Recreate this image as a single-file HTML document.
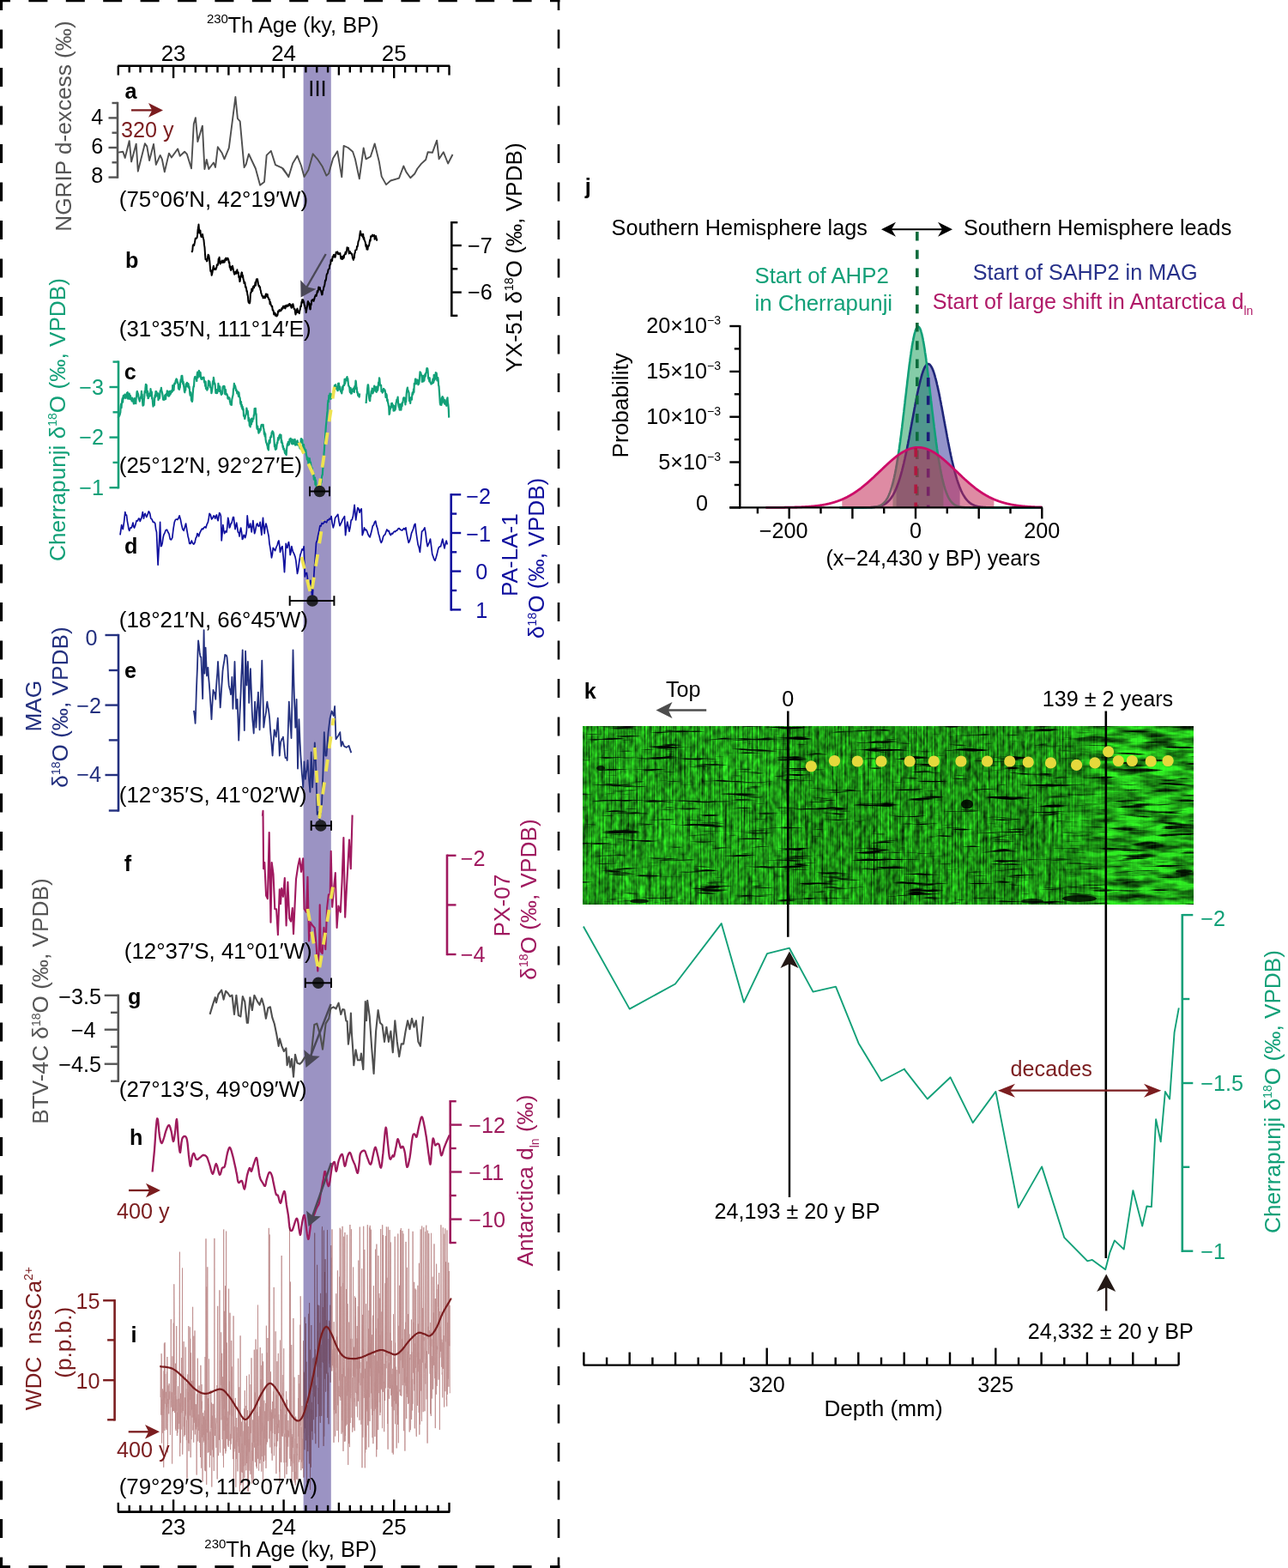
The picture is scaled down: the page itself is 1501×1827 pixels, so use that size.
<!DOCTYPE html><html><head><meta charset="utf-8"><style>html,body{margin:0;padding:0;background:#fff;overflow:hidden;width:1501px;height:1827px;}svg{display:block}</style></head><body><svg width="1501" height="1827" viewBox="0 0 1501 1827" font-family='"Liberation Sans", Arial, sans-serif'>
<rect width="1501" height="1827" fill="#fff"/>
<g stroke="#000" fill="none">
<line x1="1.5" y1="-10" x2="1.5" y2="1830" stroke-width="3.2" stroke-dasharray="22 22.5" stroke-dashoffset="0"/>
<line x1="651" y1="-10" x2="651" y2="1830" stroke-width="2.6" stroke-dasharray="22 22.5" stroke-dashoffset="0"/>
<line x1="-10" y1="1" x2="652.4" y2="1" stroke-width="2.6" stroke-dasharray="22 21.4" stroke-dashoffset="0"/>
<line x1="-10" y1="1825.5" x2="652.4" y2="1825.5" stroke-width="3.2" stroke-dasharray="22 21.4" stroke-dashoffset="0"/>
</g>
<rect x="353.6" y="77" width="32.2" height="1684" fill="#9b93c3"/>
<line x1="137.3" y1="76.8" x2="524.3" y2="76.8" stroke="#000" stroke-width="2.6" />
<line x1="137.8" y1="76.8" x2="137.8" y2="87.6" stroke="#000" stroke-width="2.4" />
<line x1="150.7" y1="76.8" x2="150.7" y2="84.5" stroke="#000" stroke-width="2.4" />
<line x1="163.5" y1="76.8" x2="163.5" y2="84.5" stroke="#000" stroke-width="2.4" />
<line x1="176.4" y1="76.8" x2="176.4" y2="84.5" stroke="#000" stroke-width="2.4" />
<line x1="189.2" y1="76.8" x2="189.2" y2="84.5" stroke="#000" stroke-width="2.4" />
<line x1="202.1" y1="76.8" x2="202.1" y2="91.1" stroke="#000" stroke-width="2.4" />
<line x1="215.0" y1="76.8" x2="215.0" y2="84.5" stroke="#000" stroke-width="2.4" />
<line x1="227.8" y1="76.8" x2="227.8" y2="84.5" stroke="#000" stroke-width="2.4" />
<line x1="240.7" y1="76.8" x2="240.7" y2="84.5" stroke="#000" stroke-width="2.4" />
<line x1="253.5" y1="76.8" x2="253.5" y2="84.5" stroke="#000" stroke-width="2.4" />
<line x1="266.4" y1="76.8" x2="266.4" y2="87.6" stroke="#000" stroke-width="2.4" />
<line x1="279.2" y1="76.8" x2="279.2" y2="84.5" stroke="#000" stroke-width="2.4" />
<line x1="292.1" y1="76.8" x2="292.1" y2="84.5" stroke="#000" stroke-width="2.4" />
<line x1="304.9" y1="76.8" x2="304.9" y2="84.5" stroke="#000" stroke-width="2.4" />
<line x1="317.8" y1="76.8" x2="317.8" y2="84.5" stroke="#000" stroke-width="2.4" />
<line x1="330.6" y1="76.8" x2="330.6" y2="91.1" stroke="#000" stroke-width="2.4" />
<line x1="343.5" y1="76.8" x2="343.5" y2="84.5" stroke="#000" stroke-width="2.4" />
<line x1="356.4" y1="76.8" x2="356.4" y2="84.5" stroke="#000" stroke-width="2.4" />
<line x1="369.2" y1="76.8" x2="369.2" y2="84.5" stroke="#000" stroke-width="2.4" />
<line x1="382.1" y1="76.8" x2="382.1" y2="84.5" stroke="#000" stroke-width="2.4" />
<line x1="394.9" y1="76.8" x2="394.9" y2="87.6" stroke="#000" stroke-width="2.4" />
<line x1="407.8" y1="76.8" x2="407.8" y2="84.5" stroke="#000" stroke-width="2.4" />
<line x1="420.6" y1="76.8" x2="420.6" y2="84.5" stroke="#000" stroke-width="2.4" />
<line x1="433.5" y1="76.8" x2="433.5" y2="84.5" stroke="#000" stroke-width="2.4" />
<line x1="446.3" y1="76.8" x2="446.3" y2="84.5" stroke="#000" stroke-width="2.4" />
<line x1="459.2" y1="76.8" x2="459.2" y2="91.1" stroke="#000" stroke-width="2.4" />
<line x1="472.1" y1="76.8" x2="472.1" y2="84.5" stroke="#000" stroke-width="2.4" />
<line x1="484.9" y1="76.8" x2="484.9" y2="84.5" stroke="#000" stroke-width="2.4" />
<line x1="497.8" y1="76.8" x2="497.8" y2="84.5" stroke="#000" stroke-width="2.4" />
<line x1="510.6" y1="76.8" x2="510.6" y2="84.5" stroke="#000" stroke-width="2.4" />
<line x1="523.5" y1="76.8" x2="523.5" y2="87.6" stroke="#000" stroke-width="2.4" />
<line x1="137.3" y1="1761.6" x2="524.3" y2="1761.6" stroke="#000" stroke-width="2.6" />
<line x1="137.8" y1="1761.6" x2="137.8" y2="1750.8" stroke="#000" stroke-width="2.4" />
<line x1="150.7" y1="1761.6" x2="150.7" y2="1753.9" stroke="#000" stroke-width="2.4" />
<line x1="163.5" y1="1761.6" x2="163.5" y2="1753.9" stroke="#000" stroke-width="2.4" />
<line x1="176.4" y1="1761.6" x2="176.4" y2="1753.9" stroke="#000" stroke-width="2.4" />
<line x1="189.2" y1="1761.6" x2="189.2" y2="1753.9" stroke="#000" stroke-width="2.4" />
<line x1="202.1" y1="1761.6" x2="202.1" y2="1747.3" stroke="#000" stroke-width="2.4" />
<line x1="215.0" y1="1761.6" x2="215.0" y2="1753.9" stroke="#000" stroke-width="2.4" />
<line x1="227.8" y1="1761.6" x2="227.8" y2="1753.9" stroke="#000" stroke-width="2.4" />
<line x1="240.7" y1="1761.6" x2="240.7" y2="1753.9" stroke="#000" stroke-width="2.4" />
<line x1="253.5" y1="1761.6" x2="253.5" y2="1753.9" stroke="#000" stroke-width="2.4" />
<line x1="266.4" y1="1761.6" x2="266.4" y2="1750.8" stroke="#000" stroke-width="2.4" />
<line x1="279.2" y1="1761.6" x2="279.2" y2="1753.9" stroke="#000" stroke-width="2.4" />
<line x1="292.1" y1="1761.6" x2="292.1" y2="1753.9" stroke="#000" stroke-width="2.4" />
<line x1="304.9" y1="1761.6" x2="304.9" y2="1753.9" stroke="#000" stroke-width="2.4" />
<line x1="317.8" y1="1761.6" x2="317.8" y2="1753.9" stroke="#000" stroke-width="2.4" />
<line x1="330.6" y1="1761.6" x2="330.6" y2="1747.3" stroke="#000" stroke-width="2.4" />
<line x1="343.5" y1="1761.6" x2="343.5" y2="1753.9" stroke="#000" stroke-width="2.4" />
<line x1="356.4" y1="1761.6" x2="356.4" y2="1753.9" stroke="#000" stroke-width="2.4" />
<line x1="369.2" y1="1761.6" x2="369.2" y2="1753.9" stroke="#000" stroke-width="2.4" />
<line x1="382.1" y1="1761.6" x2="382.1" y2="1753.9" stroke="#000" stroke-width="2.4" />
<line x1="394.9" y1="1761.6" x2="394.9" y2="1750.8" stroke="#000" stroke-width="2.4" />
<line x1="407.8" y1="1761.6" x2="407.8" y2="1753.9" stroke="#000" stroke-width="2.4" />
<line x1="420.6" y1="1761.6" x2="420.6" y2="1753.9" stroke="#000" stroke-width="2.4" />
<line x1="433.5" y1="1761.6" x2="433.5" y2="1753.9" stroke="#000" stroke-width="2.4" />
<line x1="446.3" y1="1761.6" x2="446.3" y2="1753.9" stroke="#000" stroke-width="2.4" />
<line x1="459.2" y1="1761.6" x2="459.2" y2="1747.3" stroke="#000" stroke-width="2.4" />
<line x1="472.1" y1="1761.6" x2="472.1" y2="1753.9" stroke="#000" stroke-width="2.4" />
<line x1="484.9" y1="1761.6" x2="484.9" y2="1753.9" stroke="#000" stroke-width="2.4" />
<line x1="497.8" y1="1761.6" x2="497.8" y2="1753.9" stroke="#000" stroke-width="2.4" />
<line x1="510.6" y1="1761.6" x2="510.6" y2="1753.9" stroke="#000" stroke-width="2.4" />
<line x1="523.5" y1="1761.6" x2="523.5" y2="1750.8" stroke="#000" stroke-width="2.4" />
<text x="202.1" y="71.2" font-size="25.9" fill="#000" text-anchor="middle" font-weight="normal" >23</text>
<text x="202.1" y="1787.6" font-size="25.9" fill="#000" text-anchor="middle" font-weight="normal" >23</text>
<text x="330.6" y="71.2" font-size="25.9" fill="#000" text-anchor="middle" font-weight="normal" >24</text>
<text x="330.6" y="1787.6" font-size="25.9" fill="#000" text-anchor="middle" font-weight="normal" >24</text>
<text x="459.2" y="71.2" font-size="25.9" fill="#000" text-anchor="middle" font-weight="normal" >25</text>
<text x="459.2" y="1787.6" font-size="25.9" fill="#000" text-anchor="middle" font-weight="normal" >25</text>
<text x="240.9" y="26.7" font-size="15">230</text>
<text x="265.6" y="37.8" font-size="25.4" fill="#000" text-anchor="start" font-weight="normal" >Th Age (ky, BP)</text>
<text x="238.3" y="1804" font-size="15">230</text>
<text x="263.3" y="1814.0" font-size="25.4" fill="#000" text-anchor="start" font-weight="normal" >Th Age (ky, BP)</text>
<text x="370.0" y="111.8" font-size="25.6" fill="#000" text-anchor="middle" font-weight="normal" >III</text>
<line x1="137.0" y1="118.8" x2="137.0" y2="207.8" stroke="#555555" stroke-width="2.6" />
<line x1="130.5" y1="120.0" x2="137.0" y2="120.0" stroke="#555555" stroke-width="2.4" />
<line x1="126.5" y1="137.4" x2="137.0" y2="137.4" stroke="#555555" stroke-width="2.4" />
<line x1="130.5" y1="154.7" x2="137.0" y2="154.7" stroke="#555555" stroke-width="2.4" />
<line x1="126.5" y1="172.0" x2="137.0" y2="172.0" stroke="#555555" stroke-width="2.4" />
<line x1="130.5" y1="189.3" x2="137.0" y2="189.3" stroke="#555555" stroke-width="2.4" />
<line x1="126.5" y1="206.6" x2="137.0" y2="206.6" stroke="#555555" stroke-width="2.4" />
<text x="120.2" y="144.8" font-size="25.2" fill="#000" text-anchor="end" font-weight="normal" >4</text>
<text x="120.2" y="178.7" font-size="25.2" fill="#000" text-anchor="end" font-weight="normal" >6</text>
<text x="120.2" y="212.9" font-size="25.2" fill="#000" text-anchor="end" font-weight="normal" >8</text>
<text x="83.0" y="147.0" font-size="26.2" fill="#555555" text-anchor="middle" transform="rotate(-90 83.0 147.0)">NGRIP d-excess (‰)</text>
<text x="145.4" y="114.8" font-size="25.2" fill="#000" text-anchor="start" font-weight="bold" >a</text>
<line x1="153.0" y1="128.4" x2="178.1" y2="128.4" stroke="#7b1d1f" stroke-width="2.3" />
<path d="M190.0,128.4 L173.0,136.7 L177.2,128.4 L173.0,120.1 Z" fill="#7b1d1f"/>
<text x="141.0" y="160.0" font-size="25.2" fill="#7b1d1f" text-anchor="start" font-weight="normal" >320 y</text>
<text x="138.8" y="240.8" font-size="25.9" fill="#000" text-anchor="start" font-weight="normal" >(75°06′N, 42°19′W)</text>
<path d="M137.7,177.6 143.3,176.7 145.7,183.9 150.7,164.1 153.1,188.4 158.7,167.6 160.8,199.6 168.9,167.2 171.3,170.6 174.1,187.0 179.0,167.9 181.8,191.9 186.7,180.9 188.8,185.3 191.8,200.4 196.9,178.6 199.9,183.5 207.2,173.4 209.7,181.8 215.1,176.7 217.9,179.7 223.0,196.3 225.8,144.5 227.9,137.1 230.4,165.1 235.9,146.6 238.4,197.0 240.8,186.0 243.3,197.0 248.9,189.5 251.0,194.9 253.8,171.3 258.7,178.3 261.5,185.3 266.8,172.3 274.4,112.9 276.9,138.1 279.7,141.3 284.6,195.1 286.7,191.6 289.9,179.5 297.9,196.5 303.1,215.8 308.0,211.9 310.7,180.9 315.8,175.8 321.0,192.1 328.7,195.6 336.4,205.9 330.0,196.5 336.3,206.3 341.2,190.2 346.5,181.6 351.0,193.0 354.5,206.0 359.4,197.9 364.7,179.3 369.9,185.3 375.5,193.7 380.4,204.6 383.2,202.1 388.1,184.6 393.2,176.2 398.3,206.3 400.6,169.9 405.5,172.0 411.1,176.7 413.9,185.3 418.8,208.4 423.7,172.5 426.5,185.3 431.8,182.5 436.7,167.4 441.9,188.8 444.7,205.6 450.0,215.1 455.2,210.5 465.0,207.7 470.3,193.5 473.4,200.4 478.3,207.3 483.2,202.5 486.4,196.5 490.9,190.9 496.2,186.0 498.6,177.2 503.9,177.8 509.1,163.7 511.6,185.3 516.8,177.2 522.1,190.5 527.5,180.0" fill="none" stroke="#4f4f4f" stroke-width="1.9" stroke-linejoin="round" />
<line x1="526.3" y1="258.0" x2="526.3" y2="369.0" stroke="#000" stroke-width="2.6" />
<line x1="526.3" y1="259.2" x2="533.3" y2="259.2" stroke="#000" stroke-width="2.4" />
<line x1="526.3" y1="286.0" x2="537.8" y2="286.0" stroke="#000" stroke-width="2.4" />
<line x1="526.3" y1="313.3" x2="533.3" y2="313.3" stroke="#000" stroke-width="2.4" />
<line x1="526.3" y1="340.6" x2="537.8" y2="340.6" stroke="#000" stroke-width="2.4" />
<line x1="526.3" y1="367.8" x2="533.3" y2="367.8" stroke="#000" stroke-width="2.4" />
<text x="545.0" y="294.5" font-size="25.2" fill="#000" text-anchor="start" font-weight="normal" >−7</text>
<text x="545.0" y="349.0" font-size="25.2" fill="#000" text-anchor="start" font-weight="normal" >−6</text>
<text x="607.6" y="300.0" font-size="26.2" fill="#000" text-anchor="middle" transform="rotate(-90 607.6 300.0)">YX-51 δ<tspan font-size="14" dy="-9.5">18</tspan><tspan dy="9.5">O</tspan> (‰, VPDB)</text>
<text x="146.0" y="311.6" font-size="25.2" fill="#000" text-anchor="start" font-weight="bold" >b</text>
<text x="138.8" y="391.8" font-size="25.9" fill="#000" text-anchor="start" font-weight="normal" >(31°35′N, 111°14′E)</text>
<path d="M223.4,292.1 223.9,293.3 224.3,292.0 224.8,286.2 225.3,285.1 225.7,286.0 226.2,286.1 226.6,283.9 227.1,281.8 227.6,278.3 228.0,277.6 228.5,277.9 229.0,277.6 229.6,276.8 230.1,273.4 230.6,267.4 231.1,265.0 231.5,261.5 231.9,265.9 232.3,271.5 232.9,271.1 233.4,268.4 233.9,273.5 234.4,275.8 234.9,276.0 235.5,274.7 236.0,273.0 236.5,275.8 237.0,277.9 237.5,279.8 238.0,285.2 238.5,288.4 239.0,296.3 239.5,302.1 240.0,301.9 240.5,303.0 241.0,304.4 241.6,303.9 242.1,299.4 242.6,296.7 243.0,297.4 243.3,297.5 243.8,300.7 244.3,304.2 244.8,310.4 245.3,315.9 245.8,314.8 246.3,317.5 246.7,320.8 247.2,319.0 247.8,316.0 248.4,311.3 248.9,309.9 249.4,314.0 250.0,313.8 250.5,313.7 251.0,312.8 251.5,314.0 251.9,312.4 252.4,311.6 252.8,308.4 253.3,308.2 253.8,309.0 254.2,307.3 254.7,301.4 255.1,302.8 255.6,299.8 256.1,304.8 256.7,307.5 257.2,306.3 257.7,305.7 258.2,304.5 258.7,303.6 259.1,306.0 259.6,303.9 260.1,305.8 260.5,303.5 261.0,304.4 261.4,305.6 261.9,304.9 262.3,301.9 262.8,301.7 263.3,300.6 263.8,303.1 264.3,302.5 264.8,301.6 265.3,300.7 265.8,301.6 266.3,302.9 266.8,306.0 267.3,305.4 267.7,311.4 268.2,310.2 268.6,313.6 269.1,315.0 269.6,311.1 270.0,313.7 270.5,311.6 270.9,309.8 271.4,311.8 271.8,313.8 272.3,316.5 272.8,318.2 273.2,319.7 273.7,318.0 274.1,316.7 274.6,317.5 275.1,318.9 275.5,315.9 276.0,316.8 276.4,314.3 276.9,318.5 277.4,318.3 277.8,317.4 278.3,323.1 278.8,323.0 279.4,328.1 279.8,327.3 280.3,321.6 280.7,322.5 281.2,318.4 281.7,317.4 282.1,317.8 282.6,323.1 283.0,320.9 283.5,324.9 284.0,326.6 284.5,330.0 285.0,328.4 285.5,329.7 286.0,334.7 286.5,333.9 287.0,335.8 287.5,339.7 287.9,339.0 288.4,343.5 288.9,345.3 289.3,350.8 289.8,352.7 290.3,350.9 290.9,353.4 291.4,351.5 291.9,342.3 292.4,340.4 292.8,340.8 293.3,336.4 293.8,336.8 294.2,339.0 294.7,336.6 295.1,334.0 295.6,333.4 296.1,335.3 296.5,332.9 297.0,332.7 297.5,329.1 298.0,332.7 298.5,327.1 299.0,325.2 299.5,325.6 300.0,325.1 300.6,328.5 301.1,332.0 301.6,333.5 302.0,332.6 302.5,334.8 303.0,334.3 303.4,337.5 303.9,338.9 304.3,341.5 304.8,342.6 305.3,344.6 305.7,345.1 306.2,345.0 306.6,347.3 307.1,347.0 307.6,346.2 308.0,345.4 308.5,347.3 308.9,347.2 309.4,344.5 309.9,342.5 310.3,343.4 310.8,342.7 311.2,345.7 311.7,342.9 312.1,346.4 312.6,346.4 313.1,348.1 313.6,349.4 314.1,348.8 314.6,354.3 315.1,351.9 315.6,355.0 316.1,355.7 316.6,357.1 317.2,356.8 317.7,361.4 318.2,361.0 318.7,362.4 319.2,366.5 319.7,364.2 320.1,365.0 320.6,364.8 321.0,367.8 321.5,367.2 322.0,366.6 322.5,368.5 323.0,367.6 323.5,367.2 324.1,362.6 324.6,363.4 325.1,362.6 325.6,361.1 326.1,362.3 326.6,362.0 327.1,362.4 327.6,360.3 328.1,361.2 328.6,358.7 329.1,359.4 329.5,359.7 330.0,356.8 330.5,356.8 331.0,358.5 331.5,358.8 332.0,356.5 332.5,359.4 333.0,356.7 333.5,355.7 334.0,355.9 334.5,357.3 335.0,355.6 335.4,355.2 335.9,356.5 336.4,355.9 336.8,355.7 337.2,354.0 337.6,354.2 338.1,356.0 338.6,354.7 339.1,357.3 339.6,358.8 340.0,358.4 340.5,356.6 341.0,354.5 341.4,354.2 341.9,356.3 342.4,358.7 342.9,360.3 343.5,360.0 344.0,364.0 344.5,366.5 345.0,364.8 345.5,361.2 346.0,361.1 346.5,359.6 346.9,363.9 347.4,362.2 347.9,363.6 348.3,364.2 348.8,365.1 349.3,362.2 349.8,360.3 350.4,356.4 350.9,357.2 351.4,351.9 351.8,351.1 352.3,349.1 352.8,352.4 353.2,349.2 353.7,351.1 354.2,351.7 354.7,356.0 355.2,355.7 355.7,359.4 356.2,358.8 356.7,364.2 357.2,361.3 357.7,358.5 358.1,356.3 358.6,352.2 359.0,351.1 359.5,353.4 360.0,352.6 360.4,355.5 360.9,357.8 361.3,360.3 361.8,360.4 362.3,353.8 362.7,355.2 363.2,350.1 363.6,349.6 364.1,350.0 364.6,349.0 365.0,349.4 365.5,350.9 365.9,349.6 366.4,348.1 366.9,345.8 367.3,344.9 367.8,343.7 368.2,345.0 368.7,344.8 369.3,341.7 369.8,338.9 370.3,340.6 370.8,338.6 371.3,334.5 371.8,337.1 372.3,337.1 372.8,335.0 373.3,337.9 373.7,338.4 374.2,339.4 374.7,341.6 375.1,343.5 375.6,343.2 376.2,338.7 376.7,338.1 377.1,335.9 377.6,333.4 378.0,333.6 378.5,330.5 379.0,326.6 379.5,327.3 380.0,325.3 380.5,321.0 381.0,319.1 381.5,318.9 382.0,317.4 382.5,314.5 382.9,313.7 383.4,313.3 383.9,312.9 384.3,309.0 384.8,308.1 385.2,307.9 385.7,302.8 386.2,302.7 386.6,302.1 387.1,304.0 387.6,299.0 388.2,299.8 388.7,297.3 389.2,296.8 389.7,298.3 390.2,299.7 390.7,299.5 391.2,297.1 391.7,293.8 392.2,294.0 392.8,294.4 393.3,293.3 393.8,295.8 394.3,296.1 394.8,295.1 395.3,295.8 395.8,296.0 396.3,295.0 396.8,298.2 397.3,301.4 397.9,301.4 398.4,299.0 398.9,302.1 399.3,301.3 399.8,301.4 400.3,298.1 400.7,300.5 401.2,297.5 401.7,296.2 402.1,296.5 402.6,293.8 403.1,295.9 403.6,293.7 404.1,291.6 404.5,288.3 405.0,289.1 405.5,289.8 405.9,288.8 406.4,292.8 406.8,295.4 407.3,294.4 407.8,293.0 408.3,295.0 408.8,295.1 409.4,295.0 409.9,296.8 410.4,296.0 410.9,300.5 411.4,301.6 411.9,302.9 412.4,300.4 412.8,300.7 413.3,295.1 413.7,294.9 414.2,291.4 414.7,291.4 415.1,291.2 415.6,290.9 416.0,286.9 416.5,287.5 417.0,285.5 417.5,281.7 418.0,280.4 418.5,279.3 419.1,274.8 419.6,271.5 420.0,269.2 420.5,271.9 420.9,273.5 421.4,274.7 421.9,273.0 422.3,274.5 422.8,276.2 423.2,272.8 423.7,278.4 424.2,276.8 424.7,279.8 425.2,280.9 425.7,282.2 426.2,286.0 426.6,287.6 427.1,285.2 427.5,290.6 428.0,290.6 428.5,290.7 429.0,286.5 429.5,286.8 430.0,286.1 430.5,283.4 431.1,279.4 431.6,280.7 432.1,275.3 432.6,275.3 433.1,275.7 433.6,274.7 434.1,273.6 434.6,275.1 435.1,274.5 435.7,274.5 436.2,273.9 436.7,278.8 437.2,277.3 437.6,275.3 438.1,275.1 438.6,277.8 439.0,279.9 439.5,278.3" fill="none" stroke="#000" stroke-width="2.0" stroke-linejoin="round" />
<line x1="138.0" y1="420.4" x2="138.0" y2="569.4" stroke="#12a078" stroke-width="2.6" />
<line x1="131.5" y1="421.6" x2="138.0" y2="421.6" stroke="#12a078" stroke-width="2.4" />
<line x1="127.5" y1="451.0" x2="138.0" y2="451.0" stroke="#12a078" stroke-width="2.4" />
<line x1="131.5" y1="480.3" x2="138.0" y2="480.3" stroke="#12a078" stroke-width="2.4" />
<line x1="127.5" y1="509.6" x2="138.0" y2="509.6" stroke="#12a078" stroke-width="2.4" />
<line x1="131.5" y1="538.9" x2="138.0" y2="538.9" stroke="#12a078" stroke-width="2.4" />
<line x1="127.5" y1="568.2" x2="138.0" y2="568.2" stroke="#12a078" stroke-width="2.4" />
<text x="121.0" y="459.5" font-size="25.2" fill="#12a078" text-anchor="end" font-weight="normal" >−3</text>
<text x="121.0" y="518.1" font-size="25.2" fill="#12a078" text-anchor="end" font-weight="normal" >−2</text>
<text x="121.0" y="576.7" font-size="25.2" fill="#12a078" text-anchor="end" font-weight="normal" >−1</text>
<text x="75.5" y="489.0" font-size="26.2" fill="#12a078" text-anchor="middle" transform="rotate(-90 75.5 489.0)">Cherrapunji δ<tspan font-size="14" dy="-9.5">18</tspan><tspan dy="9.5">O</tspan> (‰, VPDB)</text>
<text x="144.8" y="442.2" font-size="25.2" fill="#000" text-anchor="start" font-weight="bold" >c</text>
<text x="138.8" y="551.2" font-size="25.9" fill="#000" text-anchor="start" font-weight="normal" >(25°12′N, 92°27′E)</text>
<path d="M137.9,486.9 138.3,483.7 138.7,485.2 139.1,482.8 139.5,483.8 139.9,481.9 140.3,480.5 140.7,473.4 141.1,470.6 141.5,475.1 141.9,469.9 142.3,466.1 142.7,464.1 143.1,468.7 143.5,462.4 143.9,460.9 144.3,464.1 144.7,461.5 145.1,463.3 145.5,459.6 145.9,462.9 146.3,463.0 146.7,464.0 147.1,460.1 147.5,460.9 147.9,457.9 148.3,460.8 148.7,457.2 149.1,464.6 149.5,463.9 149.9,464.2 150.3,461.2 150.7,458.5 151.1,465.0 151.5,461.2 151.9,460.9 152.4,463.4 152.8,465.5 153.2,464.8 153.6,467.3 154.1,463.6 154.5,467.7 154.9,465.9 155.4,465.9 155.8,470.4 156.2,470.4 156.6,464.2 157.1,465.0 157.5,466.1 157.9,468.9 158.3,470.2 158.7,463.2 159.1,462.2 159.5,456.8 159.9,455.9 160.3,457.6 160.7,458.3 161.1,459.6 161.5,463.3 161.9,464.9 162.3,465.9 162.8,467.6 163.2,464.1 163.6,464.5 164.1,462.2 164.5,461.7 164.9,455.9 165.3,460.5 165.7,459.5 166.1,468.5 166.5,472.6 166.9,471.9 167.4,471.9 167.8,465.6 168.2,463.4 168.6,455.8 169.1,457.5 169.5,451.9 169.9,447.9 170.4,448.4 170.8,448.8 171.2,457.7 171.6,461.2 172.1,455.9 172.5,464.1 172.9,463.9 173.3,462.0 173.8,458.7 174.2,458.7 174.6,461.6 175.1,461.3 175.5,453.2 175.9,455.9 176.3,459.1 176.8,456.6 177.2,464.6 177.6,463.6 178.1,470.5 178.5,473.6 178.9,471.9 179.3,469.9 179.8,472.1 180.2,464.3 180.6,460.3 181.1,462.7 181.5,456.0 181.9,457.9 182.3,456.2 182.8,458.8 183.2,461.4 183.6,458.4 184.1,458.3 184.5,466.1 184.9,463.9 185.3,460.6 185.8,464.3 186.2,462.1 186.6,456.0 187.1,455.0 187.5,453.8 187.9,451.9 188.3,455.1 188.8,456.7 189.2,458.4 189.6,460.9 190.1,465.6 190.5,463.9 190.9,465.9 191.3,464.3 191.8,465.7 192.2,460.7 192.6,460.2 193.1,464.9 193.5,460.1 193.9,458.9 194.3,459.6 194.8,455.4 195.2,459.0 195.6,460.7 196.0,456.3 196.5,461.6 196.9,460.9 197.3,461.3 197.8,455.8 198.2,459.8 198.6,457.8 199.0,458.8 199.5,455.4 199.9,455.9 200.3,456.8 200.8,456.2 201.2,449.3 201.6,448.8 202.0,453.1 202.5,454.6 202.9,449.9 203.3,446.7 203.8,447.2 204.2,447.2 204.6,443.8 205.0,443.0 205.5,441.5 205.9,441.9 206.3,442.5 206.8,446.1 207.2,445.4 207.6,447.7 208.0,452.8 208.5,448.2 208.9,453.9 209.3,452.2 209.8,451.3 210.2,445.4 210.6,442.4 211.0,445.0 211.5,438.0 211.9,437.9 212.3,437.8 212.8,442.5 213.2,447.3 213.6,444.8 214.0,449.3 214.5,451.9 214.9,455.9 215.3,457.3 215.8,452.5 216.2,454.6 216.6,447.4 217.0,447.4 217.5,448.6 217.9,445.9 218.3,450.3 218.7,447.8 219.2,447.0 219.6,447.3 220.0,451.9 220.5,450.2 220.9,453.9 221.3,458.5 221.7,460.7 222.2,457.2 222.6,460.0 223.0,466.5 223.5,467.1 223.9,467.9 224.3,466.5 224.7,458.6 225.2,452.8 225.6,450.1 226.0,450.4 226.5,442.0 226.9,439.9 227.3,439.0 227.7,440.0 228.1,440.4 228.5,440.7 228.9,441.9 229.3,444.0 229.7,436.2 230.2,433.5 230.6,439.9 231.0,438.0 231.5,437.4 231.9,431.9 232.3,432.5 232.7,438.0 233.2,438.9 233.6,434.1 234.0,439.7 234.5,441.6 234.9,439.9 235.3,441.8 235.7,441.2 236.2,439.8 236.6,440.9 237.0,440.5 237.5,439.7 237.9,443.9 238.3,445.8 238.7,444.4 239.2,449.9 239.6,444.6 240.0,453.0 240.5,452.4 240.9,451.9 241.3,454.6 241.7,453.5 242.2,452.7 242.6,449.1 243.0,443.5 243.4,448.8 243.9,445.9 244.3,444.6 244.7,447.1 245.2,451.6 245.6,451.8 246.0,452.3 246.4,458.2 246.9,455.9 247.3,453.6 247.7,448.2 248.1,444.2 248.5,446.1 248.9,439.9 249.3,442.3 249.7,447.4 250.2,446.4 250.6,447.6 251.0,453.0 251.4,458.0 251.9,457.9 252.3,454.0 252.7,458.1 253.2,458.0 253.6,455.9 254.0,454.9 254.4,446.9 254.9,449.9 255.3,452.4 255.7,455.8 256.2,450.4 256.6,453.7 257.0,455.1 257.4,458.7 257.9,459.9 258.3,458.1 258.7,457.4 259.2,458.8 259.6,451.1 260.0,450.4 260.4,449.9 260.9,451.9 261.3,449.9 261.7,450.6 262.2,459.3 262.6,459.4 263.0,454.1 263.4,458.8 263.9,459.9 264.3,459.1 264.7,459.9 265.1,461.0 265.5,464.3 265.9,464.6 266.3,463.5 266.7,462.9 267.1,464.8 267.5,463.9 267.9,467.9 268.3,469.2 268.7,471.3 269.1,469.3 269.5,467.6 269.9,471.9 270.3,465.6 270.7,463.7 271.1,462.1 271.6,460.0 272.0,453.0 272.4,453.0 272.9,446.9 273.3,449.2 273.7,448.9 274.1,449.7 274.6,452.0 275.0,455.0 275.4,453.9 275.9,455.9 276.3,458.4 276.7,457.3 277.1,456.3 277.6,459.6 278.0,461.8 278.4,457.4 278.9,461.9 279.3,462.7 279.7,464.1 280.1,469.4 280.6,471.3 281.0,468.0 281.4,473.8 281.9,471.9 282.3,476.3 282.7,473.9 283.1,477.6 283.6,476.7 284.0,484.5 284.4,485.2 284.9,485.9 285.3,488.0 285.7,486.0 286.1,483.9 286.6,483.3 287.0,480.7 287.4,475.7 287.9,477.9 288.3,481.2 288.7,478.9 289.1,482.6 289.6,490.5 290.0,486.9 290.4,489.9 290.8,495.9 291.3,491.6 291.7,497.4 292.1,490.6 292.6,488.4 293.0,494.5 293.4,487.5 293.8,489.9 294.2,491.4 294.6,488.5 295.0,488.5 295.4,488.1 295.8,483.5 296.2,484.0 296.6,476.2 297.0,480.9 297.4,477.4 297.8,475.9 298.2,482.5 298.6,482.2 299.0,492.4 299.4,498.7 299.8,499.9 300.2,496.7 300.6,499.4 301.0,501.9 301.4,504.6 301.7,500.1 302.1,500.1 302.5,503.3 302.9,499.8 303.3,501.5 303.7,501.2 304.2,496.8 304.6,495.2 305.0,494.9 305.4,494.9 305.8,495.3 306.2,496.7 306.7,494.8 307.1,499.1 307.5,499.9 307.9,506.0 308.3,503.4 308.7,508.3 309.2,505.4 309.6,511.9 310.0,514.6 310.4,516.0 310.8,516.6 311.2,518.4 311.7,519.8 312.1,522.8 312.5,523.3 312.9,524.4 313.3,515.9 313.7,513.2 314.2,516.5 314.6,515.6 315.0,509.9 315.4,509.2 315.8,507.8 316.2,509.3 316.6,504.0 317.1,503.8 317.5,502.4 317.9,504.8 318.3,503.3 318.7,505.0 319.1,507.7 319.6,514.9 320.0,520.4 320.4,518.2 320.8,523.3 321.2,523.9 321.6,520.3 322.1,522.9 322.5,519.5 322.9,515.7 323.3,516.6 323.7,513.0 324.1,510.1 324.6,512.7 325.0,510.6 325.4,507.6 325.8,507.9 326.2,506.3 326.6,506.6 327.1,510.6 327.5,506.9 327.9,515.7 328.3,513.1 328.7,515.8 329.1,516.3 329.6,521.1 330.0,519.9 330.4,523.7 330.8,522.5 331.2,522.9 331.6,525.9 332.1,528.1 332.5,525.3 332.9,529.2 333.3,528.2 333.7,529.9 334.1,523.5 334.6,519.3 335.0,517.1 335.4,519.0 335.8,514.9 336.2,516.2 336.6,518.4 337.1,517.3 337.5,511.9 337.9,511.3 338.3,511.6 338.7,510.8 339.1,513.3 339.6,515.2 340.0,516.7 340.4,517.2 340.8,512.0 341.2,517.4 341.6,512.9 342.0,514.1 342.5,514.9 342.9,517.1 343.3,511.9 343.7,512.1 344.1,518.6 344.5,514.2 345.0,515.0 345.4,517.1 345.8,516.6 346.2,518.5 346.6,513.3 347.0,516.5 347.5,517.7 347.9,518.6 348.3,516.7 348.7,520.2 349.1,519.9 349.5,522.4 350.0,516.2 350.4,516.1 350.8,511.2 351.2,511.1 351.6,511.6 352.0,515.1 352.5,512.5 352.9,521.1 353.3,519.9 353.7,524.2 354.1,518.2 354.5,526.1 355.0,522.2 355.4,526.4 355.8,527.1 356.2,524.0 356.6,526.6 357.0,530.1 357.5,532.0 357.9,535.4 358.3,534.9 358.7,533.4 359.1,537.9 359.5,540.0 360.0,538.0 360.4,537.3 360.8,534.2 361.2,537.8 361.6,538.2 362.0,538.9 362.5,544.0 362.9,545.6 363.3,546.6 363.7,545.3 364.1,549.9 364.5,552.5 365.0,553.8 365.4,551.4 365.8,558.7 366.2,558.1 366.6,558.2 367.0,556.5 367.4,564.6 367.9,559.4 368.3,562.4 368.7,567.0 369.1,566.6 369.5,567.7 369.9,567.6 370.4,568.6 370.8,567.3 371.2,566.4 371.6,568.2 372.0,564.5 372.4,562.7 372.9,567.1 373.3,566.5 373.7,563.7 374.1,562.4 374.5,562.1 374.9,556.6 375.4,553.6 375.8,553.2 376.2,546.4 376.6,544.7 377.0,531.9 377.4,529.9 377.9,524.5 378.3,517.0 378.7,515.9 379.1,508.3 379.5,501.6 379.9,496.0 380.4,491.2 380.8,486.6 381.2,482.0 381.6,478.9 382.0,470.4 382.4,466.6 382.9,468.3 383.3,460.9 383.7,460.9 384.1,461.6 384.5,458.5 384.9,458.9 385.4,464.8 385.8,464.6 386.2,460.4 386.6,463.3 387.0,459.0 387.4,459.3 387.9,460.3 388.3,456.6 388.7,458.2 389.1,456.5 389.5,454.1 389.9,449.2 390.3,450.2 390.8,450.0 391.2,448.2 391.6,451.9 392.0,453.0 392.4,450.8 392.8,452.0 393.3,455.0 393.7,455.2 394.1,446.9 394.5,451.3 394.9,446.6 395.3,451.6 395.8,453.7 396.2,450.7 396.6,453.7 397.0,455.7 397.4,456.6 397.8,456.6 398.3,458.4 398.7,454.9 399.1,450.5 399.5,454.1 399.9,450.0 400.3,448.8 400.8,448.8 401.2,448.9 401.6,441.8 402.0,447.2 402.4,445.3 402.8,442.9 403.3,442.2 403.7,440.6 404.1,440.0 404.5,439.1 404.9,443.6 405.3,441.1 405.8,446.6 406.2,449.5 406.6,450.0 407.0,450.5 407.4,452.6 407.8,456.9 408.3,457.4 408.7,452.1 409.1,458.7 409.5,458.3 409.9,458.3 410.3,454.0 410.8,456.0 411.2,454.4 411.6,452.5 412.0,455.8 412.4,455.0 412.8,456.9 413.3,450.1 413.7,453.1 414.1,449.9 414.5,443.6 414.9,445.0 415.3,450.9 415.7,451.6 416.2,457.3 416.6,456.6 417.0,459.7 417.4,461.1 417.8,459.1 418.2,461.6 418.7,462.5 419.1,458.3" fill="none" stroke="#12a078" stroke-width="2.2" stroke-linejoin="round" />
<path d="M426.6,470.0 427.0,464.1 427.4,459.4 427.8,458.3 428.2,452.6 428.7,448.3 429.1,448.3 429.5,452.1 429.9,461.0 430.3,464.6 430.7,466.6 431.2,467.2 431.6,461.0 432.0,461.9 432.4,458.1 432.8,455.5 433.2,456.6 433.7,452.7 434.1,453.0 434.5,458.3 434.9,456.9 435.3,456.1 435.7,455.4 436.2,449.7 436.6,451.6 437.0,450.5 437.4,453.5 437.8,454.8 438.2,456.3 438.7,456.9 439.1,450.7 439.5,455.4 439.9,455.0 440.3,454.2 440.7,450.6 441.1,445.6 441.6,445.9 442.0,440.4 442.4,441.6 442.8,447.5 443.2,449.2 443.6,448.7 444.1,448.8 444.5,456.2 444.9,455.0 445.3,455.3 445.7,457.6 446.1,457.1 446.6,453.9 447.0,452.9 447.4,453.3 447.8,455.5 448.2,455.5 448.6,454.6 449.1,457.2 449.5,462.9 449.9,461.6 450.3,459.2 450.7,460.6 451.1,466.9 451.6,465.3 452.0,468.9 452.4,470.0 452.8,472.6 453.2,474.5 453.6,482.9 454.1,481.6 454.5,477.1 454.9,477.0 455.3,473.3 455.7,475.0 456.1,470.0 456.6,470.0 457.0,469.8 457.4,474.1 457.8,471.6 458.2,474.6 458.6,478.6 459.1,472.8 459.5,473.6 459.9,478.3 460.3,474.3 460.7,477.2 461.1,474.3 461.6,469.4 462.0,468.5 462.4,465.6 462.8,466.3 463.2,465.0 463.6,462.6 464.1,469.5 464.5,472.7 464.9,474.6 465.3,474.2 465.7,477.6 466.1,471.1 466.5,476.6 467.0,473.4 467.4,477.6 467.8,474.6 468.2,470.0 468.6,473.1 469.0,468.9 469.5,469.1 469.9,465.0 470.3,463.6 470.7,463.2 471.1,465.7 471.5,463.6 472.0,466.0 472.4,471.3 472.8,466.5 473.2,468.3 473.6,460.0 474.0,456.1 474.5,453.0 474.9,451.6 475.3,456.3 475.7,455.1 476.1,456.7 476.5,457.4 477.0,467.1 477.4,464.7 477.8,465.2 478.2,470.0 478.6,464.8 479.0,463.3 479.5,462.8 479.9,465.6 480.3,459.7 480.7,457.4 481.1,459.7 481.5,458.3 482.0,453.4 482.4,456.9 482.8,446.8 483.2,447.4 483.6,446.7 484.0,441.6 484.5,441.7 484.9,447.4 485.3,444.0 485.7,442.8 486.1,445.1 486.5,442.7 487.0,446.8 487.4,448.3 487.8,444.0 488.2,447.1 488.6,444.4 489.0,439.4 489.5,433.3 489.9,435.0 490.3,434.3 490.7,435.6 491.1,436.7 491.5,438.3 491.9,445.0 492.4,443.3 492.8,439.5 493.2,437.9 493.6,444.4 494.0,440.5 494.4,443.3 494.9,438.3 495.3,436.0 495.7,438.6 496.1,435.0 496.5,434.6 496.9,432.7 497.4,429.1 497.8,430.9 498.2,429.3 498.6,432.1 499.0,439.5 499.4,441.5 499.9,440.0 500.3,444.4 500.7,440.3 501.1,443.8 501.5,445.8 501.9,445.3 502.4,447.6 502.8,446.0 503.2,446.6 503.6,446.9 504.0,446.1 504.4,441.6 504.9,446.0 505.3,445.3 505.7,436.8 506.1,443.3 506.5,438.3 506.9,442.0 507.4,439.4 507.8,434.1 508.2,441.1 508.6,434.5 509.0,437.5 509.4,443.5 509.9,443.0 510.3,440.0 510.7,443.0 511.1,449.0 511.5,450.0 511.9,456.0 512.4,462.9 512.8,469.8 513.2,471.6 513.6,468.2 514.0,465.4 514.4,472.0 514.9,463.4 515.3,469.6 515.7,462.1 516.1,466.9 516.5,463.3 516.9,466.7 517.3,468.5 517.8,466.8 518.2,470.6 518.6,466.0 519.0,471.0 519.4,469.2 519.8,471.6 520.3,472.8 520.7,469.8 521.1,465.1 521.5,463.3 521.9,469.3 522.3,471.0 522.8,476.9 523.2,486.6" fill="none" stroke="#12a078" stroke-width="2.2" stroke-linejoin="round" />
<line x1="525.7" y1="575.1" x2="525.7" y2="711.6" stroke="#0f0f9e" stroke-width="2.6" />
<line x1="525.7" y1="576.3" x2="537.2" y2="576.3" stroke="#0f0f9e" stroke-width="2.4" />
<line x1="525.7" y1="598.6" x2="532.2" y2="598.6" stroke="#0f0f9e" stroke-width="2.4" />
<line x1="525.7" y1="621.0" x2="537.2" y2="621.0" stroke="#0f0f9e" stroke-width="2.4" />
<line x1="525.7" y1="643.3" x2="532.2" y2="643.3" stroke="#0f0f9e" stroke-width="2.4" />
<line x1="525.7" y1="665.6" x2="537.2" y2="665.6" stroke="#0f0f9e" stroke-width="2.4" />
<line x1="525.7" y1="688.0" x2="532.2" y2="688.0" stroke="#0f0f9e" stroke-width="2.4" />
<line x1="525.7" y1="710.4" x2="537.2" y2="710.4" stroke="#0f0f9e" stroke-width="2.4" />
<text x="543.3" y="587.0" font-size="25.2" fill="#0f0f9e" text-anchor="start" font-weight="normal" >−2</text>
<text x="543.3" y="630.5" font-size="25.2" fill="#0f0f9e" text-anchor="start" font-weight="normal" >−1</text>
<text x="554.3" y="674.5" font-size="25.2" fill="#0f0f9e" text-anchor="start" font-weight="normal" >0</text>
<text x="554.3" y="719.5" font-size="25.2" fill="#0f0f9e" text-anchor="start" font-weight="normal" >1</text>
<text x="602.6" y="646.6" font-size="26.2" fill="#0f0f9e" text-anchor="middle" transform="rotate(-90 602.6 646.6)">PA-LA-1</text>
<text x="634.5" y="650.3" font-size="26.2" fill="#0f0f9e" text-anchor="middle" transform="rotate(-90 634.5 650.3)">δ<tspan font-size="14" dy="-9.5">18</tspan><tspan dy="9.5">O</tspan> (‰, VPDB)</text>
<text x="145.0" y="645.0" font-size="25.2" fill="#000" text-anchor="start" font-weight="bold" >d</text>
<text x="138.8" y="730.8" font-size="25.9" fill="#000" text-anchor="start" font-weight="normal" >(18°21′N, 66°45′W)</text>
<path d="M140.0,623.3 140.8,618.0 141.7,611.6 142.5,615.1 143.3,616.6 144.6,607.8 145.8,596.6 146.7,600.1 147.5,600.0 148.3,606.8 149.2,611.6 150.0,616.7 150.8,618.3 152.1,614.7 153.3,615.0 154.2,611.9 155.0,609.1 155.8,613.8 156.6,615.0 157.9,611.4 159.1,606.6 160.4,607.0 161.6,604.1 162.5,604.3 163.3,607.5 164.1,605.3 165.0,603.3 166.3,596.6 167.5,604.1 168.3,600.2 169.1,598.3 170.0,600.6 170.8,602.5 172.1,599.4 173.3,595.8 174.6,598.0 175.8,604.1 177.1,605.1 178.3,608.3 179.6,608.3 180.8,610.0 181.6,616.6 182.5,620.0 183.3,640.2 184.1,658.3 185.0,641.1 185.8,626.6 186.6,608.3 187.5,636.6 188.3,636.1 189.1,633.3 190.0,626.8 190.8,623.3 192.0,620.8 193.3,617.5 194.5,617.2 195.8,620.0 197.0,622.1 198.3,628.3 199.5,628.9 200.8,626.6 202.0,616.3 203.3,608.3 204.5,605.5 205.8,605.0 206.9,605.5 208.0,603.7 209.1,600.8 210.4,605.4 211.6,611.6 212.9,616.8 214.1,618.3 215.4,614.3 216.6,610.0 217.9,618.2 219.1,625.0 219.9,627.9 220.8,633.3 222.0,633.4 223.3,630.0 224.5,632.8 225.8,634.1 227.0,632.2 228.3,626.6 229.1,625.7 229.9,621.6 230.8,622.5 231.6,625.0 232.8,621.1 234.1,618.3 235.3,616.1 236.6,616.6 237.7,614.7 238.8,613.8 239.9,615.0 241.2,610.8 242.4,608.3 243.3,603.7 244.1,598.3 245.3,599.7 246.6,605.0 247.8,603.6 249.1,600.8 249.9,601.8 250.8,604.1 251.6,601.3 252.4,600.0 253.3,604.6 254.1,606.6 254.9,602.0 255.7,597.5 256.6,598.8 257.4,601.6 258.2,630.0 259.1,620.7 259.9,611.6 260.7,617.4 261.6,621.6 262.8,619.0 264.1,620.0 264.9,613.5 265.7,603.3 266.6,607.2 267.4,615.0 268.2,613.5 269.1,610.0 269.9,609.7 270.7,606.6 271.6,602.6 272.4,602.5 273.2,610.7 274.1,616.6 274.9,612.3 275.7,609.1 276.6,614.9 277.4,620.0 278.2,620.5 279.1,625.0 279.9,618.1 280.7,615.0 281.6,620.3 282.4,628.3 283.2,627.6 284.1,623.3 284.9,623.7 285.7,626.6 286.6,623.5 287.4,618.3 288.2,600.8 289.1,609.6 289.9,615.0 290.7,614.2 291.6,610.0 292.4,614.3 293.2,620.0 294.1,612.7 294.9,606.6 295.7,614.2 296.6,621.6 297.4,619.4 298.2,615.0 299.1,610.9 299.9,610.0 300.7,612.6 301.6,613.3 302.4,612.0 303.2,608.3 304.1,617.2 304.9,623.3 305.7,611.4 306.5,603.3 307.4,614.2 308.2,621.6 309.0,614.2 309.9,610.0 310.7,612.7 311.5,616.6 312.4,621.2 313.2,625.0 314.0,633.3 314.9,638.3 315.7,643.5 316.5,649.9 317.4,645.8 318.2,638.3 319.5,640.1 320.7,641.6 322.0,637.5 323.2,635.0 324.0,631.7 324.9,630.0 325.7,635.3 326.5,643.3 327.8,638.3 329.0,636.6 330.3,650.2 331.5,666.6 332.4,650.7 333.2,633.3 334.0,637.8 334.9,638.3 335.7,633.6 336.5,631.6 337.4,637.3 338.2,646.6 339.0,643.6 339.9,636.6 340.7,640.1 341.5,643.3 342.4,644.6 343.2,646.6 344.0,648.9 344.9,653.3 345.7,661.1 346.5,668.3 347.4,664.6 348.2,658.3 349.0,652.3 349.9,646.6 350.9,643.8 352.0,639.9 353.1,640.9 354.2,636.7 355.3,671.9 356.4,667.9 357.5,667.5 358.6,675.2 359.7,682.9 360.8,681.0 361.9,676.3 362.9,686.2 364.0,699.0 365.2,680.7 366.3,663.1 367.4,648.7 368.5,632.3 369.6,629.7 370.7,623.6 371.8,618.6 372.9,612.6 374.0,613.0 375.1,609.5 376.2,610.4 377.3,609.4 378.4,607.5 379.5,608.2 380.6,608.8 381.7,605.9 382.8,606.0 383.9,604.3 385.0,605.0 386.1,601.6 387.2,609.6 388.3,614.8 389.4,611.2 390.5,603.8 391.6,602.1 392.7,600.8 393.8,599.4 394.9,606.9 396.0,612.6 397.1,610.3 398.2,608.2 399.3,605.1 400.4,603.4 401.5,601.6 402.6,623.6 403.7,614.4 404.8,608.2 405.9,613.2 407.0,619.2 408.1,614.5 409.2,606.0 410.3,605.6 411.4,601.6 412.2,595.5 413.1,588.4 413.9,597.2 414.7,606.0 415.8,598.2 416.9,591.7 418.0,592.8 419.1,597.2 420.1,594.1 421.2,592.8 422.3,623.6 423.4,620.3 424.5,614.8 425.6,617.7 426.7,617.1 427.8,619.2 428.9,622.5 430.0,624.7 431.1,625.8 432.2,622.1 433.3,617.6 434.4,612.6 435.5,611.8 436.6,608.3 437.7,607.1 438.8,612.6 439.9,615.7 441.0,621.4 442.1,625.0 443.2,629.8 444.3,632.3 445.4,630.2 446.5,625.7 447.6,623.6 448.7,623.1 449.8,619.8 450.9,617.0 452.0,618.9 453.1,618.3 454.2,622.1 455.3,623.6 456.4,621.5 457.5,622.0 458.6,620.1 459.7,619.2 460.8,619.6 461.9,618.1 463.0,617.9 464.1,615.9 465.2,615.5 466.3,616.9 467.4,617.5 468.5,618.0 469.6,617.0 470.7,615.6 471.8,616.9 472.9,614.8 474.0,622.1 475.1,627.2 476.2,632.3 477.3,630.6 478.4,626.8 479.5,621.4 480.6,618.7 481.7,616.0 482.8,611.8 483.9,610.4 485.0,620.5 486.1,628.0 487.2,634.8 488.3,638.1 489.4,643.3 490.5,632.0 491.6,619.2 492.7,618.6 493.8,617.1 494.9,614.8 496.0,620.8 497.1,630.5 498.2,636.7 499.3,634.1 500.4,631.5 501.5,628.0 502.6,636.4 503.7,645.5 504.8,648.6 505.9,651.8 507.0,653.2 508.1,649.8 509.2,646.1 510.3,641.1 511.4,637.8 512.5,636.9 513.6,636.7 514.7,632.1 515.8,628.0 516.9,634.0 518.0,638.9 519.1,633.4 520.2,630.1 521.3,634.5" fill="none" stroke="#0f0f9e" stroke-width="1.7" stroke-linejoin="round" />
<line x1="138.0" y1="738.8" x2="138.0" y2="945.7" stroke="#23307f" stroke-width="2.6" />
<line x1="122.5" y1="740.0" x2="138.0" y2="740.0" stroke="#23307f" stroke-width="2.4" />
<line x1="126.8" y1="781.0" x2="138.0" y2="781.0" stroke="#23307f" stroke-width="2.4" />
<line x1="122.5" y1="821.6" x2="138.0" y2="821.6" stroke="#23307f" stroke-width="2.4" />
<line x1="126.8" y1="862.4" x2="138.0" y2="862.4" stroke="#23307f" stroke-width="2.4" />
<line x1="122.5" y1="903.0" x2="138.0" y2="903.0" stroke="#23307f" stroke-width="2.4" />
<line x1="126.8" y1="944.5" x2="138.0" y2="944.5" stroke="#23307f" stroke-width="2.4" />
<text x="113.5" y="751.5" font-size="25.2" fill="#23307f" text-anchor="end" font-weight="normal" >0</text>
<text x="118.0" y="830.5" font-size="25.2" fill="#23307f" text-anchor="end" font-weight="normal" >−2</text>
<text x="118.0" y="911.0" font-size="25.2" fill="#23307f" text-anchor="end" font-weight="normal" >−4</text>
<text x="47.6" y="822.7" font-size="26.2" fill="#23307f" text-anchor="middle" transform="rotate(-90 47.6 822.7)">MAG</text>
<text x="79.0" y="824.0" font-size="26.2" fill="#23307f" text-anchor="middle" transform="rotate(-90 79.0 824.0)">δ<tspan font-size="14" dy="-9.5">18</tspan><tspan dy="9.5">O</tspan> (‰, VPDB)</text>
<text x="144.9" y="789.7" font-size="25.2" fill="#000" text-anchor="start" font-weight="bold" >e</text>
<text x="138.8" y="935.3" font-size="25.9" fill="#000" text-anchor="start" font-weight="normal" >(12°35′S, 41°02′W)</text>
<path d="M225.9,827.8 226.8,834.4 227.6,842.9 228.2,827.4 228.8,807.3 229.4,791.6 230.0,777.2 230.5,760.0 231.1,746.4 232.0,753.0 232.8,761.5 233.6,765.3 234.4,765.6 235.0,780.7 235.6,798.5 236.2,814.1 236.9,774.0 237.6,734.1 238.5,784.7 239.1,769.5 239.6,754.6 240.3,771.0 241.0,787.5 241.7,781.6 242.4,777.9 243.0,788.0 243.7,795.7 244.4,804.8 245.1,815.9 245.8,825.7 246.5,838.1 247.1,825.8 247.8,814.9 248.5,803.9 249.2,806.7 249.9,806.6 250.6,810.3 251.3,814.8 251.9,802.5 252.6,792.1 253.3,783.8 254.0,771.0 254.7,782.8 255.4,798.1 256.0,810.6 256.7,824.4 257.4,814.4 258.1,802.6 258.8,793.3 259.5,782.0 260.1,777.2 260.8,772.9 261.5,769.1 262.2,762.8 263.0,764.0 263.7,763.4 264.5,765.6 265.3,774.9 266.0,789.1 266.7,798.4 267.5,802.0 268.3,804.6 269.0,809.3 269.7,800.7 270.4,788.8 271.4,825.8 271.9,813.0 272.5,799.8 273.0,786.2 273.5,771.0 274.4,799.8 275.2,825.8 275.9,819.5 276.6,814.8 277.4,838.2 278.2,862.7 278.8,849.7 279.4,832.7 280.0,820.6 280.7,805.2 281.3,787.8 282.0,774.0 282.7,757.4 283.4,789.3 284.1,821.5 284.8,851.1 285.5,806.1 286.1,758.7 286.8,778.6 287.5,798.4 288.2,783.6 288.9,771.0 289.6,793.7 290.2,818.9 291.1,799.2 291.9,779.2 292.5,795.7 293.1,810.5 293.7,828.5 294.3,838.6 295.0,845.8 295.7,854.5 296.4,836.7 297.1,817.6 297.8,831.6 298.4,847.6 299.1,836.5 299.7,825.4 300.3,816.3 300.9,806.6 301.7,827.7 302.6,850.4 303.2,829.9 303.9,809.6 304.6,791.1 305.3,769.7 306.0,797.1 306.7,820.5 307.3,847.6 308.0,842.3 308.7,836.4 309.4,833.2 310.1,829.3 310.8,821.5 311.4,817.6 312.1,823.1 312.8,826.0 313.5,831.2 314.2,837.7 314.9,848.6 315.5,855.3 316.2,862.9 316.9,872.0 317.6,880.5 318.3,869.5 319.0,860.1 319.7,850.4 320.3,852.9 321.0,855.6 321.7,858.6 322.4,851.6 323.1,843.2 323.8,836.7 324.4,849.8 325.1,864.4 325.8,880.5 326.5,870.9 327.2,864.1 327.9,862.8 328.5,860.8 329.2,861.1 329.9,858.6 330.6,864.8 331.3,871.7 332.0,878.8 332.6,883.2 333.3,882.6 334.0,883.3 334.7,886.0 335.4,861.9 336.1,839.9 336.8,817.6 337.4,828.4 338.1,839.6 338.8,848.8 339.5,860.0 340.2,827.4 340.9,789.8 341.5,757.4 342.2,785.9 342.9,812.1 343.6,828.8 344.3,847.6 345.0,832.6 345.6,814.8 346.3,853.5 347.0,895.5 347.7,868.5 348.4,838.1 349.1,853.4 349.7,866.8 350.4,880.0 351.1,889.9 351.8,901.0 352.5,908.0 353.2,917.4 353.9,904.1 354.5,887.3 355.2,897.4 355.9,907.8 356.6,901.6 357.3,898.3 358.0,892.5 358.6,886.0 359.3,896.9 360.0,907.8 360.7,915.3 361.4,922.9 362.1,898.4 362.7,876.4 363.4,895.5 364.1,917.4 364.8,906.1 365.5,894.2 366.2,879.6 366.8,865.4 367.5,878.5 368.2,894.2 368.9,921.3 369.6,948.9 370.3,948.3 371.0,946.1 371.6,951.0 372.3,954.4 373.7,958.0" fill="none" stroke="#23307f" stroke-width="1.8" stroke-linejoin="round" />
<path d="M373.7,948.9 375.1,935.2 376.4,901.0 377.8,853.1 379.2,880.5 380.5,880.5 382.6,853.1 384.6,836.7 386.7,828.5 388.7,834.0 390.1,823.0 391.5,861.3 394.2,857.2 396.3,853.1 397.6,869.5 399.0,864.1 401.0,869.5 403.8,870.9 406.5,868.9 409.3,877.1" fill="none" stroke="#23307f" stroke-width="1.8" stroke-linejoin="round" />
<line x1="521.0" y1="995.6" x2="521.0" y2="1113.2" stroke="#a0195f" stroke-width="2.6" />
<line x1="521.0" y1="996.8" x2="531.5" y2="996.8" stroke="#a0195f" stroke-width="2.4" />
<line x1="521.0" y1="1054.4" x2="531.5" y2="1054.4" stroke="#a0195f" stroke-width="2.4" />
<line x1="521.0" y1="1112.0" x2="531.5" y2="1112.0" stroke="#a0195f" stroke-width="2.4" />
<text x="536.7" y="1008.5" font-size="25.2" fill="#a0195f" text-anchor="start" font-weight="normal" >−2</text>
<text x="536.7" y="1121.0" font-size="25.2" fill="#a0195f" text-anchor="start" font-weight="normal" >−4</text>
<text x="593.5" y="1055.0" font-size="26.2" fill="#a0195f" text-anchor="middle" transform="rotate(-90 593.5 1055.0)">PX-07</text>
<text x="624.7" y="1048.0" font-size="26.2" fill="#a0195f" text-anchor="middle" transform="rotate(-90 624.7 1048.0)">δ<tspan font-size="14" dy="-9.5">18</tspan><tspan dy="9.5">O</tspan> (‰, VPDB)</text>
<text x="144.7" y="1014.6" font-size="25.2" fill="#000" text-anchor="start" font-weight="bold" >f</text>
<text x="144.8" y="1116.8" font-size="25.9" fill="#000" text-anchor="start" font-weight="normal" >(12°37′S, 41°01′W)</text>
<path d="M305.9,950.8 306.5,944.8 307.1,1012.2 308.3,1005.0 310.1,1043.5 311.9,1047.2 313.7,970.1 315.5,1074.8 316.7,1005.0 318.5,1018.3 320.3,1059.2 322.1,1059.2 323.9,1089.3 325.8,1036.3 327.0,1053.2 328.2,1035.1 330.0,1044.7 331.8,1023.1 333.6,1078.5 335.4,1027.9 337.2,1070.0 339.0,1073.6 340.8,1058.0 342.0,1088.1 345.0,1024.3 347.4,1008.6 349.2,1000.2 351.0,1015.8 353.2,1000.2 354.6,1059.2 357.1,1062.8 358.5,1021.9 360.1,1096.5 361.9,1074.8 364.3,1078.5 366.7,1080.9 368.5,1100.1 370.3,1131.4 372.1,1098.9 372.7,1054.4 373.9,1108.6 375.7,1111.0 377.5,1080.9 379.3,1106.1 381.1,1058.0 382.9,1042.3 384.7,1042.3 385.7,991.8 387.2,1056.8 389.0,1035.1 390.8,1017.1 392.6,1080.9 394.4,1055.6 396.8,1062.8 398.6,1026.7 400.4,976.1 402.2,1068.8 404.0,1033.9 407.0,978.5 408.8,1012.2 410.6,949.6" fill="none" stroke="#a0195f" stroke-width="2.1" stroke-linejoin="round" />
<line x1="137.8" y1="1158.6" x2="137.8" y2="1260.9" stroke="#555555" stroke-width="2.6" />
<line x1="121.7" y1="1159.8" x2="137.8" y2="1159.8" stroke="#555555" stroke-width="2.4" />
<line x1="129.0" y1="1179.8" x2="137.8" y2="1179.8" stroke="#555555" stroke-width="2.4" />
<line x1="121.7" y1="1199.7" x2="137.8" y2="1199.7" stroke="#555555" stroke-width="2.4" />
<line x1="129.0" y1="1219.7" x2="137.8" y2="1219.7" stroke="#555555" stroke-width="2.4" />
<line x1="121.7" y1="1239.7" x2="137.8" y2="1239.7" stroke="#555555" stroke-width="2.4" />
<line x1="129.0" y1="1259.7" x2="137.8" y2="1259.7" stroke="#555555" stroke-width="2.4" />
<text x="118.0" y="1169.5" font-size="25.2" fill="#000" text-anchor="end" font-weight="normal" >−3.5</text>
<text x="111.5" y="1208.5" font-size="25.2" fill="#000" text-anchor="end" font-weight="normal" >−4</text>
<text x="118.0" y="1248.5" font-size="25.2" fill="#000" text-anchor="end" font-weight="normal" >−4.5</text>
<text x="56.4" y="1166.5" font-size="26.2" fill="#555555" text-anchor="middle" transform="rotate(-90 56.4 1166.5)">BTV-4C δ<tspan font-size="14" dy="-9.5">18</tspan><tspan dy="9.5">O</tspan> (‰, VPDB)</text>
<text x="149.0" y="1169.7" font-size="25.2" fill="#000" text-anchor="start" font-weight="bold" >g</text>
<text x="138.8" y="1277.8" font-size="25.9" fill="#000" text-anchor="start" font-weight="normal" >(27°13′S, 49°09′W)</text>
<path d="M244.6,1181.9 248.3,1169.6 250.8,1162.2 252.0,1168.3 254.5,1158.5 258.2,1153.6 260.6,1164.6 263.1,1154.8 265.6,1157.3 268.0,1161.0 270.5,1159.7 273.0,1181.9 275.4,1159.7 277.9,1183.1 280.4,1184.4 282.8,1161.0 285.3,1167.1 287.8,1191.8 289.0,1191.8 291.4,1162.2 293.9,1177.0 296.4,1159.7 300.1,1167.1 302.5,1170.8 305.0,1163.4 307.5,1172.0 309.9,1186.8 312.4,1174.5 314.9,1173.3 317.3,1185.6 319.8,1193.0 322.3,1205.3 324.7,1218.9 326.0,1210.2 328.4,1218.9 330.9,1225.0 333.4,1221.3 334.6,1241.1 336.6,1231.2 338.3,1243.5 340.0,1233.7 342.0,1254.6 344.0,1228.7 346.4,1238.6 349.4,1239.8 351.8,1237.4 355.3,1231.9 357.3,1233.3 360.0,1235.9 362.6,1231.3 364.0,1216.6 366.3,1194.0 369.3,1192.6 373.3,1206.6 376.0,1222.6 377.3,1212.0 379.6,1192.6 383.3,1186.6 385.0,1176.6 386.0,1174.7 388.6,1173.3 391.6,1175.3 394.6,1168.7 397.3,1182.0 399.3,1176.0 401.3,1176.6 403.3,1189.3 404.6,1190.0 405.9,1216.6 407.9,1202.0 408.9,1180.6 409.9,1204.0 411.3,1223.3 412.3,1241.3 414.6,1223.3 416.9,1235.3 419.9,1235.3 420.9,1227.5 423.3,1246.0 425.8,1167.1 427.0,1189.3 428.2,1165.9 430.7,1184.4 433.2,1221.3 435.6,1250.9 438.1,1201.6 440.6,1177.0 443.0,1191.8 445.5,1194.2 448.0,1213.9 450.4,1196.7 452.9,1213.9 455.4,1201.6 457.8,1226.3 460.3,1189.3 462.8,1213.9 465.2,1231.2 467.7,1216.4 470.2,1216.4 472.6,1201.6 475.1,1189.3 477.5,1199.2 480.0,1186.8 482.5,1196.7 484.9,1189.3 487.4,1213.9 489.9,1218.9 493.1,1184.4" fill="none" stroke="#4f4f4f" stroke-width="2.1" stroke-linejoin="round" />
<line x1="524.7" y1="1282.0" x2="524.7" y2="1449.2" stroke="#9e1a5c" stroke-width="2.6" />
<line x1="524.7" y1="1283.2" x2="531.7" y2="1283.2" stroke="#9e1a5c" stroke-width="2.4" />
<line x1="524.7" y1="1310.6" x2="538.2" y2="1310.6" stroke="#9e1a5c" stroke-width="2.4" />
<line x1="524.7" y1="1338.0" x2="531.7" y2="1338.0" stroke="#9e1a5c" stroke-width="2.4" />
<line x1="524.7" y1="1365.5" x2="538.2" y2="1365.5" stroke="#9e1a5c" stroke-width="2.4" />
<line x1="524.7" y1="1393.0" x2="531.7" y2="1393.0" stroke="#9e1a5c" stroke-width="2.4" />
<line x1="524.7" y1="1420.6" x2="538.2" y2="1420.6" stroke="#9e1a5c" stroke-width="2.4" />
<line x1="524.7" y1="1448.0" x2="531.7" y2="1448.0" stroke="#9e1a5c" stroke-width="2.4" />
<text x="546.3" y="1319.7" font-size="25.2" fill="#9e1a5c" text-anchor="start" font-weight="normal" >−12</text>
<text x="546.3" y="1374.5" font-size="25.2" fill="#9e1a5c" text-anchor="start" font-weight="normal" >−11</text>
<text x="546.3" y="1429.5" font-size="25.2" fill="#9e1a5c" text-anchor="start" font-weight="normal" >−10</text>
<text x="620.7" y="1375.5" font-size="26.2" fill="#9e1a5c" text-anchor="middle" transform="rotate(-90 620.7 1375.5)">Antarctica d<tspan font-size="14" dy="7">ln</tspan><tspan dy="-7"> (‰)</tspan></text>
<text x="151.0" y="1334.4" font-size="25.2" fill="#000" text-anchor="start" font-weight="bold" >h</text>
<line x1="150.0" y1="1387.0" x2="175.1" y2="1387.0" stroke="#7b1d1f" stroke-width="2.3" />
<path d="M187.0,1387.0 L170.0,1395.3 L174.2,1387.0 L170.0,1378.7 Z" fill="#7b1d1f"/>
<text x="136.0" y="1420.4" font-size="25.2" fill="#7b1d1f" text-anchor="start" font-weight="normal" >400 y</text>
<path d="M177.6,1365.5 178.0,1361.1 178.6,1354.7 179.3,1347.4 180.0,1339.9 180.6,1331.7 181.2,1322.5 181.8,1314.1 182.4,1308.0 182.8,1304.7 183.2,1303.3 183.6,1303.5 184.0,1305.0 184.4,1308.4 184.9,1313.8 185.4,1319.5 186.0,1324.0 186.5,1327.1 187.1,1329.5 187.7,1331.2 188.4,1332.0 189.0,1331.5 189.6,1330.1 190.3,1328.1 191.0,1326.0 191.7,1323.6 192.4,1320.9 193.2,1318.2 194.0,1316.0 194.7,1314.1 195.5,1312.4 196.2,1311.3 197.0,1311.0 197.6,1311.8 198.3,1313.4 198.9,1315.6 199.6,1318.0 200.2,1321.1 200.8,1325.0 201.4,1328.4 202.0,1330.0 202.5,1329.1 203.0,1326.7 203.5,1323.4 204.0,1320.0 204.5,1315.4 205.0,1309.7 205.5,1305.2 206.0,1304.0 206.5,1307.8 207.0,1315.1 207.5,1323.4 208.0,1330.0 208.5,1334.8 209.0,1339.0 209.5,1342.0 210.0,1342.9 210.4,1340.9 210.9,1336.5 211.4,1331.6 212.0,1328.0 212.6,1326.0 213.4,1324.8 214.2,1324.1 214.9,1324.0 215.7,1324.1 216.5,1324.6 217.3,1325.8 217.9,1328.0 218.5,1331.6 219.0,1336.4 219.5,1341.5 219.9,1345.9 220.4,1350.1 220.9,1354.2 221.4,1357.5 221.9,1358.9 222.4,1357.7 222.9,1354.5 223.4,1350.8 223.9,1347.9 224.4,1346.2 224.9,1344.8 225.4,1344.0 225.9,1343.9 226.6,1345.1 227.3,1347.3 228.1,1349.6 228.9,1350.9 229.9,1351.1 230.9,1350.6 231.9,1349.7 232.9,1348.9 233.9,1348.1 234.9,1347.2 235.9,1346.4 236.9,1345.9 238.0,1346.0 239.0,1346.3 240.0,1346.9 240.9,1347.9 241.7,1349.4 242.4,1351.3 243.1,1353.5 243.9,1355.9 244.9,1359.2 245.9,1363.2 246.9,1366.5 247.9,1367.9 248.9,1366.0 249.9,1361.9 250.9,1357.7 251.9,1355.9 252.9,1357.9 254.0,1362.2 255.0,1366.6 255.9,1368.9 256.7,1368.3 257.5,1365.9 258.2,1363.0 258.9,1360.9 259.7,1360.3 260.4,1360.4 261.2,1360.2 261.9,1358.9 262.7,1355.9 263.4,1351.8 264.2,1347.4 264.9,1343.9 265.6,1341.4 266.3,1339.2 266.9,1337.7 267.5,1336.9 268.1,1337.2 268.7,1338.3 269.3,1339.9 269.9,1341.9 270.6,1344.4 271.4,1347.4 272.2,1350.6 272.9,1353.9 273.7,1357.4 274.5,1361.1 275.2,1364.7 275.9,1367.9 276.4,1371.0 276.8,1373.9 277.3,1376.4 277.9,1377.9 278.8,1378.0 279.8,1376.9 280.9,1375.9 281.9,1375.9 282.7,1378.1 283.5,1381.6 284.2,1384.6 284.9,1385.5 285.7,1383.2 286.4,1378.9 287.2,1374.0 287.9,1369.9 288.7,1366.9 289.5,1364.2 290.2,1362.1 290.9,1360.9 291.5,1361.3 291.9,1362.9 292.4,1364.5 292.9,1364.9 293.6,1363.5 294.3,1361.1 295.1,1358.3 295.9,1355.9 296.7,1353.6 297.5,1351.2 298.2,1349.4 298.9,1348.9 299.5,1350.4 300.0,1353.3 300.4,1356.7 300.9,1359.9 301.4,1363.0 301.8,1366.2 302.3,1369.3 302.9,1371.9 303.6,1373.9 304.3,1375.4 305.1,1376.7 305.9,1377.9 306.7,1379.3 307.5,1380.8 308.2,1381.8 308.9,1381.9 309.4,1380.8 309.9,1378.7 310.3,1376.2 310.9,1373.9 311.6,1371.6 312.3,1369.2 313.1,1367.1 313.9,1365.9 314.6,1365.9 315.4,1366.6 316.1,1367.9 316.9,1369.9 317.7,1372.9 318.4,1376.7 319.2,1380.6 319.9,1383.9 320.5,1386.5 320.9,1388.7 321.4,1390.5 321.9,1391.9 322.4,1392.5 322.8,1392.4 323.3,1392.3 323.9,1392.9 324.6,1395.1 325.3,1398.2 326.1,1400.9 326.9,1401.9 327.7,1400.4 328.4,1397.1 329.2,1393.5 329.9,1390.9 330.5,1389.4 330.9,1388.3 331.4,1388.0 331.9,1388.9 332.4,1391.5 332.9,1395.5 333.4,1400.0 333.9,1403.9 334.4,1407.0 334.9,1409.8 335.4,1412.7 335.9,1415.9 336.4,1420.0 336.8,1424.6 337.3,1428.9 337.9,1431.9 338.5,1433.5 339.2,1434.1 340.0,1433.9 340.9,1432.9 341.8,1430.5 342.9,1426.9 344.0,1423.3 344.9,1420.9 345.5,1419.9 345.9,1419.6 346.3,1420.2 346.9,1421.9 347.6,1425.7 348.4,1431.3 349.2,1436.4 349.9,1438.9 350.4,1437.7 350.9,1434.1 351.3,1429.6 351.9,1425.9 352.5,1422.4 353.3,1418.7 354.1,1416.1 354.9,1415.9 355.6,1419.5 356.4,1426.0 357.2,1432.8 357.9,1437.9 358.4,1440.9 358.9,1443.1 359.3,1443.9 359.9,1442.9 360.5,1439.1 361.3,1433.1 362.1,1426.7 362.9,1421.9 363.6,1419.4 364.4,1418.1 365.1,1417.2 365.9,1415.9 366.6,1414.0 367.4,1411.9 368.1,1409.8 368.9,1407.9 369.6,1406.4 370.4,1405.2 371.2,1403.8 371.9,1401.9 372.4,1399.4 372.9,1396.5 373.3,1393.3 373.9,1389.9 374.6,1386.0 375.4,1381.7 376.1,1377.5 376.9,1373.9 377.4,1370.6 377.9,1367.5 378.3,1365.3 378.9,1364.9 379.6,1367.3 380.3,1371.9 381.1,1376.7 381.8,1379.9 382.4,1381.4 382.8,1382.1 383.3,1381.7 383.8,1379.9 384.5,1376.0 385.3,1370.3 386.1,1364.4 386.8,1359.9 387.6,1357.1 388.4,1355.0 389.2,1353.9 389.8,1353.9 390.4,1356.1 390.8,1359.9 391.3,1363.5 391.8,1364.9 392.5,1363.2 393.2,1359.6 394.0,1355.3 394.8,1351.9 395.8,1349.3 396.8,1346.8 397.9,1345.1 398.8,1344.9 399.7,1347.6 400.4,1352.2 401.1,1356.7 401.8,1358.9 402.6,1357.8 403.3,1354.6 404.1,1350.9 404.8,1347.9 405.6,1346.0 406.3,1344.3 407.1,1343.1 407.8,1342.9 408.6,1344.1 409.3,1346.2 410.1,1348.7 410.8,1350.9 411.6,1352.7 412.3,1354.4 413.1,1356.1 413.8,1357.9 414.6,1360.6 415.4,1363.7 416.1,1366.2 416.8,1366.9 417.4,1365.2 417.9,1361.6 418.4,1357.5 418.8,1353.9 419.1,1351.1 419.2,1348.3 419.5,1345.9 420.0,1343.9 421.0,1342.4 422.3,1341.2 423.6,1340.6 424.8,1340.7 425.7,1341.9 426.4,1344.0 427.2,1346.5 428.0,1348.7 429.0,1351.2 430.0,1354.0 431.0,1356.2 432.0,1356.7 432.9,1354.9 433.7,1351.3 434.5,1347.2 435.2,1343.9 435.8,1341.3 436.4,1338.8 437.0,1337.1 437.6,1336.7 438.3,1338.4 439.1,1341.5 440.0,1345.3 440.8,1348.7 441.6,1352.4 442.4,1356.5 443.2,1359.7 444.0,1360.7 444.6,1358.9 445.2,1355.0 445.7,1349.8 446.4,1343.9 447.1,1336.1 448.0,1326.5 448.8,1318.0 449.6,1313.6 450.2,1314.9 450.8,1320.1 451.4,1326.9 452.0,1332.7 452.6,1337.8 453.1,1343.0 453.7,1347.5 454.4,1350.3 455.2,1350.7 456.0,1349.4 456.9,1347.5 457.6,1346.3 458.1,1346.5 458.4,1347.2 458.8,1347.7 459.2,1347.1 459.7,1345.1 460.4,1342.1 461.0,1338.8 461.6,1335.9 462.1,1333.2 462.6,1330.5 463.0,1328.3 463.5,1327.1 464.0,1327.6 464.6,1329.1 465.1,1331.1 465.6,1332.7 466.0,1334.1 466.4,1335.6 466.7,1336.8 467.2,1337.5 467.7,1337.4 468.3,1336.5 468.9,1335.8 469.6,1335.9 470.2,1337.1 470.8,1338.8 471.4,1341.1 472.0,1343.9 472.5,1348.0 473.1,1353.1 473.7,1357.6 474.4,1359.9 475.1,1359.3 475.9,1356.8 476.7,1353.1 477.6,1348.7 478.4,1343.1 479.2,1336.2 480.0,1329.6 480.8,1324.7 481.4,1322.3 482.0,1321.4 482.6,1321.4 483.2,1321.5 483.8,1322.2 484.4,1323.6 485.0,1324.8 485.6,1324.7 486.1,1323.0 486.7,1320.1 487.3,1316.7 488.0,1313.6 488.7,1310.2 489.6,1306.5 490.4,1303.3 491.2,1301.6 491.8,1301.4 492.4,1302.5 492.9,1304.5 493.6,1307.2 494.3,1310.7 495.2,1315.2 496.0,1320.1 496.8,1324.7 497.4,1329.2 498.0,1333.7 498.6,1338.2 499.1,1342.3 499.8,1346.9 500.4,1351.7 501.0,1355.5 501.5,1356.7 502.0,1354.5 502.4,1349.6 502.8,1343.9 503.1,1339.1 503.5,1335.1 503.9,1331.1 504.3,1328.0 504.7,1326.3 505.3,1327.1 505.9,1329.6 506.5,1332.5 507.1,1334.3 507.7,1334.5 508.3,1333.9 508.9,1333.1 509.5,1332.7 510.1,1332.7 510.7,1332.7 511.3,1333.1 511.9,1334.3 512.5,1337.1 513.1,1341.0 513.7,1344.6 514.3,1346.3 515.1,1345.6 515.9,1343.2 516.7,1340.2 517.5,1337.5 518.3,1335.5 519.1,1333.4 519.9,1331.5 520.7,1329.5 521.6,1327.5 522.5,1325.4 523.4,1323.6 523.9,1322.3" fill="none" stroke="#9e1a5c" stroke-width="2.3" stroke-linejoin="round" />
<g style="mix-blend-mode:multiply">
<path d="M187.0,1628.1 187.2,1590.6 187.4,1594.4 187.7,1648.6 187.9,1643.2 188.1,1577.2 188.3,1581.8 188.5,1681.5 188.8,1630.8 189.0,1653.1 189.2,1669.7 189.4,1634.9 189.6,1618.4 189.9,1648.7 190.1,1632.7 190.3,1620.4 190.5,1621.7 190.7,1709.7 191.0,1597.4 191.2,1642.1 191.4,1565.4 191.6,1605.3 191.8,1666.9 192.1,1564.2 192.3,1629.2 192.5,1609.1 192.7,1600.9 192.9,1635.6 193.2,1621.8 193.4,1664.3 193.6,1653.3 193.8,1634.8 194.0,1666.1 194.3,1627.6 194.5,1598.5 194.7,1639.5 194.9,1581.0 195.1,1613.8 195.4,1692.4 195.6,1658.4 195.8,1630.2 196.0,1635.7 196.2,1614.3 196.5,1629.9 196.7,1647.3 196.9,1629.0 197.1,1612.1 197.3,1630.6 197.6,1629.3 197.8,1621.3 198.0,1638.9 198.2,1641.5 198.4,1671.9 198.7,1645.9 198.9,1612.2 199.1,1596.4 199.3,1537.2 199.5,1631.5 199.8,1639.6 200.0,1639.0 200.2,1622.2 200.4,1622.3 200.6,1705.5 200.9,1625.0 201.1,1580.3 201.3,1636.2 201.5,1644.4 201.7,1630.8 202.0,1625.3 202.2,1541.6 202.4,1644.0 202.6,1639.5 202.8,1496.3 203.1,1533.7 203.3,1626.8 203.5,1645.7 203.7,1646.1 203.9,1594.9 204.2,1625.3 204.4,1588.7 204.6,1664.9 204.8,1626.3 205.0,1666.9 205.3,1612.1 205.5,1608.4 205.7,1545.0 205.9,1644.4 206.1,1630.5 206.4,1673.0 206.6,1645.5 206.8,1666.4 207.0,1669.6 207.2,1631.1 207.5,1615.3 207.7,1655.6 207.9,1665.2 208.1,1639.4 208.3,1638.7 208.6,1629.8 208.8,1658.8 209.0,1593.1 209.2,1514.5 209.4,1458.7 209.7,1696.9 209.9,1644.9 210.1,1634.7 210.3,1681.2 210.5,1623.6 210.8,1652.8 211.0,1665.5 211.2,1646.6 211.4,1640.7 211.6,1582.1 211.9,1639.6 212.1,1646.4 212.3,1639.3 212.5,1477.5 212.7,1694.7 213.0,1676.3 213.2,1600.8 213.4,1642.4 213.6,1643.9 213.8,1637.3 214.1,1563.1 214.3,1662.2 214.5,1650.9 214.7,1673.6 214.9,1663.5 215.2,1647.5 215.4,1628.4 215.6,1672.0 215.8,1643.0 216.0,1649.7 216.3,1569.6 216.5,1648.1 216.7,1618.2 216.9,1636.8 217.1,1669.8 217.4,1678.1 217.6,1657.1 217.8,1654.8 218.0,1722.6 218.2,1611.8 218.5,1649.7 218.7,1654.4 218.9,1601.4 219.1,1633.6 219.3,1622.0 219.6,1681.3 219.8,1545.1 220.0,1690.8 220.2,1677.6 220.4,1681.9 220.7,1610.3 220.9,1630.3 221.1,1649.4 221.3,1546.4 221.5,1631.1 221.8,1559.8 222.0,1631.1 222.2,1698.2 222.4,1640.4 222.6,1576.3 222.9,1677.1 223.1,1642.2 223.3,1619.8 223.5,1642.5 223.7,1608.9 224.0,1641.7 224.2,1651.6 224.4,1642.3 224.6,1522.8 224.8,1666.5 225.1,1660.3 225.3,1660.3 225.5,1608.6 225.7,1680.6 225.9,1556.7 226.2,1657.8 226.4,1645.4 226.6,1621.8 226.8,1654.5 227.0,1550.4 227.3,1671.4 227.5,1653.5 227.7,1636.0 227.9,1644.2 228.1,1662.1 228.4,1652.2 228.6,1665.4 228.8,1636.4 229.0,1685.9 229.2,1718.5 229.5,1633.7 229.7,1624.4 229.9,1662.7 230.1,1626.3 230.3,1582.7 230.6,1600.0 230.8,1679.4 231.0,1655.4 231.2,1648.1 231.4,1666.8 231.7,1653.3 231.9,1660.7 232.1,1614.5 232.3,1643.9 232.5,1680.9 232.8,1646.8 233.0,1623.7 233.2,1671.6 233.4,1687.5 233.6,1698.0 233.9,1590.8 234.1,1624.6 234.3,1636.8 234.5,1710.5 234.7,1657.4 235.0,1613.0 235.2,1641.4 235.4,1632.7 235.6,1674.5 235.8,1659.7 236.1,1726.4 236.3,1663.9 236.5,1654.4 236.7,1646.3 236.9,1680.6 237.2,1650.0 237.4,1671.8 237.6,1667.6 237.8,1651.5 238.0,1678.8 238.3,1643.6 238.5,1684.2 238.7,1713.4 238.9,1651.3 239.1,1581.0 239.4,1714.2 239.6,1654.1 239.8,1683.7 240.0,1443.3 240.2,1666.0 240.5,1665.1 240.7,1729.9 240.9,1499.3 241.1,1601.8 241.3,1668.5 241.6,1669.2 241.8,1476.3 242.0,1675.7 242.2,1692.7 242.4,1629.3 242.7,1677.7 242.9,1636.2 243.1,1692.1 243.3,1664.8 243.5,1583.5 243.8,1649.0 244.0,1665.5 244.2,1668.3 244.4,1709.7 244.6,1687.2 244.9,1671.2 245.1,1668.1 245.3,1695.8 245.5,1664.6 245.7,1619.8 246.0,1640.2 246.2,1654.3 246.4,1663.7 246.6,1634.4 246.8,1732.5 247.1,1661.4 247.3,1649.6 247.5,1673.7 247.7,1689.4 247.9,1635.9 248.2,1637.6 248.4,1649.8 248.6,1697.6 248.8,1635.8 249.0,1672.6 249.3,1713.9 249.5,1687.9 249.7,1645.3 249.9,1442.9 250.1,1621.5 250.4,1647.5 250.6,1672.9 250.8,1653.2 251.0,1652.3 251.2,1653.9 251.5,1665.6 251.7,1675.1 251.9,1686.8 252.1,1659.4 252.3,1658.7 252.6,1657.2 252.8,1643.1 253.0,1614.0 253.2,1723.4 253.4,1584.9 253.7,1521.8 253.9,1599.4 254.1,1650.4 254.3,1669.1 254.5,1696.1 254.8,1684.5 255.0,1619.5 255.2,1623.3 255.4,1669.4 255.6,1677.8 255.9,1503.3 256.1,1629.5 256.3,1631.5 256.5,1692.5 256.7,1633.0 257.0,1624.6 257.2,1584.9 257.4,1613.9 257.6,1552.4 257.8,1630.7 258.1,1654.4 258.3,1650.5 258.5,1606.2 258.7,1576.8 258.9,1642.6 259.2,1677.2 259.4,1630.5 259.6,1604.2 259.8,1675.6 260.0,1696.2 260.3,1677.7 260.5,1709.8 260.7,1432.5 260.9,1666.9 261.1,1571.8 261.4,1641.5 261.6,1527.8 261.8,1687.7 262.0,1649.9 262.2,1666.7 262.5,1498.3 262.7,1693.4 262.9,1693.5 263.1,1541.8 263.3,1691.0 263.6,1434.6 263.8,1676.2 264.0,1650.9 264.2,1655.4 264.4,1564.5 264.7,1676.7 264.9,1659.5 265.1,1661.3 265.3,1652.2 265.5,1684.2 265.8,1671.6 266.0,1644.6 266.2,1685.9 266.4,1611.8 266.6,1501.7 266.9,1666.8 267.1,1678.7 267.3,1609.5 267.5,1609.7 267.7,1648.5 268.0,1529.7 268.2,1659.1 268.4,1686.0 268.6,1689.1 268.8,1670.8 269.1,1682.6 269.3,1673.6 269.5,1662.2 269.7,1562.0 269.9,1676.2 270.2,1661.6 270.4,1592.5 270.6,1650.2 270.8,1629.0 271.0,1659.1 271.3,1676.7 271.5,1700.1 271.7,1682.2 271.9,1655.8 272.1,1533.3 272.4,1728.7 272.6,1632.8 272.8,1691.4 273.0,1662.1 273.2,1673.1 273.5,1686.7 273.7,1688.1 273.9,1681.8 274.1,1657.2 274.3,1628.9 274.6,1654.6 274.8,1732.8 275.0,1706.3 275.2,1678.2 275.4,1699.9 275.7,1652.1 275.9,1680.2 276.1,1663.1 276.3,1668.8 276.5,1672.0 276.8,1704.7 277.0,1714.4 277.2,1693.6 277.4,1671.0 277.6,1582.8 277.9,1675.3 278.1,1685.3 278.3,1643.6 278.5,1692.7 278.7,1686.4 279.0,1616.3 279.2,1628.4 279.4,1738.0 279.6,1674.8 279.8,1674.5 280.1,1556.3 280.3,1673.7 280.5,1653.8 280.7,1730.4 280.9,1694.2 281.2,1683.4 281.4,1656.7 281.6,1658.6 281.8,1715.1 282.0,1681.9 282.3,1716.0 282.5,1685.1 282.7,1650.2 282.9,1683.3 283.1,1738.0 283.4,1736.6 283.6,1694.3 283.8,1669.8 284.0,1667.3 284.2,1708.3 284.5,1659.7 284.7,1641.3 284.9,1722.1 285.1,1684.2 285.3,1620.2 285.6,1684.2 285.8,1651.2 286.0,1638.0 286.2,1707.4 286.4,1664.7 286.7,1658.4 286.9,1713.3 287.1,1691.1 287.3,1705.0 287.5,1603.2 287.8,1696.2 288.0,1657.2 288.2,1686.3 288.4,1643.2 288.6,1730.1 288.9,1738.0 289.1,1676.0 289.3,1662.0 289.5,1738.0 289.7,1679.4 290.0,1676.9 290.2,1691.6 290.4,1601.5 290.6,1661.4 290.8,1700.3 291.1,1713.7 291.3,1644.1 291.5,1649.7 291.7,1690.2 291.9,1717.8 292.2,1613.1 292.4,1669.9 292.6,1667.1 292.8,1662.7 293.0,1582.3 293.3,1722.4 293.5,1690.2 293.7,1728.6 293.9,1680.9 294.1,1681.7 294.4,1702.2 294.6,1654.5 294.8,1660.9 295.0,1702.2 295.2,1726.6 295.5,1669.3 295.7,1645.9 295.9,1680.6 296.1,1654.7 296.3,1572.7 296.6,1686.6 296.8,1666.6 297.0,1622.5 297.2,1626.6 297.4,1703.6 297.7,1654.2 297.9,1605.1 298.1,1560.5 298.3,1680.7 298.5,1689.1 298.8,1708.8 299.0,1572.3 299.2,1676.7 299.4,1711.1 299.6,1656.4 299.9,1649.5 300.1,1645.1 300.3,1699.7 300.5,1520.6 300.7,1684.6 301.0,1649.9 301.2,1653.7 301.4,1685.5 301.6,1713.6 301.8,1673.3 302.1,1661.3 302.3,1654.1 302.5,1652.1 302.7,1639.0 302.9,1705.2 303.2,1570.0 303.4,1683.9 303.6,1641.8 303.8,1701.0 304.0,1607.1 304.3,1669.9 304.5,1666.8 304.7,1714.6 304.9,1590.9 305.1,1697.0 305.4,1576.9 305.6,1667.4 305.8,1657.7 306.0,1666.6 306.2,1667.1 306.5,1734.8 306.7,1586.4 306.9,1658.1 307.1,1667.7 307.3,1695.1 307.6,1703.0 307.8,1631.7 308.0,1695.8 308.2,1661.6 308.4,1676.2 308.7,1644.3 308.9,1654.8 309.1,1690.1 309.3,1701.6 309.5,1644.9 309.8,1634.9 310.0,1710.8 310.2,1676.0 310.4,1544.7 310.6,1683.1 310.9,1649.8 311.1,1576.0 311.3,1603.8 311.5,1666.8 311.7,1680.3 312.0,1559.0 312.2,1606.8 312.4,1631.0 312.6,1646.8 312.8,1655.7 313.1,1633.8 313.3,1430.9 313.5,1596.8 313.7,1602.3 313.9,1676.4 314.2,1438.5 314.4,1639.5 314.6,1649.9 314.8,1686.4 315.0,1644.7 315.3,1655.6 315.5,1598.3 315.7,1667.3 315.9,1654.4 316.1,1658.2 316.4,1693.4 316.6,1645.6 316.8,1665.3 317.0,1642.3 317.2,1701.7 317.5,1633.1 317.7,1670.0 317.9,1660.7 318.1,1651.2 318.3,1637.6 318.6,1621.4 318.8,1652.8 319.0,1584.3 319.2,1499.9 319.4,1696.2 319.7,1681.3 319.9,1685.2 320.1,1641.0 320.3,1670.9 320.5,1648.6 320.8,1650.6 321.0,1631.6 321.2,1551.3 321.4,1623.1 321.6,1660.4 321.9,1717.1 322.1,1625.4 322.3,1651.9 322.5,1685.4 322.7,1683.9 323.0,1586.2 323.2,1679.1 323.4,1659.2 323.6,1679.2 323.8,1632.0 324.1,1615.2 324.3,1576.9 324.5,1663.4 324.7,1648.1 324.9,1669.9 325.2,1654.6 325.4,1661.4 325.6,1715.1 325.8,1687.1 326.0,1728.1 326.3,1677.2 326.5,1561.6 326.7,1643.7 326.9,1627.4 327.1,1703.2 327.4,1702.0 327.6,1642.2 327.8,1703.9 328.0,1643.0 328.2,1463.0 328.5,1668.9 328.7,1673.4 328.9,1602.0 329.1,1620.1 329.3,1673.7 329.6,1666.1 329.8,1635.9 330.0,1670.4 330.2,1623.3 330.4,1626.5 330.7,1571.2 330.9,1636.3 331.1,1704.2 331.3,1670.6 331.5,1697.6 331.8,1722.4 332.0,1636.8 332.2,1657.5 332.4,1666.2 332.6,1648.0 332.9,1674.3 333.1,1665.6 333.3,1704.0 333.5,1621.2 333.7,1634.9 334.0,1717.8 334.2,1669.4 334.4,1681.2 334.6,1630.8 334.8,1708.7 335.1,1673.1 335.3,1666.4 335.5,1671.0 335.7,1685.6 335.9,1655.0 336.2,1673.3 336.4,1667.5 336.6,1674.4 336.8,1671.2 337.0,1663.5 337.3,1640.3 337.5,1429.9 337.7,1696.6 337.9,1699.7 338.1,1652.4 338.4,1493.6 338.6,1666.9 338.8,1708.3 339.0,1706.5 339.2,1664.9 339.5,1702.4 339.7,1566.9 339.9,1654.2 340.1,1727.3 340.3,1686.7 340.6,1674.0 340.8,1715.0 341.0,1671.1 341.2,1686.9 341.4,1680.2 341.7,1642.1 341.9,1536.0 342.1,1702.8 342.3,1705.2 342.5,1694.4 342.8,1724.9 343.0,1604.7 343.2,1675.3 343.4,1675.9 343.6,1727.3 343.9,1720.6 344.1,1714.8 344.3,1730.5 344.5,1693.1 344.7,1650.6 345.0,1675.3 345.2,1687.6 345.4,1700.1 345.6,1723.4 345.8,1653.3 346.1,1687.5 346.3,1682.0 346.5,1695.4 346.7,1694.4 346.9,1724.4 347.2,1700.9 347.4,1653.3 347.6,1629.0 347.8,1673.9 348.0,1602.0 348.3,1686.8 348.5,1686.3 348.7,1703.6 348.9,1612.1 349.1,1677.5 349.4,1700.7 349.6,1657.1 349.8,1543.7 350.0,1661.1 350.2,1510.3 350.5,1536.5 350.7,1632.8 350.9,1713.1 351.1,1662.7 351.3,1671.4 351.6,1703.5 351.8,1682.7 352.0,1638.1 352.2,1675.8 352.4,1711.0 352.7,1676.6 352.9,1676.7 353.1,1701.7 353.3,1605.6 353.5,1562.3 353.8,1721.6 354.0,1598.5 354.2,1645.1 354.4,1669.5 354.6,1599.7 354.9,1689.2 355.1,1668.1 355.3,1534.7 355.5,1664.2 355.7,1606.6 356.0,1649.1 356.2,1542.0 356.4,1678.3 356.6,1660.5 356.8,1655.0 357.1,1586.7 357.3,1710.0 357.5,1727.2 357.7,1678.1 357.9,1637.8 358.2,1652.6 358.4,1637.2 358.6,1684.1 358.8,1691.1 359.0,1672.9 359.3,1647.3 359.5,1645.6 359.7,1530.8 359.9,1672.2 360.1,1672.1 360.4,1705.4 360.6,1518.1 360.8,1646.9 361.0,1685.9 361.2,1572.7 361.5,1735.8 361.7,1657.5 361.9,1709.3 362.1,1641.8 362.3,1709.7 362.6,1678.0 362.8,1544.0 363.0,1667.7 363.2,1633.9 363.4,1657.0 363.7,1667.5 363.9,1642.9 364.1,1655.8 364.3,1677.6 364.5,1622.6 364.8,1582.6 365.0,1595.8 365.2,1631.9 365.4,1654.2 365.6,1609.6 365.9,1618.3 366.1,1581.3 366.3,1610.9 366.5,1627.3 366.7,1436.6 367.0,1534.3 367.2,1670.3 367.4,1572.3 367.6,1662.5 367.8,1682.2 368.1,1622.6 368.3,1614.4 368.5,1615.5 368.7,1650.9 368.9,1621.6 369.2,1612.3 369.4,1589.1 369.6,1473.8 369.8,1554.1 370.0,1604.5 370.3,1551.2 370.5,1592.3 370.7,1520.5 370.9,1636.1 371.1,1617.1 371.4,1686.8 371.6,1619.1 371.8,1521.2 372.0,1579.1 372.2,1650.1 372.5,1561.5 372.7,1593.1 372.9,1556.3 373.1,1541.2 373.3,1657.8 373.6,1506.9 373.8,1530.9 374.0,1593.9 374.2,1566.8 374.4,1585.3 374.7,1649.8 374.9,1630.8 375.1,1569.3 375.3,1433.4 375.5,1429.3 375.8,1532.6 376.0,1586.8 376.2,1523.0 376.4,1587.9 376.6,1546.9 376.9,1591.9 377.1,1684.9 377.3,1434.7 377.5,1433.6 377.7,1673.7 378.0,1623.7 378.2,1513.3 378.4,1482.1 378.6,1606.6 378.8,1518.9 379.1,1467.2 379.3,1563.2 379.5,1621.6 379.7,1620.5 379.9,1506.6 380.2,1600.2 380.4,1576.5 380.6,1538.1 380.8,1600.6 381.0,1600.1 381.3,1580.9 381.5,1433.2 381.7,1652.0 381.9,1630.9 382.1,1599.5 382.4,1620.3 382.6,1602.5 382.8,1637.4 383.0,1659.3 383.2,1560.1 383.5,1588.8 383.7,1538.8 383.9,1557.5 384.1,1593.3 384.3,1541.2 384.6,1584.9 384.8,1569.9 385.0,1520.6 385.2,1610.8 385.4,1600.7 385.7,1565.3 385.9,1451.1 386.1,1562.0 386.3,1465.5 386.5,1579.6 386.8,1597.5 387.0,1432.4 387.2,1578.0 387.4,1591.1 387.6,1579.0 387.9,1576.7 388.1,1572.4 388.3,1593.5 388.5,1561.4 388.7,1589.3 389.0,1680.8 389.2,1540.2 389.4,1642.9 389.6,1581.8 389.8,1581.0 390.1,1562.7 390.3,1647.7 390.5,1570.8 390.7,1673.5 390.9,1599.2 391.2,1646.8 391.4,1637.4 391.6,1602.5 391.8,1507.3 392.0,1564.9 392.3,1593.8 392.5,1557.6 392.7,1655.6 392.9,1667.0 393.1,1609.0 393.4,1480.4 393.6,1637.3 393.8,1578.5 394.0,1594.3 394.2,1617.2 394.5,1680.3 394.7,1662.0 394.9,1615.1 395.1,1620.4 395.3,1627.0 395.6,1487.7 395.8,1608.5 396.0,1586.8 396.2,1430.8 396.4,1604.5 396.7,1628.2 396.9,1432.6 397.1,1631.8 397.3,1591.7 397.5,1498.9 397.8,1633.2 398.0,1670.7 398.2,1643.4 398.4,1630.4 398.6,1601.0 398.9,1654.9 399.1,1428.9 399.3,1668.8 399.5,1494.9 399.7,1589.2 400.0,1690.9 400.2,1593.9 400.4,1604.3 400.6,1586.4 400.8,1440.8 401.1,1626.5 401.3,1679.7 401.5,1665.1 401.7,1519.9 401.9,1436.0 402.2,1679.4 402.4,1603.7 402.6,1673.0 402.8,1618.7 403.0,1639.9 403.3,1661.3 403.5,1610.7 403.7,1502.1 403.9,1588.1 404.1,1659.7 404.4,1438.8 404.6,1626.3 404.8,1625.5 405.0,1552.5 405.2,1519.2 405.5,1653.4 405.7,1706.8 405.9,1593.6 406.1,1621.5 406.3,1580.0 406.6,1682.1 406.8,1540.6 407.0,1609.3 407.2,1632.1 407.4,1686.1 407.7,1648.4 407.9,1427.0 408.1,1658.0 408.3,1594.5 408.5,1629.1 408.8,1559.8 409.0,1593.7 409.2,1604.8 409.4,1432.3 409.6,1623.7 409.9,1634.8 410.1,1651.8 410.3,1642.0 410.5,1605.2 410.7,1668.7 411.0,1585.4 411.2,1559.8 411.4,1603.4 411.6,1476.5 411.8,1663.4 412.1,1650.9 412.3,1650.0 412.5,1569.7 412.7,1633.6 412.9,1629.1 413.2,1667.2 413.4,1510.4 413.6,1604.4 413.8,1534.6 414.0,1578.4 414.3,1622.7 414.5,1512.1 414.7,1531.3 414.9,1584.3 415.1,1638.7 415.4,1621.8 415.6,1623.5 415.8,1559.5 416.0,1594.8 416.2,1545.0 416.5,1651.3 416.7,1597.0 416.9,1559.6 417.1,1625.0 417.3,1522.0 417.6,1632.6 417.8,1468.6 418.0,1497.2 418.2,1521.6 418.4,1611.2 418.7,1586.3 418.9,1654.8 419.1,1591.3 419.3,1429.6 419.5,1594.3 419.8,1587.2 420.0,1595.4 420.2,1614.2 420.4,1608.3 420.6,1599.8 420.9,1659.8 421.1,1655.6 421.3,1593.5 421.5,1550.2 421.7,1478.1 422.0,1710.2 422.2,1543.8 422.4,1653.9 422.6,1531.9 422.8,1674.8 423.1,1651.0 423.3,1571.7 423.5,1605.9 423.7,1428.8 423.9,1618.8 424.2,1628.8 424.4,1624.2 424.6,1622.5 424.8,1456.1 425.0,1545.0 425.3,1710.3 425.5,1594.8 425.7,1692.7 425.9,1624.3 426.1,1635.4 426.4,1674.4 426.6,1519.3 426.8,1689.1 427.0,1686.8 427.2,1586.3 427.5,1642.1 427.7,1619.6 427.9,1644.4 428.1,1637.6 428.3,1427.2 428.6,1660.6 428.8,1619.2 429.0,1569.5 429.2,1655.1 429.4,1548.3 429.7,1686.3 429.9,1616.2 430.1,1526.9 430.3,1628.1 430.5,1522.3 430.8,1430.3 431.0,1655.9 431.2,1427.9 431.4,1594.2 431.6,1565.3 431.9,1588.8 432.1,1603.4 432.3,1432.7 432.5,1623.3 432.7,1557.7 433.0,1629.6 433.2,1641.6 433.4,1555.2 433.6,1649.0 433.8,1629.6 434.1,1675.2 434.3,1537.4 434.5,1532.7 434.7,1586.2 434.9,1682.1 435.2,1590.9 435.4,1498.2 435.6,1583.7 435.8,1600.2 436.0,1644.1 436.3,1579.4 436.5,1629.2 436.7,1640.2 436.9,1673.9 437.1,1610.1 437.4,1641.6 437.6,1455.7 437.8,1620.8 438.0,1551.2 438.2,1639.4 438.5,1547.8 438.7,1697.4 438.9,1449.6 439.1,1564.5 439.3,1689.0 439.6,1613.2 439.8,1585.7 440.0,1640.1 440.2,1587.8 440.4,1536.4 440.7,1666.1 440.9,1463.1 441.1,1623.2 441.3,1599.1 441.5,1598.7 441.8,1507.0 442.0,1600.2 442.2,1512.5 442.4,1633.7 442.6,1597.3 442.9,1649.1 443.1,1555.5 443.3,1645.8 443.5,1550.0 443.7,1432.0 444.0,1619.3 444.2,1611.0 444.4,1584.4 444.6,1618.0 444.8,1528.4 445.1,1585.3 445.3,1551.3 445.5,1664.2 445.7,1427.3 445.9,1602.0 446.2,1577.4 446.4,1621.8 446.6,1439.0 446.8,1537.8 447.0,1574.7 447.3,1611.9 447.5,1609.9 447.7,1668.2 447.9,1605.7 448.1,1589.0 448.4,1605.6 448.6,1632.0 448.8,1588.7 449.0,1495.2 449.2,1617.4 449.5,1440.2 449.7,1587.6 449.9,1586.1 450.1,1594.3 450.3,1429.5 450.6,1431.9 450.8,1580.1 451.0,1488.8 451.2,1573.2 451.4,1617.6 451.7,1659.0 451.9,1619.5 452.1,1688.7 452.3,1429.5 452.5,1616.8 452.8,1606.6 453.0,1588.9 453.2,1588.6 453.4,1629.8 453.6,1586.4 453.9,1468.4 454.1,1433.1 454.3,1584.5 454.5,1617.8 454.7,1552.8 455.0,1590.3 455.2,1447.5 455.4,1606.4 455.6,1625.8 455.8,1579.9 456.1,1578.5 456.3,1562.1 456.5,1622.7 456.7,1639.0 456.9,1601.0 457.2,1692.7 457.4,1614.4 457.6,1623.9 457.8,1594.8 458.0,1628.2 458.3,1694.6 458.5,1531.3 458.7,1545.8 458.9,1643.3 459.1,1642.8 459.4,1581.9 459.6,1613.8 459.8,1632.3 460.0,1557.9 460.2,1440.8 460.5,1659.2 460.7,1564.6 460.9,1618.0 461.1,1592.6 461.3,1594.3 461.6,1635.5 461.8,1604.6 462.0,1596.1 462.2,1687.4 462.4,1614.5 462.7,1648.8 462.9,1634.7 463.1,1621.6 463.3,1660.0 463.5,1620.1 463.8,1437.5 464.0,1638.5 464.2,1634.7 464.4,1681.3 464.6,1588.0 464.9,1544.8 465.1,1595.8 465.3,1600.5 465.5,1497.8 465.7,1534.1 466.0,1621.5 466.2,1618.9 466.4,1626.0 466.6,1433.2 466.8,1585.1 467.1,1568.0 467.3,1431.0 467.5,1536.8 467.7,1563.7 467.9,1626.7 468.2,1614.5 468.4,1560.4 468.6,1614.2 468.8,1592.9 469.0,1434.1 469.3,1593.8 469.5,1572.1 469.7,1577.5 469.9,1437.4 470.1,1613.9 470.4,1571.8 470.6,1667.2 470.8,1602.0 471.0,1594.6 471.2,1611.2 471.5,1548.8 471.7,1593.0 471.9,1690.6 472.1,1617.2 472.3,1559.4 472.6,1540.7 472.8,1614.6 473.0,1446.9 473.2,1576.7 473.4,1625.2 473.7,1653.0 473.9,1604.6 474.1,1623.9 474.3,1476.9 474.5,1598.8 474.8,1627.9 475.0,1613.2 475.2,1574.9 475.4,1622.7 475.6,1636.0 475.9,1531.1 476.1,1634.9 476.3,1431.8 476.5,1578.0 476.7,1569.7 477.0,1554.5 477.2,1668.5 477.4,1582.9 477.6,1582.1 477.8,1584.2 478.1,1578.0 478.3,1666.2 478.5,1664.7 478.7,1651.9 478.9,1630.2 479.2,1603.2 479.4,1537.5 479.6,1653.8 479.8,1575.2 480.0,1578.6 480.3,1625.3 480.5,1643.4 480.7,1606.9 480.9,1635.8 481.1,1434.8 481.4,1577.6 481.6,1599.6 481.8,1563.1 482.0,1540.8 482.2,1562.7 482.5,1612.8 482.7,1493.8 482.9,1620.4 483.1,1565.2 483.3,1664.4 483.6,1622.6 483.8,1584.0 484.0,1501.5 484.2,1550.0 484.4,1593.7 484.7,1502.9 484.9,1596.6 485.1,1669.6 485.3,1673.8 485.5,1602.1 485.8,1575.1 486.0,1556.5 486.2,1581.4 486.4,1558.5 486.6,1637.8 486.9,1497.8 487.1,1598.3 487.3,1542.6 487.5,1589.3 487.7,1576.3 488.0,1594.6 488.2,1645.9 488.4,1471.8 488.6,1582.6 488.8,1671.6 489.1,1583.7 489.3,1593.3 489.5,1659.7 489.7,1638.8 489.9,1498.3 490.2,1432.4 490.4,1600.6 490.6,1620.5 490.8,1598.9 491.0,1554.7 491.3,1643.8 491.5,1656.1 491.7,1428.5 491.9,1515.4 492.1,1578.7 492.4,1587.6 492.6,1524.1 492.8,1557.1 493.0,1606.7 493.2,1645.2 493.5,1583.0 493.7,1432.0 493.9,1430.2 494.1,1562.4 494.3,1557.9 494.6,1584.1 494.8,1600.4 495.0,1644.3 495.2,1590.4 495.4,1588.6 495.7,1612.5 495.9,1519.1 496.1,1435.1 496.3,1594.4 496.5,1431.3 496.8,1427.7 497.0,1570.6 497.2,1630.4 497.4,1574.3 497.6,1584.4 497.9,1601.8 498.1,1681.6 498.3,1433.7 498.5,1491.6 498.7,1560.2 499.0,1545.8 499.2,1573.1 499.4,1573.5 499.6,1577.6 499.8,1437.2 500.1,1550.4 500.3,1554.0 500.5,1550.3 500.7,1568.4 500.9,1580.2 501.2,1600.7 501.4,1552.4 501.6,1647.3 501.8,1567.2 502.0,1541.0 502.3,1649.9 502.5,1436.8 502.7,1568.8 502.9,1560.4 503.1,1592.9 503.4,1629.5 503.6,1580.1 503.8,1587.9 504.0,1594.1 504.2,1487.6 504.5,1571.1 504.7,1618.7 504.9,1602.1 505.1,1529.4 505.3,1537.4 505.6,1590.7 505.8,1505.8 506.0,1449.4 506.2,1533.9 506.4,1586.4 506.7,1593.0 506.9,1606.1 507.1,1513.2 507.3,1664.1 507.5,1598.5 507.8,1612.9 508.0,1513.0 508.2,1597.3 508.4,1624.7 508.6,1472.7 508.9,1497.6 509.1,1615.0 509.3,1578.7 509.5,1568.6 509.7,1572.3 510.0,1556.0 510.2,1502.2 510.4,1522.5 510.6,1496.7 510.8,1596.1 511.1,1607.6 511.3,1524.3 511.5,1541.9 511.7,1483.0 511.9,1525.8 512.2,1574.9 512.4,1665.9 512.6,1528.0 512.8,1581.7 513.0,1545.9 513.3,1560.8 513.5,1561.9 513.7,1574.8 513.9,1427.3 514.1,1443.5 514.4,1574.8 514.6,1592.7 514.8,1560.7 515.0,1567.7 515.2,1601.5 515.5,1598.9 515.7,1628.4 515.9,1564.2 516.1,1594.9 516.3,1430.4 516.6,1549.0 516.8,1594.8 517.0,1566.1 517.2,1556.1 517.4,1596.6 517.7,1639.5 517.9,1578.9 518.1,1437.7 518.3,1530.7 518.5,1528.4 518.8,1431.4 519.0,1621.2 519.2,1530.9 519.4,1563.3 519.6,1470.3 519.9,1508.1 520.1,1534.5 520.3,1630.8 520.5,1627.7 520.7,1638.5 521.0,1433.4 521.2,1533.6 521.4,1624.8 521.6,1540.9 521.8,1565.3 522.1,1560.4 522.3,1580.5 522.5,1606.7 522.7,1471.2 522.9,1615.8 523.2,1529.0 523.4,1481.0 523.6,1525.5 523.8,1568.3 524.0,1521.1 524.3,1623.2 524.5,1622.7" fill="none" stroke="rgb(190,140,140)" stroke-width="0.85" stroke-linejoin="round" />
</g>
<path d="M187.2,1592.2 188.1,1592.4 189.2,1592.5 190.5,1592.6 191.9,1592.7 193.5,1592.9 195.1,1593.2 196.8,1593.5 198.5,1593.9 200.1,1594.4 201.6,1595.1 203.0,1595.9 204.5,1596.9 206.0,1598.0 207.5,1599.2 208.9,1600.5 210.4,1601.9 211.8,1603.2 213.3,1604.6 214.6,1605.9 216.0,1607.1 217.3,1608.3 218.5,1609.6 219.8,1610.9 220.9,1612.2 222.1,1613.5 223.3,1614.8 224.5,1616.0 225.6,1617.2 226.8,1618.2 228.0,1619.1 229.2,1619.9 230.3,1620.7 231.4,1621.4 232.5,1622.0 233.7,1622.6 234.8,1623.0 236.0,1623.4 237.3,1623.7 238.6,1623.8 240.0,1623.9 241.5,1623.7 243.1,1623.3 244.9,1622.6 246.7,1621.9 248.5,1621.1 250.3,1620.3 252.1,1619.6 253.8,1619.0 255.3,1618.7 256.8,1618.6 258.0,1618.8 259.1,1619.2 260.2,1619.7 261.1,1620.4 262.0,1621.2 262.9,1622.1 263.7,1623.1 264.5,1624.1 265.4,1625.2 266.4,1626.3 267.3,1627.5 268.3,1628.8 269.2,1630.1 270.2,1631.6 271.1,1633.1 272.1,1634.7 273.1,1636.2 274.0,1637.8 275.0,1639.3 275.9,1640.7 276.9,1642.2 277.9,1643.8 278.8,1645.5 279.8,1647.2 280.7,1648.8 281.7,1650.4 282.7,1651.7 283.6,1652.8 284.6,1653.5 285.5,1653.9 286.5,1653.8 287.5,1653.4 288.4,1652.7 289.4,1651.7 290.3,1650.5 291.3,1649.1 292.3,1647.7 293.2,1646.2 294.2,1644.6 295.1,1643.1 296.1,1641.5 297.1,1639.7 298.0,1637.7 299.0,1635.7 299.9,1633.6 300.9,1631.4 301.9,1629.4 302.8,1627.4 303.8,1625.6 304.7,1623.9 305.7,1622.3 306.6,1620.7 307.6,1619.1 308.6,1617.5 309.5,1616.1 310.5,1614.8 311.4,1613.7 312.4,1612.8 313.4,1612.2 314.3,1611.9 315.3,1611.9 316.2,1612.2 317.1,1612.8 318.0,1613.6 319.0,1614.6 319.9,1615.7 320.9,1617.0 321.8,1618.5 322.9,1619.9 323.9,1621.5 325.0,1623.2 326.2,1625.2 327.4,1627.4 328.7,1629.7 329.9,1632.1 331.2,1634.6 332.4,1636.9 333.6,1639.2 334.8,1641.3 335.9,1643.1 337.0,1644.7 338.0,1646.4 339.0,1647.9 340.0,1649.4 341.0,1650.7 342.0,1651.9 342.9,1653.0 343.8,1653.9 344.7,1654.6 345.5,1655.1 346.3,1655.4 347.1,1655.5 347.8,1655.5 348.6,1655.3 349.3,1654.9 349.9,1654.4 350.6,1653.6 351.3,1652.7 352.0,1651.6 352.7,1650.3 353.4,1648.7 354.1,1646.9 354.9,1644.8 355.6,1642.5 356.3,1640.1 357.0,1637.5 357.7,1634.8 358.5,1632.0 359.2,1629.2 359.9,1626.3 360.6,1623.3 361.3,1620.2 362.1,1617.0 362.8,1613.7 363.5,1610.2 364.2,1606.8 364.9,1603.3 365.7,1599.7 366.4,1596.2 367.1,1592.7 367.8,1589.1 368.6,1585.3 369.3,1581.3 370.0,1577.3 370.8,1573.3 371.5,1569.4 372.2,1565.7 372.9,1562.3 373.6,1559.3 374.3,1556.7 374.9,1554.5 375.6,1552.6 376.2,1551.0 376.8,1549.7 377.4,1548.6 377.9,1547.7 378.5,1547.0 379.1,1546.5 379.7,1546.1 380.3,1545.9 380.9,1546.0 381.5,1546.2 382.0,1546.8 382.6,1547.5 383.2,1548.4 383.8,1549.4 384.4,1550.6 385.0,1551.8 385.6,1553.1 386.3,1554.3 387.0,1555.7 387.6,1557.3 388.4,1559.0 389.1,1560.8 389.8,1562.6 390.5,1564.5 391.3,1566.3 392.0,1568.1 392.8,1569.7 393.5,1571.1 394.2,1572.4 394.9,1573.6 395.6,1574.7 396.2,1575.8 396.9,1576.8 397.6,1577.7 398.3,1578.6 399.1,1579.4 399.9,1580.1 400.7,1580.7 401.5,1581.3 402.4,1581.7 403.4,1582.1 404.3,1582.4 405.3,1582.6 406.3,1582.8 407.3,1582.9 408.3,1583.0 409.3,1583.0 410.3,1583.1 411.2,1583.2 412.2,1583.2 413.1,1583.1 414.0,1583.1 414.9,1583.0 415.9,1582.8 416.8,1582.6 417.8,1582.4 418.8,1582.2 419.9,1581.9 421.0,1581.6 422.1,1581.2 423.3,1580.7 424.5,1580.2 425.7,1579.7 426.9,1579.2 428.2,1578.6 429.4,1578.1 430.6,1577.6 431.9,1577.1 433.1,1576.6 434.3,1576.1 435.5,1575.6 436.8,1575.1 438.0,1574.6 439.2,1574.1 440.4,1573.7 441.6,1573.4 442.8,1573.2 443.9,1573.0 444.9,1573.0 446.0,1573.2 447.0,1573.4 448.0,1573.7 448.9,1574.1 449.9,1574.5 450.8,1574.9 451.7,1575.3 452.6,1575.6 453.4,1575.9 454.3,1576.2 455.0,1576.5 455.8,1576.9 456.5,1577.3 457.2,1577.6 457.9,1577.9 458.6,1578.1 459.2,1578.3 459.9,1578.4 460.6,1578.3 461.4,1578.2 462.0,1577.9 462.7,1577.6 463.4,1577.3 464.1,1576.8 464.8,1576.3 465.5,1575.7 466.2,1575.0 467.0,1574.3 467.8,1573.5 468.7,1572.6 469.6,1571.5 470.5,1570.3 471.5,1569.1 472.5,1567.7 473.5,1566.4 474.5,1565.1 475.5,1563.8 476.5,1562.6 477.4,1561.5 478.4,1560.5 479.4,1559.5 480.4,1558.4 481.4,1557.4 482.4,1556.5 483.4,1555.6 484.3,1554.8 485.3,1554.1 486.2,1553.6 487.0,1553.1 487.8,1552.9 488.6,1552.7 489.4,1552.8 490.1,1552.9 490.8,1553.1 491.5,1553.3 492.1,1553.6 492.8,1553.9 493.5,1554.1 494.2,1554.3 494.9,1554.5 495.7,1554.8 496.4,1555.2 497.1,1555.6 497.8,1555.9 498.5,1556.2 499.3,1556.5 500.0,1556.6 500.7,1556.5 501.4,1556.2 502.1,1555.8 502.9,1555.2 503.6,1554.6 504.3,1553.8 505.0,1552.9 505.7,1551.9 506.5,1550.8 507.2,1549.6 507.9,1548.4 508.6,1547.1 509.3,1545.8 510.0,1544.3 510.7,1542.7 511.4,1541.0 512.1,1539.2 512.8,1537.4 513.5,1535.6 514.2,1533.8 515.0,1532.1 515.8,1530.3 516.7,1528.6 517.7,1526.7 518.8,1524.8 519.9,1522.8 521.1,1520.9 522.1,1519.1 523.2,1517.4 524.1,1515.8 524.8,1514.5 525.4,1513.5" fill="none" stroke="#7b1d1f" stroke-width="2.2" stroke-linejoin="round" stroke-linecap="round"/>
<line x1="133.6" y1="1514.1" x2="133.6" y2="1655.5" stroke="#7b1d1f" stroke-width="2.6" />
<line x1="120.1" y1="1515.3" x2="133.6" y2="1515.3" stroke="#7b1d1f" stroke-width="2.4" />
<line x1="125.1" y1="1561.4" x2="133.6" y2="1561.4" stroke="#7b1d1f" stroke-width="2.4" />
<line x1="120.1" y1="1608.2" x2="133.6" y2="1608.2" stroke="#7b1d1f" stroke-width="2.4" />
<line x1="125.1" y1="1654.3" x2="133.6" y2="1654.3" stroke="#7b1d1f" stroke-width="2.4" />
<text x="116.5" y="1524.5" font-size="25.2" fill="#7b1d1f" text-anchor="end" font-weight="normal" >15</text>
<text x="116.5" y="1617.5" font-size="25.2" fill="#7b1d1f" text-anchor="end" font-weight="normal" >10</text>
<text x="47.9" y="1559.7" font-size="26.2" fill="#7b1d1f" text-anchor="middle" transform="rotate(-90 47.9 1559.7)">WDC&#160; nssCa<tspan font-size="14" dy="-10">2+</tspan><tspan dy="10"></tspan></text>
<text x="83.5" y="1564.3" font-size="26.2" fill="#7b1d1f" text-anchor="middle" transform="rotate(-90 83.5 1564.3)">(p.p.b.)</text>
<text x="152.6" y="1563.6" font-size="25.2" fill="#000" text-anchor="start" font-weight="bold" >i</text>
<line x1="149.7" y1="1668.3" x2="174.1" y2="1668.3" stroke="#7b1d1f" stroke-width="2.3" />
<path d="M186.0,1668.3 L169.0,1676.6 L173.2,1668.3 L169.0,1660.0 Z" fill="#7b1d1f"/>
<text x="135.9" y="1698.4" font-size="25.2" fill="#7b1d1f" text-anchor="start" font-weight="normal" >400 y</text>
<text x="138.7" y="1740.5" font-size="25.9" fill="#000" text-anchor="start" font-weight="normal" >(79°29′S, 112°07′W)</text>
<path d="M348.3,515.8 372.0,568.0 390.0,449.0" fill="none" stroke="#efe350" stroke-width="3.8" stroke-linejoin="round" stroke-dasharray="14 13"/>
<path d="M351.5,649.0 362.5,694.0 376.5,606.0" fill="none" stroke="#efe350" stroke-width="3.8" stroke-linejoin="round" stroke-dasharray="14 13"/>
<path d="M366.8,871.0 372.3,952.0 388.7,836.7" fill="none" stroke="#efe350" stroke-width="3.8" stroke-linejoin="round" stroke-dasharray="14 13"/>
<path d="M358.5,1059.0 371.5,1133.0 388.0,1033.0" fill="none" stroke="#efe350" stroke-width="3.8" stroke-linejoin="round" stroke-dasharray="14 13"/>
<circle cx="372.5" cy="572.5" r="6.8" fill="#222228"/>
<line x1="361.0" y1="572.5" x2="384.0" y2="572.5" stroke="#000" stroke-width="2" />
<line x1="361.0" y1="566.8" x2="361.0" y2="578.2" stroke="#000" stroke-width="2" />
<line x1="384.0" y1="566.8" x2="384.0" y2="578.2" stroke="#000" stroke-width="2" />
<circle cx="364" cy="700" r="6.8" fill="#222228"/>
<line x1="337.7" y1="700.0" x2="389.4" y2="700.0" stroke="#000" stroke-width="2" />
<line x1="337.7" y1="694.2" x2="337.7" y2="705.8" stroke="#000" stroke-width="2" />
<line x1="389.4" y1="694.2" x2="389.4" y2="705.8" stroke="#000" stroke-width="2" />
<circle cx="373.8" cy="962" r="6.8" fill="#222228"/>
<line x1="362.7" y1="962.0" x2="386.0" y2="962.0" stroke="#000" stroke-width="2" />
<line x1="362.7" y1="956.2" x2="362.7" y2="967.8" stroke="#000" stroke-width="2" />
<line x1="386.0" y1="956.2" x2="386.0" y2="967.8" stroke="#000" stroke-width="2" />
<circle cx="370.9" cy="1145.3" r="6.8" fill="#222228"/>
<line x1="355.8" y1="1145.3" x2="386.0" y2="1145.3" stroke="#000" stroke-width="2" />
<line x1="355.8" y1="1139.5" x2="355.8" y2="1151.0" stroke="#000" stroke-width="2" />
<line x1="386.0" y1="1139.5" x2="386.0" y2="1151.0" stroke="#000" stroke-width="2" />
<line x1="379.7" y1="296.0" x2="355.8" y2="337.5" stroke="#4a4856" stroke-width="2.4" />
<path d="M350.6,346.5 L350.2,326.2 L357.7,334.2 L368.4,336.8 Z" fill="#4a4856"/>
<line x1="385.6" y1="1170.0" x2="360.7" y2="1233.8" stroke="#4a4856" stroke-width="2.4" />
<path d="M356.5,1244.0 L354.3,1223.2 L362.2,1230.1 L372.7,1230.8 Z" fill="#4a4856"/>
<line x1="386.0" y1="1355.0" x2="363.1" y2="1420.0" stroke="#4a4856" stroke-width="2.4" />
<path d="M359.5,1429.0 L357.1,1410.7 L364.4,1416.7 L373.9,1417.3 Z" fill="#4a4856"/>
<text x="681.7" y="226.2" font-size="25.2" fill="#000" text-anchor="start" font-weight="bold" >j</text>
<text x="712.6" y="274.2" font-size="25.2" fill="#000" text-anchor="start" font-weight="normal" >Southern Hemisphere lags</text>
<text x="1123.0" y="274.2" font-size="25.2" fill="#000" text-anchor="start" font-weight="normal" >Southern Hemisphere leads</text>
<line x1="1035.0" y1="267.3" x2="1102.0" y2="267.3" stroke="#000" stroke-width="2" />
<path d="M1027.0,267.3 L1044.0,258.8 L1038.9,267.3 L1044.0,275.8 Z" fill="#000"/>
<path d="M1110.0,267.3 L1093.0,275.8 L1098.1,267.3 L1093.0,258.8 Z" fill="#000"/>
<text x="879.5" y="329.7" font-size="25.8" fill="#12a078" text-anchor="start" font-weight="normal" >Start of AHP2</text>
<text x="879.5" y="361.6" font-size="25.8" fill="#12a078" text-anchor="start" font-weight="normal" >in Cherrapunji</text>
<text x="1133.8" y="326.0" font-size="25.2" fill="#27318a" text-anchor="start" font-weight="normal" >Start of SAHP2 in MAG</text>
<text x="1086.8" y="359.5" font-size="25.2" fill="#b01a68" text-anchor="start" font-weight="normal" >Start of large shift in Antarctica d<tspan font-size="14" dy="7">ln</tspan></text>
<path d="M1044.6,568.8 1045.0,567.8 1045.3,566.9 1045.7,565.9 1046.1,564.9 1046.5,563.9 1046.8,562.9 1047.2,561.8 1047.6,560.7 1047.9,559.5 1048.3,558.4 1048.7,557.2 1049.0,556.0 1049.4,554.7 1049.8,553.4 1050.1,552.1 1050.5,550.8 1050.9,549.4 1051.2,548.0 1051.6,546.6 1052.0,545.1 1052.3,543.6 1052.7,542.1 1053.1,540.6 1053.4,539.0 1053.8,537.4 1054.2,535.8 1054.6,534.1 1054.9,532.4 1055.3,530.7 1055.7,529.0 1056.0,527.3 1056.4,525.5 1056.8,523.7 1057.1,521.9 1057.5,520.0 1057.9,518.2 1058.2,516.3 1058.6,514.4 1059.0,512.5 1059.3,510.6 1059.7,508.6 1060.1,506.7 1060.4,504.7 1060.8,502.7 1061.2,500.7 1061.5,498.7 1061.9,496.7 1062.3,494.7 1062.7,492.7 1063.0,490.7 1063.4,488.7 1063.8,486.7 1064.1,484.7 1064.5,482.7 1064.9,480.7 1065.2,478.7 1065.6,476.7 1066.0,474.7 1066.3,472.8 1066.7,470.8 1067.1,468.9 1067.4,467.0 1067.8,465.1 1068.2,463.2 1068.5,461.4 1068.9,459.6 1069.3,457.8 1069.7,456.0 1070.0,454.3 1070.4,452.6 1070.8,450.9 1071.1,449.3 1071.5,447.7 1071.9,446.1 1072.2,444.6 1072.6,443.1 1073.0,441.7 1073.3,440.3 1073.7,439.0 1074.1,437.7 1074.4,436.5 1074.8,435.3 1075.2,434.2 1075.5,433.1 1075.9,432.1 1076.3,431.1 1076.6,430.2 1077.0,429.4 1077.4,428.6 1077.8,427.9 1078.1,427.2 1078.5,426.6 1078.9,426.1 1079.2,425.6 1079.6,425.2 1080.0,424.8 1080.3,424.5 1080.7,424.3 1081.1,424.2 1081.4,424.1 1081.8,424.1 1082.2,424.1 1082.5,424.2 1082.9,424.4 1083.3,424.6 1083.6,425.0 1084.0,425.3 1084.4,425.8 1084.7,426.3 1085.1,426.8 1085.5,427.5 1085.9,428.1 1086.2,428.9 1086.6,429.7 1087.0,430.6 1087.3,431.5 1087.7,432.5 1088.1,433.5 1088.4,434.6 1088.8,435.8 1089.2,437.0 1089.5,438.2 1089.9,439.5 1090.3,440.9 1090.6,442.3 1091.0,443.7 1091.4,445.2 1091.7,446.7 1092.1,448.3 1092.5,449.9 1092.9,451.6 1093.2,453.2 1093.6,455.0 1094.0,456.7 1094.3,458.5 1094.7,460.3 1095.1,462.1 1095.4,464.0 1095.8,465.8 1096.2,467.7 1096.5,469.7 1096.9,471.6 1097.3,473.5 1097.6,475.5 1098.0,477.5 1098.4,479.5 1098.7,481.5 1099.1,483.5 1099.5,485.5 1099.8,487.5 1100.2,489.5 1100.6,491.5 1101.0,493.5 1101.3,495.5 1101.7,497.5 1102.1,499.5 1102.4,501.5 1102.8,503.5 1103.2,505.5 1103.5,507.5 1103.9,509.4 1104.3,511.3 1104.6,513.3 1105.0,515.2 1105.4,517.1 1105.7,518.9 1106.1,520.8 1106.5,522.6 1106.8,524.4 1107.2,526.2 1107.6,528.0 1107.9,529.7 1108.3,531.4 1108.7,533.1 1109.1,534.8 1109.4,536.4 1109.8,538.0 1110.2,539.6 1110.5,541.2 1110.9,542.7 1111.3,544.2 1111.6,545.7 1112.0,547.1 1112.4,548.6 1112.7,550.0 1113.1,551.3 1113.5,552.6 1113.8,553.9 1114.2,555.2 1114.6,556.5 1114.9,557.7 1115.3,558.8 1115.7,560.0 1116.1,561.1 1116.4,562.2 1116.8,563.3 1117.2,564.3 1117.5,565.3 1117.9,566.3 1118.3,567.3 1118.6,568.2 L1118.6,591.4 L1044.6,591.4 Z" fill="#2a2a96" fill-opacity="0.5"/>
<path d="M1040.5,562.9 1040.9,561.4 1041.2,559.9 1041.6,558.3 1042.0,556.7 1042.3,555.0 1042.7,553.3 1043.1,551.5 1043.4,549.7 1043.8,547.8 1044.2,545.8 1044.5,543.8 1044.9,541.7 1045.3,539.6 1045.6,537.4 1046.0,535.1 1046.4,532.8 1046.7,530.4 1047.1,528.0 1047.5,525.5 1047.9,522.9 1048.2,520.4 1048.6,517.7 1049.0,515.0 1049.3,512.3 1049.7,509.5 1050.1,506.6 1050.4,503.8 1050.8,500.8 1051.2,497.9 1051.5,494.9 1051.9,491.8 1052.3,488.8 1052.6,485.7 1053.0,482.6 1053.4,479.4 1053.7,476.3 1054.1,473.1 1054.5,469.9 1054.8,466.7 1055.2,463.5 1055.6,460.3 1056.0,457.1 1056.3,453.9 1056.7,450.8 1057.1,447.6 1057.4,444.5 1057.8,441.4 1058.2,438.3 1058.5,435.3 1058.9,432.2 1059.3,429.3 1059.6,426.4 1060.0,423.5 1060.4,420.7 1060.7,418.0 1061.1,415.3 1061.5,412.7 1061.8,410.2 1062.2,407.7 1062.6,405.3 1062.9,403.1 1063.3,400.9 1063.7,398.8 1064.1,396.8 1064.4,394.9 1064.8,393.1 1065.2,391.4 1065.5,389.8 1065.9,388.4 1066.3,387.0 1066.6,385.8 1067.0,384.7 1067.4,383.8 1067.7,382.9 1068.1,382.2 1068.5,381.6 1068.8,381.2 1069.2,380.8 1069.6,380.6 1069.9,380.6 1070.3,380.6 1070.7,380.8 1071.1,381.2 1071.4,381.6 1071.8,382.2 1072.2,382.9 1072.5,383.8 1072.9,384.7 1073.3,385.8 1073.6,387.0 1074.0,388.4 1074.4,389.8 1074.7,391.4 1075.1,393.1 1075.5,394.9 1075.8,396.8 1076.2,398.8 1076.6,400.9 1076.9,403.1 1077.3,405.3 1077.7,407.7 1078.0,410.2 1078.4,412.7 1078.8,415.3 1079.2,418.0 1079.5,420.7 1079.9,423.5 1080.3,426.4 1080.6,429.3 1081.0,432.2 1081.4,435.3 1081.7,438.3 1082.1,441.4 1082.5,444.5 1082.8,447.6 1083.2,450.8 1083.6,453.9 1083.9,457.1 1084.3,460.3 1084.7,463.5 1085.0,466.7 1085.4,469.9 1085.8,473.1 1086.1,476.3 1086.5,479.4 1086.9,482.6 1087.3,485.7 1087.6,488.8 1088.0,491.8 1088.4,494.9 1088.7,497.9 1089.1,500.8 1089.5,503.8 1089.8,506.6 1090.2,509.5 1090.6,512.3 1090.9,515.0 1091.3,517.7 1091.7,520.4 1092.0,522.9 1092.4,525.5 1092.8,528.0 1093.1,530.4 1093.5,532.8 1093.9,535.1 1094.3,537.4 1094.6,539.6 1095.0,541.7 1095.4,543.8 1095.7,545.8 1096.1,547.8 1096.5,549.7 1096.8,551.5 1097.2,553.3 1097.6,555.0 1097.9,556.7 1098.3,558.3 1098.7,559.9 1099.0,561.4 1099.4,562.9 L1099.4,591.4 L1040.5,591.4 Z" fill="#0c9a52" fill-opacity="0.5"/>
<path d="M978.6,591.4 979.0,591.4 979.4,591.4 979.7,591.4 980.1,591.4 980.5,591.4 980.8,591.4 981.2,591.4 981.6,591.4 981.9,591.4 982.3,591.4 982.7,591.4 983.0,591.4 983.4,591.4 983.8,591.4 984.1,591.4 984.5,591.4 984.9,591.4 985.2,591.4 985.6,591.4 986.0,591.4 986.4,591.4 986.7,591.4 987.1,591.4 987.5,591.4 987.8,591.4 988.2,591.4 988.6,591.4 988.9,591.4 989.3,591.4 989.7,591.4 990.0,591.4 990.4,591.4 990.8,591.4 991.1,591.4 991.5,591.4 991.9,591.4 992.2,591.4 992.6,591.4 993.0,591.4 993.4,591.4 993.7,591.4 994.1,591.4 994.5,591.4 994.8,591.4 995.2,591.4 995.6,591.4 995.9,591.4 996.3,591.4 996.7,591.4 997.0,591.4 997.4,591.4 997.8,591.4 998.1,591.4 998.5,591.4 998.9,591.4 999.2,591.4 999.6,591.4 1000.0,591.4 1000.3,591.4 1000.7,591.4 1001.1,591.4 1001.5,591.4 1001.8,591.4 1002.2,591.4 1002.6,591.4 1002.9,591.4 1003.3,591.4 1003.7,591.4 1004.0,591.4 1004.4,591.4 1004.8,591.4 1005.1,591.4 1005.5,591.4 1005.9,591.4 1006.2,591.4 1006.6,591.4 1007.0,591.3 1007.3,591.3 1007.7,591.3 1008.1,591.3 1008.4,591.3 1008.8,591.3 1009.2,591.3 1009.6,591.3 1009.9,591.3 1010.3,591.3 1010.7,591.3 1011.0,591.3 1011.4,591.3 1011.8,591.3 1012.1,591.3 1012.5,591.2 1012.9,591.2 1013.2,591.2 1013.6,591.2 1014.0,591.2 1014.3,591.2 1014.7,591.2 1015.1,591.1 1015.4,591.1 1015.8,591.1 1016.2,591.1 1016.5,591.0 1016.9,591.0 1017.3,591.0 1017.7,591.0 1018.0,590.9 1018.4,590.9 1018.8,590.9 1019.1,590.8 1019.5,590.8 1019.9,590.8 1020.2,590.7 1020.6,590.7 1021.0,590.6 1021.3,590.6 1021.7,590.5 1022.1,590.4 1022.4,590.4 1022.8,590.3 1023.2,590.2 1023.5,590.2 1023.9,590.1 1024.3,590.0 1024.7,589.9 1025.0,589.8 1025.4,589.7 1025.8,589.6 1026.1,589.5 1026.5,589.4 1026.9,589.3 1027.2,589.2 1027.6,589.0 1028.0,588.9 1028.3,588.7 1028.7,588.6 1029.1,588.4 1029.4,588.2 1029.8,588.1 1030.2,587.9 1030.5,587.7 1030.9,587.5 1031.3,587.2 1031.6,587.0 1032.0,586.8 1032.4,586.5 1032.8,586.3 1033.1,586.0 1033.5,585.7 1033.9,585.4 1034.2,585.1 1034.6,584.7 1035.0,584.4 1035.3,584.0 1035.7,583.7 1036.1,583.3 1036.4,582.9 1036.8,582.5 1037.2,582.0 1037.5,581.6 1037.9,581.1 1038.3,580.6 1038.6,580.1 1039.0,579.6 1039.4,579.0 1039.7,578.4 1040.1,577.8 1040.5,577.2 1040.9,576.6 1041.2,575.9 1041.6,575.3 1042.0,574.6 1042.3,573.8 1042.7,573.1 1043.1,572.3 1043.4,571.5 1043.8,570.7 1044.2,569.8 1044.5,568.9 1044.9,568.0 1045.3,567.1 1045.6,566.1 1046.0,565.1 1046.4,564.1 1046.7,563.1 1047.1,562.0 1047.5,560.9 1047.9,559.8 1048.2,558.6 1048.6,557.4 1049.0,556.2 1049.3,555.0 1049.7,553.7 1050.1,552.4 1050.4,551.0 1050.8,549.7 1051.2,548.3 1051.5,546.9 1051.9,545.4 1052.3,543.9 1052.6,542.4 1053.0,540.9 1053.4,539.3 1053.7,537.7 1054.1,536.1 1054.5,534.5 1054.8,532.8 1055.2,531.1 1055.6,529.4 1056.0,527.6 1056.3,525.8 1056.7,524.1 1057.1,522.2 1057.4,520.4 1057.8,518.6 1058.2,516.7 1058.5,514.8 1058.9,512.9 1059.3,511.0 1059.6,509.0 1060.0,507.1 1060.4,505.1 1060.7,503.1 1061.1,501.1 1061.5,499.1 1061.8,497.1 1062.2,495.1 1062.6,493.1 1062.9,491.1 1063.3,489.1 1063.7,487.1 1064.1,485.1 1064.4,483.1 1064.8,481.1 1065.2,479.1 1065.5,477.1 1065.9,475.1 1066.3,473.2 1066.6,471.2 1067.0,469.3 1067.4,467.4 1067.7,465.5 1068.1,463.6 1068.5,461.7 1068.8,459.9 1069.2,458.1 1069.6,456.4 1069.9,454.6 1070.3,452.9 1070.7,451.2 1071.1,449.6 1071.4,448.0 1071.8,446.4 1072.2,444.9 1072.5,443.4 1072.9,442.0 1073.3,440.6 1073.6,439.3 1074.0,438.0 1074.4,436.7 1074.7,435.5 1075.1,434.4 1075.5,433.3 1075.8,432.3 1076.2,431.3 1076.6,430.4 1076.9,429.5 1077.3,428.7 1077.7,428.0 1078.0,427.3 1078.4,426.7 1078.8,426.2 1079.2,425.7 1079.5,425.2 1079.9,424.9 1080.3,424.6 1080.6,424.4 1081.0,424.2 1081.4,424.1 1081.7,424.1 1082.1,424.1 1082.5,424.2 1082.8,424.4 1083.2,424.6 1083.6,424.9 1083.9,425.2 1084.3,425.7 1084.7,426.2 1085.0,426.7 1085.4,427.3 1085.8,428.0 1086.1,428.7 1086.5,429.5 1086.9,430.4 1087.3,431.3 1087.6,432.3 1088.0,433.3 1088.4,434.4 1088.7,435.5 1089.1,436.7 1089.5,438.0 1089.8,439.3 1090.2,440.6 1090.6,442.0 1090.9,443.4 1091.3,444.9 1091.7,446.4 1092.0,448.0 1092.4,449.6 1092.8,451.2 1093.1,452.9 1093.5,454.6 1093.9,456.4 1094.3,458.1 1094.6,459.9 1095.0,461.7 1095.4,463.6 1095.7,465.5 1096.1,467.4 1096.5,469.3 1096.8,471.2 1097.2,473.2 1097.6,475.1 1097.9,477.1 1098.3,479.1 1098.7,481.1 1099.0,483.1 1099.4,485.1 1099.8,487.1 1100.1,489.1 1100.5,491.1 1100.9,493.1 1101.2,495.1 1101.6,497.1 1102.0,499.1 1102.4,501.1 1102.7,503.1 1103.1,505.1 1103.5,507.1 1103.8,509.0 1104.2,511.0 1104.6,512.9 1104.9,514.8 1105.3,516.7 1105.7,518.6 1106.0,520.4 1106.4,522.2 1106.8,524.1 1107.1,525.8 1107.5,527.6 1107.9,529.4 1108.2,531.1 1108.6,532.8 1109.0,534.5 1109.3,536.1 1109.7,537.7 1110.1,539.3 1110.5,540.9 1110.8,542.4 1111.2,543.9 1111.6,545.4 1111.9,546.9 1112.3,548.3 1112.7,549.7 1113.0,551.0 1113.4,552.4 1113.8,553.7 1114.1,555.0 1114.5,556.2 1114.9,557.4 1115.2,558.6 1115.6,559.8 1116.0,560.9 1116.3,562.0 1116.7,563.1 1117.1,564.1 1117.5,565.1 1117.8,566.1 1118.2,567.1 1118.6,568.0 1118.9,568.9 1119.3,569.8 1119.7,570.7 1120.0,571.5 1120.4,572.3 1120.8,573.1 1121.1,573.8 1121.5,574.6 1121.9,575.3 1122.2,575.9 1122.6,576.6 1123.0,577.2 1123.3,577.8 1123.7,578.4 1124.1,579.0 1124.4,579.6 1124.8,580.1 1125.2,580.6 1125.6,581.1 1125.9,581.6 1126.3,582.0 1126.7,582.5 1127.0,582.9 1127.4,583.3 1127.8,583.7 1128.1,584.0 1128.5,584.4 1128.9,584.7 1129.2,585.1 1129.6,585.4 1130.0,585.7 1130.3,586.0 1130.7,586.3 1131.1,586.5 1131.4,586.8 1131.8,587.0 1132.2,587.2 1132.5,587.5 1132.9,587.7 1133.3,587.9 1133.7,588.1 1134.0,588.2 1134.4,588.4 1134.8,588.6 1135.1,588.7 1135.5,588.9 1135.9,589.0 1136.2,589.2 1136.6,589.3 1137.0,589.4 1137.3,589.5 1137.7,589.6 1138.1,589.7 1138.4,589.8 1138.8,589.9 1139.2,590.0 1139.5,590.1 1139.9,590.2 1140.3,590.2 1140.7,590.3 1141.0,590.4 1141.4,590.4 1141.8,590.5 1142.1,590.6 1142.5,590.6 1142.9,590.7 1143.2,590.7 1143.6,590.8 1144.0,590.8 1144.3,590.8 1144.7,590.9 1145.1,590.9 1145.4,590.9 1145.8,591.0 1146.2,591.0 1146.5,591.0 1146.9,591.0 1147.3,591.1 1147.6,591.1 1148.0,591.1 1148.4,591.1 1148.8,591.2 1149.1,591.2 1149.5,591.2 1149.9,591.2 1150.2,591.2 1150.6,591.2 1151.0,591.2 1151.3,591.3 1151.7,591.3 1152.1,591.3 1152.4,591.3 1152.8,591.3 1153.2,591.3 1153.5,591.3 1153.9,591.3 1154.3,591.3 1154.6,591.3 1155.0,591.3 1155.4,591.3 1155.7,591.3 1156.1,591.3 1156.5,591.3 1156.9,591.4 1157.2,591.4 1157.6,591.4 1158.0,591.4 1158.3,591.4 1158.7,591.4 1159.1,591.4 1159.4,591.4 1159.8,591.4 1160.2,591.4 1160.5,591.4 1160.9,591.4 1161.3,591.4 1161.6,591.4 1162.0,591.4 1162.4,591.4 1162.7,591.4 1163.1,591.4 1163.5,591.4 1163.8,591.4 1164.2,591.4 1164.6,591.4 1165.0,591.4 1165.3,591.4 1165.7,591.4 1166.1,591.4 1166.4,591.4 1166.8,591.4 1167.2,591.4 1167.5,591.4 1167.9,591.4 1168.3,591.4 1168.6,591.4 1169.0,591.4 1169.4,591.4 1169.7,591.4 1170.1,591.4 1170.5,591.4 1170.8,591.4 1171.2,591.4 1171.6,591.4 1172.0,591.4 1172.3,591.4 1172.7,591.4 1173.1,591.4 1173.4,591.4 1173.8,591.4 1174.2,591.4 1174.5,591.4 1174.9,591.4 1175.3,591.4 1175.6,591.4 1176.0,591.4 1176.4,591.4 1176.7,591.4 1177.1,591.4 1177.5,591.4 1177.8,591.4 1178.2,591.4 1178.6,591.4 1178.9,591.4 1179.3,591.4 1179.7,591.4 1180.1,591.4 1180.4,591.4 1180.8,591.4 1181.2,591.4 1181.5,591.4 1181.9,591.4 1182.3,591.4 1182.6,591.4 1183.0,591.4 1183.4,591.4 1183.7,591.4 1184.1,591.4 1184.5,591.4 1184.8,591.4 1185.2,591.4 1185.6,591.4 1185.9,591.4 1186.3,591.4 1186.7,591.4 1187.0,591.4 1187.4,591.4 1187.8,591.4 1188.2,591.4 1188.5,591.4 1188.9,591.4 1189.3,591.4 1189.6,591.4 1190.0,591.4 1190.4,591.4 1190.7,591.4 1191.1,591.4 1191.5,591.4 1191.8,591.4 1192.2,591.4 1192.6,591.4 1192.9,591.4 1193.3,591.4 1193.7,591.4 1194.0,591.4 1194.4,591.4 1194.8,591.4 1195.2,591.4 1195.5,591.4 1195.9,591.4 1196.3,591.4 1196.6,591.4 1197.0,591.4 1197.4,591.4 1197.7,591.4 1198.1,591.4 1198.5,591.4 1198.8,591.4 1199.2,591.4 1199.6,591.4 1199.9,591.4 1200.3,591.4 1200.7,591.4 1201.0,591.4 1201.4,591.4 1201.8,591.4 1202.1,591.4 1202.5,591.4 1202.9,591.4 1203.3,591.4 1203.6,591.4 1204.0,591.4 1204.4,591.4 1204.7,591.4 1205.1,591.4 1205.5,591.4 1205.8,591.4 1206.2,591.4 1206.6,591.4 1206.9,591.4 1207.3,591.4 1207.7,591.4 1208.0,591.4 1208.4,591.4 1208.8,591.4 1209.1,591.4 1209.5,591.4 1209.9,591.4 1210.2,591.4 1210.6,591.4 1211.0,591.4 1211.4,591.4 1211.7,591.4 1212.1,591.4 1212.5,591.4 1212.8,591.4 1213.2,591.4 1213.6,591.4 1213.9,591.4 1214.3,591.4" fill="none" stroke="#1f2578" stroke-width="2.6" stroke-linejoin="round" />
<path d="M978.6,591.4 979.0,591.4 979.4,591.4 979.7,591.4 980.1,591.4 980.5,591.4 980.8,591.4 981.2,591.4 981.6,591.4 981.9,591.4 982.3,591.4 982.7,591.4 983.0,591.4 983.4,591.4 983.8,591.4 984.1,591.4 984.5,591.4 984.9,591.4 985.2,591.4 985.6,591.4 986.0,591.4 986.4,591.4 986.7,591.4 987.1,591.4 987.5,591.4 987.8,591.4 988.2,591.4 988.6,591.4 988.9,591.4 989.3,591.4 989.7,591.4 990.0,591.4 990.4,591.4 990.8,591.4 991.1,591.4 991.5,591.4 991.9,591.4 992.2,591.4 992.6,591.4 993.0,591.4 993.4,591.4 993.7,591.4 994.1,591.4 994.5,591.4 994.8,591.4 995.2,591.4 995.6,591.4 995.9,591.4 996.3,591.4 996.7,591.4 997.0,591.4 997.4,591.4 997.8,591.4 998.1,591.4 998.5,591.4 998.9,591.4 999.2,591.4 999.6,591.4 1000.0,591.4 1000.3,591.4 1000.7,591.4 1001.1,591.4 1001.5,591.4 1001.8,591.4 1002.2,591.4 1002.6,591.4 1002.9,591.4 1003.3,591.4 1003.7,591.4 1004.0,591.4 1004.4,591.4 1004.8,591.4 1005.1,591.4 1005.5,591.4 1005.9,591.4 1006.2,591.4 1006.6,591.4 1007.0,591.4 1007.3,591.4 1007.7,591.4 1008.1,591.4 1008.4,591.4 1008.8,591.4 1009.2,591.4 1009.6,591.4 1009.9,591.3 1010.3,591.3 1010.7,591.3 1011.0,591.3 1011.4,591.3 1011.8,591.3 1012.1,591.3 1012.5,591.3 1012.9,591.3 1013.2,591.3 1013.6,591.3 1014.0,591.2 1014.3,591.2 1014.7,591.2 1015.1,591.2 1015.4,591.2 1015.8,591.2 1016.2,591.1 1016.5,591.1 1016.9,591.1 1017.3,591.0 1017.7,591.0 1018.0,591.0 1018.4,590.9 1018.8,590.9 1019.1,590.9 1019.5,590.8 1019.9,590.7 1020.2,590.7 1020.6,590.6 1021.0,590.6 1021.3,590.5 1021.7,590.4 1022.1,590.3 1022.4,590.2 1022.8,590.1 1023.2,590.0 1023.5,589.9 1023.9,589.8 1024.3,589.7 1024.7,589.5 1025.0,589.4 1025.4,589.2 1025.8,589.1 1026.1,588.9 1026.5,588.7 1026.9,588.5 1027.2,588.3 1027.6,588.0 1028.0,587.8 1028.3,587.5 1028.7,587.2 1029.1,586.9 1029.4,586.6 1029.8,586.3 1030.2,585.9 1030.5,585.5 1030.9,585.1 1031.3,584.7 1031.6,584.2 1032.0,583.7 1032.4,583.2 1032.8,582.7 1033.1,582.1 1033.5,581.5 1033.9,580.9 1034.2,580.3 1034.6,579.6 1035.0,578.8 1035.3,578.1 1035.7,577.3 1036.1,576.4 1036.4,575.5 1036.8,574.6 1037.2,573.7 1037.5,572.7 1037.9,571.6 1038.3,570.5 1038.6,569.4 1039.0,568.2 1039.4,566.9 1039.7,565.6 1040.1,564.3 1040.5,562.9 1040.9,561.4 1041.2,559.9 1041.6,558.3 1042.0,556.7 1042.3,555.0 1042.7,553.3 1043.1,551.5 1043.4,549.7 1043.8,547.8 1044.2,545.8 1044.5,543.8 1044.9,541.7 1045.3,539.6 1045.6,537.4 1046.0,535.1 1046.4,532.8 1046.7,530.4 1047.1,528.0 1047.5,525.5 1047.9,522.9 1048.2,520.4 1048.6,517.7 1049.0,515.0 1049.3,512.3 1049.7,509.5 1050.1,506.6 1050.4,503.8 1050.8,500.8 1051.2,497.9 1051.5,494.9 1051.9,491.8 1052.3,488.8 1052.6,485.7 1053.0,482.6 1053.4,479.4 1053.7,476.3 1054.1,473.1 1054.5,469.9 1054.8,466.7 1055.2,463.5 1055.6,460.3 1056.0,457.1 1056.3,453.9 1056.7,450.8 1057.1,447.6 1057.4,444.5 1057.8,441.4 1058.2,438.3 1058.5,435.3 1058.9,432.2 1059.3,429.3 1059.6,426.4 1060.0,423.5 1060.4,420.7 1060.7,418.0 1061.1,415.3 1061.5,412.7 1061.8,410.2 1062.2,407.7 1062.6,405.3 1062.9,403.1 1063.3,400.9 1063.7,398.8 1064.1,396.8 1064.4,394.9 1064.8,393.1 1065.2,391.4 1065.5,389.8 1065.9,388.4 1066.3,387.0 1066.6,385.8 1067.0,384.7 1067.4,383.8 1067.7,382.9 1068.1,382.2 1068.5,381.6 1068.8,381.2 1069.2,380.8 1069.6,380.6 1069.9,380.6 1070.3,380.6 1070.7,380.8 1071.1,381.2 1071.4,381.6 1071.8,382.2 1072.2,382.9 1072.5,383.8 1072.9,384.7 1073.3,385.8 1073.6,387.0 1074.0,388.4 1074.4,389.8 1074.7,391.4 1075.1,393.1 1075.5,394.9 1075.8,396.8 1076.2,398.8 1076.6,400.9 1076.9,403.1 1077.3,405.3 1077.7,407.7 1078.0,410.2 1078.4,412.7 1078.8,415.3 1079.2,418.0 1079.5,420.7 1079.9,423.5 1080.3,426.4 1080.6,429.3 1081.0,432.2 1081.4,435.3 1081.7,438.3 1082.1,441.4 1082.5,444.5 1082.8,447.6 1083.2,450.8 1083.6,453.9 1083.9,457.1 1084.3,460.3 1084.7,463.5 1085.0,466.7 1085.4,469.9 1085.8,473.1 1086.1,476.3 1086.5,479.4 1086.9,482.6 1087.3,485.7 1087.6,488.8 1088.0,491.8 1088.4,494.9 1088.7,497.9 1089.1,500.8 1089.5,503.8 1089.8,506.6 1090.2,509.5 1090.6,512.3 1090.9,515.0 1091.3,517.7 1091.7,520.4 1092.0,522.9 1092.4,525.5 1092.8,528.0 1093.1,530.4 1093.5,532.8 1093.9,535.1 1094.3,537.4 1094.6,539.6 1095.0,541.7 1095.4,543.8 1095.7,545.8 1096.1,547.8 1096.5,549.7 1096.8,551.5 1097.2,553.3 1097.6,555.0 1097.9,556.7 1098.3,558.3 1098.7,559.9 1099.0,561.4 1099.4,562.9 1099.8,564.3 1100.1,565.6 1100.5,566.9 1100.9,568.2 1101.2,569.4 1101.6,570.5 1102.0,571.6 1102.4,572.7 1102.7,573.7 1103.1,574.6 1103.5,575.5 1103.8,576.4 1104.2,577.3 1104.6,578.1 1104.9,578.8 1105.3,579.6 1105.7,580.3 1106.0,580.9 1106.4,581.5 1106.8,582.1 1107.1,582.7 1107.5,583.2 1107.9,583.7 1108.2,584.2 1108.6,584.7 1109.0,585.1 1109.3,585.5 1109.7,585.9 1110.1,586.3 1110.5,586.6 1110.8,586.9 1111.2,587.2 1111.6,587.5 1111.9,587.8 1112.3,588.0 1112.7,588.3 1113.0,588.5 1113.4,588.7 1113.8,588.9 1114.1,589.1 1114.5,589.2 1114.9,589.4 1115.2,589.5 1115.6,589.7 1116.0,589.8 1116.3,589.9 1116.7,590.0 1117.1,590.1 1117.5,590.2 1117.8,590.3 1118.2,590.4 1118.6,590.5 1118.9,590.6 1119.3,590.6 1119.7,590.7 1120.0,590.7 1120.4,590.8 1120.8,590.9 1121.1,590.9 1121.5,590.9 1121.9,591.0 1122.2,591.0 1122.6,591.0 1123.0,591.1 1123.3,591.1 1123.7,591.1 1124.1,591.2 1124.4,591.2 1124.8,591.2 1125.2,591.2 1125.6,591.2 1125.9,591.2 1126.3,591.3 1126.7,591.3 1127.0,591.3 1127.4,591.3 1127.8,591.3 1128.1,591.3 1128.5,591.3 1128.9,591.3 1129.2,591.3 1129.6,591.3 1130.0,591.3 1130.3,591.4 1130.7,591.4 1131.1,591.4 1131.4,591.4 1131.8,591.4 1132.2,591.4 1132.5,591.4 1132.9,591.4 1133.3,591.4 1133.7,591.4 1134.0,591.4 1134.4,591.4 1134.8,591.4 1135.1,591.4 1135.5,591.4 1135.9,591.4 1136.2,591.4 1136.6,591.4 1137.0,591.4 1137.3,591.4 1137.7,591.4 1138.1,591.4 1138.4,591.4 1138.8,591.4 1139.2,591.4 1139.5,591.4 1139.9,591.4 1140.3,591.4 1140.7,591.4 1141.0,591.4 1141.4,591.4 1141.8,591.4 1142.1,591.4 1142.5,591.4 1142.9,591.4 1143.2,591.4 1143.6,591.4 1144.0,591.4 1144.3,591.4 1144.7,591.4 1145.1,591.4 1145.4,591.4 1145.8,591.4 1146.2,591.4 1146.5,591.4 1146.9,591.4 1147.3,591.4 1147.6,591.4 1148.0,591.4 1148.4,591.4 1148.8,591.4 1149.1,591.4 1149.5,591.4 1149.9,591.4 1150.2,591.4 1150.6,591.4 1151.0,591.4 1151.3,591.4 1151.7,591.4 1152.1,591.4 1152.4,591.4 1152.8,591.4 1153.2,591.4 1153.5,591.4 1153.9,591.4 1154.3,591.4 1154.6,591.4 1155.0,591.4 1155.4,591.4 1155.7,591.4 1156.1,591.4 1156.5,591.4 1156.9,591.4 1157.2,591.4 1157.6,591.4 1158.0,591.4 1158.3,591.4 1158.7,591.4 1159.1,591.4 1159.4,591.4 1159.8,591.4 1160.2,591.4 1160.5,591.4 1160.9,591.4 1161.3,591.4 1161.6,591.4 1162.0,591.4 1162.4,591.4 1162.7,591.4 1163.1,591.4 1163.5,591.4 1163.8,591.4 1164.2,591.4 1164.6,591.4 1165.0,591.4 1165.3,591.4 1165.7,591.4 1166.1,591.4 1166.4,591.4 1166.8,591.4 1167.2,591.4 1167.5,591.4 1167.9,591.4 1168.3,591.4 1168.6,591.4 1169.0,591.4 1169.4,591.4 1169.7,591.4 1170.1,591.4 1170.5,591.4 1170.8,591.4 1171.2,591.4 1171.6,591.4 1172.0,591.4 1172.3,591.4 1172.7,591.4 1173.1,591.4 1173.4,591.4 1173.8,591.4 1174.2,591.4 1174.5,591.4 1174.9,591.4 1175.3,591.4 1175.6,591.4 1176.0,591.4 1176.4,591.4 1176.7,591.4 1177.1,591.4 1177.5,591.4 1177.8,591.4 1178.2,591.4 1178.6,591.4 1178.9,591.4 1179.3,591.4 1179.7,591.4 1180.1,591.4 1180.4,591.4 1180.8,591.4 1181.2,591.4 1181.5,591.4 1181.9,591.4 1182.3,591.4 1182.6,591.4 1183.0,591.4 1183.4,591.4 1183.7,591.4 1184.1,591.4 1184.5,591.4 1184.8,591.4 1185.2,591.4 1185.6,591.4 1185.9,591.4 1186.3,591.4 1186.7,591.4 1187.0,591.4 1187.4,591.4 1187.8,591.4 1188.2,591.4 1188.5,591.4 1188.9,591.4 1189.3,591.4 1189.6,591.4 1190.0,591.4 1190.4,591.4 1190.7,591.4 1191.1,591.4 1191.5,591.4 1191.8,591.4 1192.2,591.4 1192.6,591.4 1192.9,591.4 1193.3,591.4 1193.7,591.4 1194.0,591.4 1194.4,591.4 1194.8,591.4 1195.2,591.4 1195.5,591.4 1195.9,591.4 1196.3,591.4 1196.6,591.4 1197.0,591.4 1197.4,591.4 1197.7,591.4 1198.1,591.4 1198.5,591.4 1198.8,591.4 1199.2,591.4 1199.6,591.4 1199.9,591.4 1200.3,591.4 1200.7,591.4 1201.0,591.4 1201.4,591.4 1201.8,591.4 1202.1,591.4 1202.5,591.4 1202.9,591.4 1203.3,591.4 1203.6,591.4 1204.0,591.4 1204.4,591.4 1204.7,591.4 1205.1,591.4 1205.5,591.4 1205.8,591.4 1206.2,591.4 1206.6,591.4 1206.9,591.4 1207.3,591.4 1207.7,591.4 1208.0,591.4 1208.4,591.4 1208.8,591.4 1209.1,591.4 1209.5,591.4 1209.9,591.4 1210.2,591.4 1210.6,591.4 1211.0,591.4 1211.4,591.4 1211.7,591.4 1212.1,591.4 1212.5,591.4 1212.8,591.4 1213.2,591.4 1213.6,591.4 1213.9,591.4 1214.3,591.4" fill="none" stroke="#12a078" stroke-width="2.6" stroke-linejoin="round" />
<line x1="1068.8" y1="270.0" x2="1068.8" y2="591.0" stroke="#0b6b3c" stroke-width="3.6" stroke-dasharray="10.5 10.7" stroke-dashoffset="0"/>
<line x1="1081.7" y1="440.0" x2="1081.7" y2="591.0" stroke="#1a1c78" stroke-width="3.6" stroke-dasharray="10.5 10.7"/>
<path d="M981.3,581.9 981.6,581.8 982.0,581.6 982.4,581.4 982.7,581.3 983.1,581.1 983.5,580.9 983.8,580.8 984.2,580.6 984.6,580.4 985.0,580.2 985.3,580.1 985.7,579.9 986.1,579.7 986.4,579.5 986.8,579.3 987.2,579.1 987.5,579.0 987.9,578.8 988.3,578.6 988.6,578.4 989.0,578.2 989.4,578.0 989.7,577.8 990.1,577.6 990.5,577.3 990.8,577.1 991.2,576.9 991.6,576.7 992.0,576.5 992.3,576.3 992.7,576.1 993.1,575.8 993.4,575.6 993.8,575.4 994.2,575.1 994.5,574.9 994.9,574.7 995.3,574.4 995.6,574.2 996.0,574.0 996.4,573.7 996.7,573.5 997.1,573.2 997.5,573.0 997.8,572.7 998.2,572.5 998.6,572.2 998.9,572.0 999.3,571.7 999.7,571.4 1000.1,571.2 1000.4,570.9 1000.8,570.6 1001.2,570.4 1001.5,570.1 1001.9,569.8 1002.3,569.6 1002.6,569.3 1003.0,569.0 1003.4,568.7 1003.7,568.4 1004.1,568.1 1004.5,567.9 1004.8,567.6 1005.2,567.3 1005.6,567.0 1005.9,566.7 1006.3,566.4 1006.7,566.1 1007.0,565.8 1007.4,565.5 1007.8,565.2 1008.2,564.9 1008.5,564.6 1008.9,564.3 1009.3,563.9 1009.6,563.6 1010.0,563.3 1010.4,563.0 1010.7,562.7 1011.1,562.4 1011.5,562.0 1011.8,561.7 1012.2,561.4 1012.6,561.1 1012.9,560.7 1013.3,560.4 1013.7,560.1 1014.0,559.8 1014.4,559.4 1014.8,559.1 1015.2,558.8 1015.5,558.4 1015.9,558.1 1016.3,557.8 1016.6,557.4 1017.0,557.1 1017.4,556.7 1017.7,556.4 1018.1,556.0 1018.5,555.7 1018.8,555.4 1019.2,555.0 1019.6,554.7 1019.9,554.3 1020.3,554.0 1020.7,553.6 1021.0,553.3 1021.4,552.9 1021.8,552.6 1022.1,552.2 1022.5,551.9 1022.9,551.5 1023.3,551.2 1023.6,550.8 1024.0,550.5 1024.4,550.1 1024.7,549.8 1025.1,549.4 1025.5,549.1 1025.8,548.7 1026.2,548.3 1026.6,548.0 1026.9,547.6 1027.3,547.3 1027.7,546.9 1028.0,546.6 1028.4,546.2 1028.8,545.9 1029.1,545.5 1029.5,545.2 1029.9,544.8 1030.2,544.5 1030.6,544.1 1031.0,543.8 1031.4,543.4 1031.7,543.1 1032.1,542.7 1032.5,542.4 1032.8,542.1 1033.2,541.7 1033.6,541.4 1033.9,541.0 1034.3,540.7 1034.7,540.4 1035.0,540.0 1035.4,539.7 1035.8,539.4 1036.1,539.0 1036.5,538.7 1036.9,538.4 1037.2,538.0 1037.6,537.7 1038.0,537.4 1038.4,537.1 1038.7,536.7 1039.1,536.4 1039.5,536.1 1039.8,535.8 1040.2,535.5 1040.6,535.2 1040.9,534.9 1041.3,534.6 1041.7,534.2 1042.0,533.9 1042.4,533.6 1042.8,533.3 1043.1,533.1 1043.5,532.8 1043.9,532.5 1044.2,532.2 1044.6,531.9 1045.0,531.6 1045.3,531.3 1045.7,531.1 1046.1,530.8 1046.5,530.5 1046.8,530.3 1047.2,530.0 1047.6,529.7 1047.9,529.5 1048.3,529.2 1048.7,529.0 1049.0,528.7 1049.4,528.5 1049.8,528.2 1050.1,528.0 1050.5,527.8 1050.9,527.5 1051.2,527.3 1051.6,527.1 1052.0,526.9 1052.3,526.7 1052.7,526.4 1053.1,526.2 1053.4,526.0 1053.8,525.8 1054.2,525.6 1054.6,525.4 1054.9,525.3 1055.3,525.1 1055.7,524.9 1056.0,524.7 1056.4,524.5 1056.8,524.4 1057.1,524.2 1057.5,524.1 1057.9,523.9 1058.2,523.8 1058.6,523.6 1059.0,523.5 1059.3,523.3 1059.7,523.2 1060.1,523.1 1060.4,522.9 1060.8,522.8 1061.2,522.7 1061.5,522.6 1061.9,522.5 1062.3,522.4 1062.7,522.3 1063.0,522.2 1063.4,522.1 1063.8,522.0 1064.1,522.0 1064.5,521.9 1064.9,521.8 1065.2,521.7 1065.6,521.7 1066.0,521.6 1066.3,521.6 1066.7,521.5 1067.1,521.5 1067.4,521.5 1067.8,521.4 1068.2,521.4 1068.5,521.4 1068.9,521.4 1069.3,521.4 1069.7,521.4 1070.0,521.4 1070.4,521.4 1070.8,521.4 1071.1,521.4 1071.5,521.4 1071.9,521.4 1072.2,521.4 1072.6,521.5 1073.0,521.5 1073.3,521.6 1073.7,521.6 1074.1,521.7 1074.4,521.7 1074.8,521.8 1075.2,521.8 1075.5,521.9 1075.9,522.0 1076.3,522.1 1076.6,522.1 1077.0,522.2 1077.4,522.3 1077.8,522.4 1078.1,522.5 1078.5,522.6 1078.9,522.8 1079.2,522.9 1079.6,523.0 1080.0,523.1 1080.3,523.2 1080.7,523.4 1081.1,523.5 1081.4,523.7 1081.8,523.8 1082.2,524.0 1082.5,524.1 1082.9,524.3 1083.3,524.4 1083.6,524.6 1084.0,524.8 1084.4,525.0 1084.7,525.2 1085.1,525.3 1085.5,525.5 1085.9,525.7 1086.2,525.9 1086.6,526.1 1087.0,526.3 1087.3,526.5 1087.7,526.7 1088.1,527.0 1088.4,527.2 1088.8,527.4 1089.2,527.6 1089.5,527.9 1089.9,528.1 1090.3,528.3 1090.6,528.6 1091.0,528.8 1091.4,529.1 1091.7,529.3 1092.1,529.6 1092.5,529.8 1092.9,530.1 1093.2,530.4 1093.6,530.6 1094.0,530.9 1094.3,531.2 1094.7,531.5 1095.1,531.7 1095.4,532.0 1095.8,532.3 1096.2,532.6 1096.5,532.9 1096.9,533.2 1097.3,533.5 1097.6,533.8 1098.0,534.1 1098.4,534.4 1098.7,534.7 1099.1,535.0 1099.5,535.3 1099.8,535.6 1100.2,535.9 1100.6,536.2 1101.0,536.5 1101.3,536.9 1101.7,537.2 1102.1,537.5 1102.4,537.8 1102.8,538.2 1103.2,538.5 1103.5,538.8 1103.9,539.2 1104.3,539.5 1104.6,539.8 1105.0,540.2 1105.4,540.5 1105.7,540.8 1106.1,541.2 1106.5,541.5 1106.8,541.9 1107.2,542.2 1107.6,542.5 1107.9,542.9 1108.3,543.2 1108.7,543.6 1109.1,543.9 1109.4,544.3 1109.8,544.6 1110.2,545.0 1110.5,545.3 1110.9,545.7 1111.3,546.0 1111.6,546.4 1112.0,546.7 1112.4,547.1 1112.7,547.4 1113.1,547.8 1113.5,548.1 1113.8,548.5 1114.2,548.8 1114.6,549.2 1114.9,549.5 1115.3,549.9 1115.7,550.3 1116.1,550.6 1116.4,551.0 1116.8,551.3 1117.2,551.7 1117.5,552.0 1117.9,552.4 1118.3,552.7 1118.6,553.1 1119.0,553.4 1119.4,553.8 1119.7,554.1 1120.1,554.5 1120.5,554.8 1120.8,555.2 1121.2,555.5 1121.6,555.8 1121.9,556.2 1122.3,556.5 1122.7,556.9 1123.0,557.2 1123.4,557.5 1123.8,557.9 1124.2,558.2 1124.5,558.6 1124.9,558.9 1125.3,559.2 1125.6,559.6 1126.0,559.9 1126.4,560.2 1126.7,560.6 1127.1,560.9 1127.5,561.2 1127.8,561.5 1128.2,561.9 1128.6,562.2 1128.9,562.5 1129.3,562.8 1129.7,563.1 1130.0,563.4 1130.4,563.8 1130.8,564.1 1131.1,564.4 1131.5,564.7 1131.9,565.0 1132.3,565.3 1132.6,565.6 1133.0,565.9 1133.4,566.2 1133.7,566.5 1134.1,566.8 1134.5,567.1 1134.8,567.4 1135.2,567.7 1135.6,568.0 1135.9,568.3 1136.3,568.5 1136.7,568.8 1137.0,569.1 1137.4,569.4 1137.8,569.7 1138.1,569.9 1138.5,570.2 1138.9,570.5 1139.3,570.8 1139.6,571.0 1140.0,571.3 1140.4,571.5 1140.7,571.8 1141.1,572.1 1141.5,572.3 1141.8,572.6 1142.2,572.8 1142.6,573.1 1142.9,573.3 1143.3,573.6 1143.7,573.8 1144.0,574.1 1144.4,574.3 1144.8,574.5 1145.1,574.8 1145.5,575.0 1145.9,575.2 1146.2,575.5 1146.6,575.7 1147.0,575.9 1147.4,576.1 1147.7,576.4 1148.1,576.6 1148.5,576.8 1148.8,577.0 1149.2,577.2 1149.6,577.4 1149.9,577.6 1150.3,577.8 1150.7,578.0 1151.0,578.2 1151.4,578.4 1151.8,578.6 1152.1,578.8 1152.5,579.0 1152.9,579.2 1153.2,579.4 1153.6,579.6 1154.0,579.8 1154.3,580.0 1154.7,580.1 1155.1,580.3 1155.5,580.5 1155.8,580.7 1156.2,580.8 1156.6,581.0 1156.9,581.2 1157.3,581.3 1157.7,581.5 1158.0,581.7 1158.4,581.8 L1158.4,591.4 L981.3,591.4 Z" fill="#c22c58" fill-opacity="0.55"/>
<path d="M892.4,591.4 892.8,591.4 893.2,591.4 893.6,591.4 893.9,591.4 894.3,591.4 894.7,591.4 895.0,591.4 895.4,591.4 895.8,591.4 896.1,591.4 896.5,591.4 896.9,591.4 897.2,591.4 897.6,591.4 898.0,591.4 898.3,591.4 898.7,591.4 899.1,591.4 899.4,591.4 899.8,591.4 900.2,591.4 900.6,591.4 900.9,591.4 901.3,591.3 901.7,591.3 902.0,591.3 902.4,591.3 902.8,591.3 903.1,591.3 903.5,591.3 903.9,591.3 904.2,591.3 904.6,591.3 905.0,591.3 905.3,591.3 905.7,591.3 906.1,591.3 906.4,591.3 906.8,591.3 907.2,591.3 907.5,591.3 907.9,591.3 908.3,591.3 908.7,591.3 909.0,591.3 909.4,591.3 909.8,591.3 910.1,591.3 910.5,591.3 910.9,591.3 911.2,591.3 911.6,591.3 912.0,591.3 912.3,591.3 912.7,591.3 913.1,591.3 913.4,591.3 913.8,591.3 914.2,591.3 914.5,591.2 914.9,591.2 915.3,591.2 915.6,591.2 916.0,591.2 916.4,591.2 916.8,591.2 917.1,591.2 917.5,591.2 917.9,591.2 918.2,591.2 918.6,591.2 919.0,591.2 919.3,591.2 919.7,591.2 920.1,591.2 920.4,591.2 920.8,591.2 921.2,591.1 921.5,591.1 921.9,591.1 922.3,591.1 922.6,591.1 923.0,591.1 923.4,591.1 923.8,591.1 924.1,591.1 924.5,591.1 924.9,591.1 925.2,591.1 925.6,591.1 926.0,591.0 926.3,591.0 926.7,591.0 927.1,591.0 927.4,591.0 927.8,591.0 928.2,591.0 928.5,591.0 928.9,591.0 929.3,590.9 929.6,590.9 930.0,590.9 930.4,590.9 930.7,590.9 931.1,590.9 931.5,590.9 931.9,590.9 932.2,590.8 932.6,590.8 933.0,590.8 933.3,590.8 933.7,590.8 934.1,590.8 934.4,590.7 934.8,590.7 935.2,590.7 935.5,590.7 935.9,590.7 936.3,590.7 936.6,590.6 937.0,590.6 937.4,590.6 937.7,590.6 938.1,590.6 938.5,590.5 938.8,590.5 939.2,590.5 939.6,590.5 940.0,590.4 940.3,590.4 940.7,590.4 941.1,590.4 941.4,590.4 941.8,590.3 942.2,590.3 942.5,590.3 942.9,590.2 943.3,590.2 943.6,590.2 944.0,590.2 944.4,590.1 944.7,590.1 945.1,590.1 945.5,590.0 945.8,590.0 946.2,590.0 946.6,589.9 947.0,589.9 947.3,589.9 947.7,589.8 948.1,589.8 948.4,589.8 948.8,589.7 949.2,589.7 949.5,589.6 949.9,589.6 950.3,589.6 950.6,589.5 951.0,589.5 951.4,589.4 951.7,589.4 952.1,589.4 952.5,589.3 952.8,589.3 953.2,589.2 953.6,589.2 953.9,589.1 954.3,589.1 954.7,589.0 955.1,589.0 955.4,588.9 955.8,588.9 956.2,588.8 956.5,588.7 956.9,588.7 957.3,588.6 957.6,588.6 958.0,588.5 958.4,588.4 958.7,588.4 959.1,588.3 959.5,588.3 959.8,588.2 960.2,588.1 960.6,588.1 960.9,588.0 961.3,587.9 961.7,587.8 962.0,587.8 962.4,587.7 962.8,587.6 963.2,587.5 963.5,587.5 963.9,587.4 964.3,587.3 964.6,587.2 965.0,587.1 965.4,587.1 965.7,587.0 966.1,586.9 966.5,586.8 966.8,586.7 967.2,586.6 967.6,586.5 967.9,586.4 968.3,586.3 968.7,586.2 969.0,586.1 969.4,586.0 969.8,585.9 970.2,585.8 970.5,585.7 970.9,585.6 971.3,585.5 971.6,585.4 972.0,585.3 972.4,585.2 972.7,585.1 973.1,585.0 973.5,584.8 973.8,584.7 974.2,584.6 974.6,584.5 974.9,584.3 975.3,584.2 975.7,584.1 976.0,584.0 976.4,583.8 976.8,583.7 977.1,583.6 977.5,583.4 977.9,583.3 978.3,583.1 978.6,583.0 979.0,582.9 979.4,582.7 979.7,582.6 980.1,582.4 980.5,582.3 980.8,582.1 981.2,582.0 981.6,581.8 981.9,581.6 982.3,581.5 982.7,581.3 983.0,581.1 983.4,581.0 983.8,580.8 984.1,580.6 984.5,580.5 984.9,580.3 985.2,580.1 985.6,579.9 986.0,579.7 986.4,579.6 986.7,579.4 987.1,579.2 987.5,579.0 987.8,578.8 988.2,578.6 988.6,578.4 988.9,578.2 989.3,578.0 989.7,577.8 990.0,577.6 990.4,577.4 990.8,577.2 991.1,577.0 991.5,576.8 991.9,576.5 992.2,576.3 992.6,576.1 993.0,575.9 993.4,575.6 993.7,575.4 994.1,575.2 994.5,575.0 994.8,574.7 995.2,574.5 995.6,574.3 995.9,574.0 996.3,573.8 996.7,573.5 997.0,573.3 997.4,573.0 997.8,572.8 998.1,572.5 998.5,572.3 998.9,572.0 999.2,571.8 999.6,571.5 1000.0,571.2 1000.3,571.0 1000.7,570.7 1001.1,570.4 1001.5,570.2 1001.8,569.9 1002.2,569.6 1002.6,569.3 1002.9,569.1 1003.3,568.8 1003.7,568.5 1004.0,568.2 1004.4,567.9 1004.8,567.6 1005.1,567.3 1005.5,567.0 1005.9,566.7 1006.2,566.5 1006.6,566.2 1007.0,565.9 1007.3,565.5 1007.7,565.2 1008.1,564.9 1008.4,564.6 1008.8,564.3 1009.2,564.0 1009.6,563.7 1009.9,563.4 1010.3,563.1 1010.7,562.8 1011.0,562.4 1011.4,562.1 1011.8,561.8 1012.1,561.5 1012.5,561.1 1012.9,560.8 1013.2,560.5 1013.6,560.2 1014.0,559.8 1014.3,559.5 1014.7,559.2 1015.1,558.8 1015.4,558.5 1015.8,558.2 1016.2,557.8 1016.5,557.5 1016.9,557.1 1017.3,556.8 1017.7,556.5 1018.0,556.1 1018.4,555.8 1018.8,555.4 1019.1,555.1 1019.5,554.7 1019.9,554.4 1020.2,554.0 1020.6,553.7 1021.0,553.3 1021.3,553.0 1021.7,552.6 1022.1,552.3 1022.4,551.9 1022.8,551.6 1023.2,551.2 1023.5,550.9 1023.9,550.5 1024.3,550.2 1024.7,549.8 1025.0,549.5 1025.4,549.1 1025.8,548.8 1026.1,548.4 1026.5,548.1 1026.9,547.7 1027.2,547.4 1027.6,547.0 1028.0,546.7 1028.3,546.3 1028.7,546.0 1029.1,545.6 1029.4,545.3 1029.8,544.9 1030.2,544.6 1030.5,544.2 1030.9,543.9 1031.3,543.5 1031.6,543.2 1032.0,542.8 1032.4,542.5 1032.8,542.1 1033.1,541.8 1033.5,541.4 1033.9,541.1 1034.2,540.8 1034.6,540.4 1035.0,540.1 1035.3,539.8 1035.7,539.4 1036.1,539.1 1036.4,538.8 1036.8,538.4 1037.2,538.1 1037.5,537.8 1037.9,537.4 1038.3,537.1 1038.6,536.8 1039.0,536.5 1039.4,536.2 1039.7,535.9 1040.1,535.5 1040.5,535.2 1040.9,534.9 1041.2,534.6 1041.6,534.3 1042.0,534.0 1042.3,533.7 1042.7,533.4 1043.1,533.1 1043.4,532.8 1043.8,532.5 1044.2,532.2 1044.5,532.0 1044.9,531.7 1045.3,531.4 1045.6,531.1 1046.0,530.9 1046.4,530.6 1046.7,530.3 1047.1,530.1 1047.5,529.8 1047.9,529.5 1048.2,529.3 1048.6,529.0 1049.0,528.8 1049.3,528.5 1049.7,528.3 1050.1,528.1 1050.4,527.8 1050.8,527.6 1051.2,527.4 1051.5,527.1 1051.9,526.9 1052.3,526.7 1052.6,526.5 1053.0,526.3 1053.4,526.1 1053.7,525.9 1054.1,525.7 1054.5,525.5 1054.8,525.3 1055.2,525.1 1055.6,524.9 1056.0,524.8 1056.3,524.6 1056.7,524.4 1057.1,524.3 1057.4,524.1 1057.8,523.9 1058.2,523.8 1058.5,523.6 1058.9,523.5 1059.3,523.4 1059.6,523.2 1060.0,523.1 1060.4,523.0 1060.7,522.8 1061.1,522.7 1061.5,522.6 1061.8,522.5 1062.2,522.4 1062.6,522.3 1062.9,522.2 1063.3,522.1 1063.7,522.0 1064.1,522.0 1064.4,521.9 1064.8,521.8 1065.2,521.8 1065.5,521.7 1065.9,521.6 1066.3,521.6 1066.6,521.5 1067.0,521.5 1067.4,521.5 1067.7,521.4 1068.1,521.4 1068.5,521.4 1068.8,521.4 1069.2,521.4 1069.6,521.4 1069.9,521.4 1070.3,521.4 1070.7,521.4 1071.1,521.4 1071.4,521.4 1071.8,521.4 1072.2,521.4 1072.5,521.5 1072.9,521.5 1073.3,521.5 1073.6,521.6 1074.0,521.6 1074.4,521.7 1074.7,521.8 1075.1,521.8 1075.5,521.9 1075.8,522.0 1076.2,522.0 1076.6,522.1 1076.9,522.2 1077.3,522.3 1077.7,522.4 1078.0,522.5 1078.4,522.6 1078.8,522.7 1079.2,522.8 1079.5,523.0 1079.9,523.1 1080.3,523.2 1080.6,523.4 1081.0,523.5 1081.4,523.6 1081.7,523.8 1082.1,523.9 1082.5,524.1 1082.8,524.3 1083.2,524.4 1083.6,524.6 1083.9,524.8 1084.3,524.9 1084.7,525.1 1085.0,525.3 1085.4,525.5 1085.8,525.7 1086.1,525.9 1086.5,526.1 1086.9,526.3 1087.3,526.5 1087.6,526.7 1088.0,526.9 1088.4,527.1 1088.7,527.4 1089.1,527.6 1089.5,527.8 1089.8,528.1 1090.2,528.3 1090.6,528.5 1090.9,528.8 1091.3,529.0 1091.7,529.3 1092.0,529.5 1092.4,529.8 1092.8,530.1 1093.1,530.3 1093.5,530.6 1093.9,530.9 1094.3,531.1 1094.6,531.4 1095.0,531.7 1095.4,532.0 1095.7,532.2 1096.1,532.5 1096.5,532.8 1096.8,533.1 1097.2,533.4 1097.6,533.7 1097.9,534.0 1098.3,534.3 1098.7,534.6 1099.0,534.9 1099.4,535.2 1099.8,535.5 1100.1,535.9 1100.5,536.2 1100.9,536.5 1101.2,536.8 1101.6,537.1 1102.0,537.4 1102.4,537.8 1102.7,538.1 1103.1,538.4 1103.5,538.8 1103.8,539.1 1104.2,539.4 1104.6,539.8 1104.9,540.1 1105.3,540.4 1105.7,540.8 1106.0,541.1 1106.4,541.4 1106.8,541.8 1107.1,542.1 1107.5,542.5 1107.9,542.8 1108.2,543.2 1108.6,543.5 1109.0,543.9 1109.3,544.2 1109.7,544.6 1110.1,544.9 1110.5,545.3 1110.8,545.6 1111.2,546.0 1111.6,546.3 1111.9,546.7 1112.3,547.0 1112.7,547.4 1113.0,547.7 1113.4,548.1 1113.8,548.4 1114.1,548.8 1114.5,549.1 1114.9,549.5 1115.2,549.8 1115.6,550.2 1116.0,550.5 1116.3,550.9 1116.7,551.2 1117.1,551.6 1117.5,551.9 1117.8,552.3 1118.2,552.6 1118.6,553.0 1118.9,553.3 1119.3,553.7 1119.7,554.0 1120.0,554.4 1120.4,554.7 1120.8,555.1 1121.1,555.4 1121.5,555.8 1121.9,556.1 1122.2,556.5 1122.6,556.8 1123.0,557.1 1123.3,557.5 1123.7,557.8 1124.1,558.2 1124.4,558.5 1124.8,558.8 1125.2,559.2 1125.6,559.5 1125.9,559.8 1126.3,560.2 1126.7,560.5 1127.0,560.8 1127.4,561.1 1127.8,561.5 1128.1,561.8 1128.5,562.1 1128.9,562.4 1129.2,562.8 1129.6,563.1 1130.0,563.4 1130.3,563.7 1130.7,564.0 1131.1,564.3 1131.4,564.6 1131.8,564.9 1132.2,565.2 1132.5,565.5 1132.9,565.9 1133.3,566.2 1133.7,566.5 1134.0,566.7 1134.4,567.0 1134.8,567.3 1135.1,567.6 1135.5,567.9 1135.9,568.2 1136.2,568.5 1136.6,568.8 1137.0,569.1 1137.3,569.3 1137.7,569.6 1138.1,569.9 1138.4,570.2 1138.8,570.4 1139.2,570.7 1139.5,571.0 1139.9,571.2 1140.3,571.5 1140.7,571.8 1141.0,572.0 1141.4,572.3 1141.8,572.5 1142.1,572.8 1142.5,573.0 1142.9,573.3 1143.2,573.5 1143.6,573.8 1144.0,574.0 1144.3,574.3 1144.7,574.5 1145.1,574.7 1145.4,575.0 1145.8,575.2 1146.2,575.4 1146.5,575.6 1146.9,575.9 1147.3,576.1 1147.6,576.3 1148.0,576.5 1148.4,576.8 1148.8,577.0 1149.1,577.2 1149.5,577.4 1149.9,577.6 1150.2,577.8 1150.6,578.0 1151.0,578.2 1151.3,578.4 1151.7,578.6 1152.1,578.8 1152.4,579.0 1152.8,579.2 1153.2,579.4 1153.5,579.6 1153.9,579.7 1154.3,579.9 1154.6,580.1 1155.0,580.3 1155.4,580.5 1155.7,580.6 1156.1,580.8 1156.5,581.0 1156.9,581.1 1157.2,581.3 1157.6,581.5 1158.0,581.6 1158.3,581.8 1158.7,582.0 1159.1,582.1 1159.4,582.3 1159.8,582.4 1160.2,582.6 1160.5,582.7 1160.9,582.9 1161.3,583.0 1161.6,583.1 1162.0,583.3 1162.4,583.4 1162.7,583.6 1163.1,583.7 1163.5,583.8 1163.8,584.0 1164.2,584.1 1164.6,584.2 1165.0,584.3 1165.3,584.5 1165.7,584.6 1166.1,584.7 1166.4,584.8 1166.8,585.0 1167.2,585.1 1167.5,585.2 1167.9,585.3 1168.3,585.4 1168.6,585.5 1169.0,585.6 1169.4,585.7 1169.7,585.8 1170.1,585.9 1170.5,586.0 1170.8,586.1 1171.2,586.2 1171.6,586.3 1172.0,586.4 1172.3,586.5 1172.7,586.6 1173.1,586.7 1173.4,586.8 1173.8,586.9 1174.2,587.0 1174.5,587.1 1174.9,587.1 1175.3,587.2 1175.6,587.3 1176.0,587.4 1176.4,587.5 1176.7,587.5 1177.1,587.6 1177.5,587.7 1177.8,587.8 1178.2,587.8 1178.6,587.9 1178.9,588.0 1179.3,588.1 1179.7,588.1 1180.1,588.2 1180.4,588.3 1180.8,588.3 1181.2,588.4 1181.5,588.4 1181.9,588.5 1182.3,588.6 1182.6,588.6 1183.0,588.7 1183.4,588.7 1183.7,588.8 1184.1,588.9 1184.5,588.9 1184.8,589.0 1185.2,589.0 1185.6,589.1 1185.9,589.1 1186.3,589.2 1186.7,589.2 1187.0,589.3 1187.4,589.3 1187.8,589.4 1188.2,589.4 1188.5,589.4 1188.9,589.5 1189.3,589.5 1189.6,589.6 1190.0,589.6 1190.4,589.6 1190.7,589.7 1191.1,589.7 1191.5,589.8 1191.8,589.8 1192.2,589.8 1192.6,589.9 1192.9,589.9 1193.3,589.9 1193.7,590.0 1194.0,590.0 1194.4,590.0 1194.8,590.1 1195.2,590.1 1195.5,590.1 1195.9,590.2 1196.3,590.2 1196.6,590.2 1197.0,590.2 1197.4,590.3 1197.7,590.3 1198.1,590.3 1198.5,590.4 1198.8,590.4 1199.2,590.4 1199.6,590.4 1199.9,590.4 1200.3,590.5 1200.7,590.5 1201.0,590.5 1201.4,590.5 1201.8,590.6 1202.1,590.6 1202.5,590.6 1202.9,590.6 1203.3,590.6 1203.6,590.7 1204.0,590.7 1204.4,590.7 1204.7,590.7 1205.1,590.7 1205.5,590.7 1205.8,590.8 1206.2,590.8 1206.6,590.8 1206.9,590.8 1207.3,590.8 1207.7,590.8 1208.0,590.9 1208.4,590.9 1208.8,590.9 1209.1,590.9 1209.5,590.9 1209.9,590.9 1210.2,590.9 1210.6,590.9 1211.0,591.0 1211.4,591.0 1211.7,591.0 1212.1,591.0 1212.5,591.0 1212.8,591.0 1213.2,591.0 1213.6,591.0 1213.9,591.0 1214.3,591.1" fill="none" stroke="#cc0c68" stroke-width="2.8" stroke-linejoin="round" />
<line x1="1067.2" y1="522.0" x2="1067.2" y2="591.0" stroke="#b0183f" stroke-width="3.6" stroke-dasharray="10.5 10.7"/>
<line x1="862.3" y1="379.0" x2="862.3" y2="592.5" stroke="#000" stroke-width="2.4" />
<line x1="850.3" y1="591.4" x2="862.3" y2="591.4" stroke="#000" stroke-width="2.4" />
<line x1="855.8" y1="565.0" x2="862.3" y2="565.0" stroke="#000" stroke-width="2.4" />
<line x1="850.3" y1="538.5" x2="862.3" y2="538.5" stroke="#000" stroke-width="2.4" />
<line x1="855.8" y1="512.1" x2="862.3" y2="512.1" stroke="#000" stroke-width="2.4" />
<line x1="850.3" y1="485.7" x2="862.3" y2="485.7" stroke="#000" stroke-width="2.4" />
<line x1="855.8" y1="459.3" x2="862.3" y2="459.3" stroke="#000" stroke-width="2.4" />
<line x1="850.3" y1="432.9" x2="862.3" y2="432.9" stroke="#000" stroke-width="2.4" />
<line x1="855.8" y1="406.4" x2="862.3" y2="406.4" stroke="#000" stroke-width="2.4" />
<line x1="850.3" y1="380.0" x2="862.3" y2="380.0" stroke="#000" stroke-width="2.4" />
<line x1="850.2" y1="591.4" x2="1215.0" y2="591.4" stroke="#000" stroke-width="2.4" />
<line x1="882.9" y1="591.4" x2="882.9" y2="598.4" stroke="#000" stroke-width="2.4" />
<line x1="919.7" y1="591.4" x2="919.7" y2="604.4" stroke="#000" stroke-width="2.4" />
<line x1="956.5" y1="591.4" x2="956.5" y2="598.4" stroke="#000" stroke-width="2.4" />
<line x1="993.4" y1="591.4" x2="993.4" y2="604.4" stroke="#000" stroke-width="2.4" />
<line x1="1030.2" y1="591.4" x2="1030.2" y2="598.4" stroke="#000" stroke-width="2.4" />
<line x1="1067.0" y1="591.4" x2="1067.0" y2="604.4" stroke="#000" stroke-width="2.4" />
<line x1="1103.8" y1="591.4" x2="1103.8" y2="598.4" stroke="#000" stroke-width="2.4" />
<line x1="1140.7" y1="591.4" x2="1140.7" y2="604.4" stroke="#000" stroke-width="2.4" />
<line x1="1177.5" y1="591.4" x2="1177.5" y2="598.4" stroke="#000" stroke-width="2.4" />
<line x1="1214.3" y1="591.4" x2="1214.3" y2="604.4" stroke="#000" stroke-width="2.4" />
<text x="913.2" y="626.8" font-size="25.2" fill="#000" text-anchor="middle" font-weight="normal" >−200</text>
<text x="1067.0" y="626.8" font-size="25.2" fill="#000" text-anchor="middle" font-weight="normal" >0</text>
<text x="1214.3" y="626.8" font-size="25.2" fill="#000" text-anchor="middle" font-weight="normal" >200</text>
<text x="825.0" y="594.5" font-size="25.2" fill="#000" text-anchor="end" font-weight="normal" >0</text>
<text x="840" y="546.8" font-size="25.2" text-anchor="end">5×10<tspan font-size="14" dy="-10">−3</tspan></text>
<text x="840" y="493.9" font-size="25.2" text-anchor="end">10×10<tspan font-size="14" dy="-10">−3</tspan></text>
<text x="840" y="441.1" font-size="25.2" text-anchor="end">15×10<tspan font-size="14" dy="-10">−3</tspan></text>
<text x="840" y="388.2" font-size="25.2" text-anchor="end">20×10<tspan font-size="14" dy="-10">−3</tspan></text>
<text x="732.2" y="472.3" font-size="26.2" fill="#000" text-anchor="middle" transform="rotate(-90 732.2 472.3)">Probability</text>
<text x="1212.3" y="658.6" font-size="25.2" fill="#000" text-anchor="end" font-weight="normal" >(x−24,430 y BP) years</text>
<text x="680.8" y="813.6" font-size="25.2" fill="#000" text-anchor="start" font-weight="bold" >k</text>
<text x="776.0" y="811.6" font-size="25.2" fill="#000" text-anchor="start" font-weight="normal" >Top</text>
<line x1="823.2" y1="827.5" x2="777.8" y2="827.5" stroke="#4d4d4d" stroke-width="2.4" />
<path d="M764.5,827.5 L783.5,818.0 L778.8,827.5 L783.5,837.0 Z" fill="#4d4d4d"/>
<text x="918.2" y="822.8" font-size="25.2" fill="#000" text-anchor="middle" font-weight="normal" >0</text>
<text x="1214.7" y="822.8" font-size="25.2" fill="#000" text-anchor="start" font-weight="normal" >139 ± 2 years</text>
<defs><filter id="tex" x="0" y="0" width="1" height="1" color-interpolation-filters="sRGB">
<feTurbulence type="fractalNoise" baseFrequency="0.55 0.014" numOctaves="2" seed="4"/><feColorMatrix type="matrix" values="1 0 0 0 0  1 0 0 0 0  1 0 0 0 0  0 0 0 0 1" result="v"/>
<feTurbulence type="fractalNoise" baseFrequency="0.18 0.12" numOctaves="2" seed="9"/><feColorMatrix type="matrix" values="1 0 0 0 0  1 0 0 0 0  1 0 0 0 0  0 0 0 0 1" result="m"/>
<feTurbulence type="fractalNoise" baseFrequency="0.02 0.22" numOctaves="3" seed="2"/><feColorMatrix type="matrix" values="1 0 0 0 0  1 0 0 0 0  1 0 0 0 0  0 0 0 0 1" result="s0"/>
<feComponentTransfer in="s0" result="mask"><feFuncR type="linear" slope="7" intercept="-1.62"/><feFuncG type="linear" slope="7" intercept="-1.62"/><feFuncB type="linear" slope="7" intercept="-1.62"/></feComponentTransfer>
<feComposite in="v" in2="m" operator="arithmetic" k1="0" k2="1.0" k3="0.75" k4="-0.28" result="vm"/>
<feComposite in="vm" in2="mask" operator="arithmetic" k1="1" k2="0" k3="0" k4="0" result="g"/>
<feColorMatrix in="g" type="matrix" values="0.2 0 0 0 0  1.0 0 0 0 0  0.15 0 0 0 0  0 0 0 0 1"/>
</filter></defs>
<rect x="679.4" y="846.6" width="711.0" height="207.2" filter="url(#tex)"/>
<defs><filter id="tex2" x="0" y="0" width="1" height="1" color-interpolation-filters="sRGB">
<feTurbulence type="fractalNoise" baseFrequency="0.03 0.12" numOctaves="3" seed="7"/><feColorMatrix type="matrix" values="1 0 0 0 0  1 0 0 0 0  1 0 0 0 0  0 0 0 0 1" result="h"/>
<feTurbulence type="fractalNoise" baseFrequency="0.02 0.25" numOctaves="2" seed="12"/><feColorMatrix type="matrix" values="1 0 0 0 0  1 0 0 0 0  1 0 0 0 0  0 0 0 0 1" result="s0"/>
<feComponentTransfer in="s0" result="mask"><feFuncR type="linear" slope="8" intercept="-2.2"/><feFuncG type="linear" slope="8" intercept="-2.2"/><feFuncB type="linear" slope="8" intercept="-2.2"/></feComponentTransfer>
<feComponentTransfer in="h" result="hh"><feFuncR type="linear" slope="2.0" intercept="-0.3"/><feFuncG type="linear" slope="2.0" intercept="-0.3"/><feFuncB type="linear" slope="2.0" intercept="-0.3"/></feComponentTransfer>
<feComposite in="hh" in2="mask" operator="arithmetic" k1="1" k2="0" k3="0" k4="0" result="g"/>
<feColorMatrix in="g" type="matrix" values="0.2 0 0 0 0  1.0 0 0 0 0  0.15 0 0 0 0  0 0 0 0 1"/>
</filter></defs>
<defs><linearGradient id="fadeR" x1="1225" y1="0" x2="1292" y2="0" gradientUnits="userSpaceOnUse"><stop offset="0" stop-color="#fff" stop-opacity="0"/><stop offset="1" stop-color="#fff" stop-opacity="1"/></linearGradient><mask id="mR" maskUnits="userSpaceOnUse"><rect x="1200" y="800" width="250" height="300" fill="url(#fadeR)"/></mask></defs>
<rect x="1225" y="846.6" width="165.4" height="207.2" filter="url(#tex2)" opacity="0.85" mask="url(#mR)"/>
<rect x="925" y="846.6" width="362" height="207.2" fill="#000" opacity="0.05"/>
<rect x="679.4" y="846.6" width="245.6" height="207.2" fill="rgb(60,215,50)" opacity="0.05"/>
<ellipse cx="1127.0" cy="937.0" rx="7.0" ry="5.5" fill="#000" opacity="0.85"/>
<ellipse cx="1258.0" cy="1047.0" rx="20.0" ry="4.0" fill="#000" opacity="0.80"/>
<ellipse cx="700.0" cy="895.0" rx="5.0" ry="3.0" fill="#000" opacity="0.70"/>
<ellipse cx="745.0" cy="1050.0" rx="11.0" ry="2.5" fill="#000" opacity="0.80"/>
<ellipse cx="1203.0" cy="1050.0" rx="13.0" ry="3.0" fill="#000" opacity="0.70"/>
<ellipse cx="1380.0" cy="1015.0" rx="10.0" ry="2.0" fill="#000" opacity="0.80"/>
<line x1="918.3" y1="828.5" x2="918.3" y2="1091.7" stroke="#000" stroke-width="2.6" />
<line x1="1288.8" y1="828.5" x2="1288.8" y2="1466.0" stroke="#000" stroke-width="2.6" />
<circle cx="945.3" cy="892.8" r="6.6" fill="#e5d93c"/>
<circle cx="972.5" cy="886.5" r="6.6" fill="#e5d93c"/>
<circle cx="999.3" cy="887.0" r="6.6" fill="#e5d93c"/>
<circle cx="1027.0" cy="887.0" r="6.6" fill="#e5d93c"/>
<circle cx="1060.1" cy="887.0" r="6.6" fill="#e5d93c"/>
<circle cx="1088.3" cy="887.0" r="6.6" fill="#e5d93c"/>
<circle cx="1119.9" cy="887.0" r="6.6" fill="#e5d93c"/>
<circle cx="1150.5" cy="887.0" r="6.6" fill="#e5d93c"/>
<circle cx="1176.8" cy="887.0" r="6.6" fill="#e5d93c"/>
<circle cx="1198.2" cy="888.0" r="6.6" fill="#e5d93c"/>
<circle cx="1224.5" cy="888.9" r="6.6" fill="#e5d93c"/>
<circle cx="1254.6" cy="891.4" r="6.6" fill="#e5d93c"/>
<circle cx="1276.0" cy="888.9" r="6.6" fill="#e5d93c"/>
<circle cx="1291.6" cy="875.8" r="6.6" fill="#e5d93c"/>
<circle cx="1303.3" cy="886.5" r="6.6" fill="#e5d93c"/>
<circle cx="1319.3" cy="886.5" r="6.6" fill="#e5d93c"/>
<circle cx="1341.2" cy="887.0" r="6.6" fill="#e5d93c"/>
<circle cx="1361.1" cy="886.5" r="6.6" fill="#e5d93c"/>
<path d="M679.9,1079.5 733.7,1175.6 786.9,1146.5 840.7,1076.1 866.9,1167.8 894.0,1111.2 919.9,1104.7 947.5,1155.6 974.0,1149.6 1000.5,1215.4 1027.2,1259.5 1054.0,1245.5 1053.8,1245.8 1080.8,1280.5 1107.6,1255.3 1133.7,1308.2 1160.4,1271.9 1186.8,1407.1 1214.1,1359.4 1240.2,1441.8 1267.3,1469.4 1272.8,1467.9 1288.2,1479.2 1293.4,1459.3 1298.9,1445.4 1309.7,1455.6 1320.4,1387.1 1331.2,1428.6 1336.4,1405.5 1341.9,1406.1 1347.1,1304.2 1352.7,1330.3 1357.9,1271.9 1363.1,1280.5 1368.6,1202.8 1373.8,1174.3" fill="none" stroke="#12a078" stroke-width="1.9" stroke-linejoin="round" />
<line x1="920.0" y1="1395.0" x2="920.0" y2="1120.0" stroke="#000" stroke-width="2.4" />
<path d="M920.0,1108.5 L930.5,1128.0 L920.0,1123.1 L909.5,1128.0 Z" fill="#231815"/>
<line x1="1289.2" y1="1527.4" x2="1289.2" y2="1497.0" stroke="#231815" stroke-width="2.4" />
<path d="M1289.2,1484.6 L1300.2,1505.0 L1289.2,1499.9 L1278.2,1505.0 Z" fill="#231815"/>
<text x="832.4" y="1419.8" font-size="25.2" fill="#000" text-anchor="start" font-weight="normal" >24,193 ± 20 y BP</text>
<text x="1197.7" y="1560.0" font-size="25.2" fill="#000" text-anchor="start" font-weight="normal" >24,332 ± 20 y BP</text>
<text x="1177.6" y="1253.5" font-size="25.2" fill="#7b1d1f" text-anchor="start" font-weight="normal" >decades</text>
<line x1="1172.0" y1="1270.7" x2="1344.0" y2="1270.7" stroke="#7b1d1f" stroke-width="2.2" />
<path d="M1162.9,1270.7 L1183.0,1262.7 L1177.0,1270.7 L1183.0,1278.7 Z" fill="#7b1d1f"/>
<path d="M1353.3,1270.7 L1333.0,1278.7 L1339.1,1270.7 L1333.0,1262.7 Z" fill="#7b1d1f"/>
<line x1="1377.8" y1="1064.9" x2="1377.8" y2="1458.9" stroke="#12a078" stroke-width="2.6" />
<line x1="1377.8" y1="1066.1" x2="1390.3" y2="1066.1" stroke="#12a078" stroke-width="2.4" />
<line x1="1377.8" y1="1164.0" x2="1386.3" y2="1164.0" stroke="#12a078" stroke-width="2.4" />
<line x1="1377.8" y1="1262.0" x2="1390.3" y2="1262.0" stroke="#12a078" stroke-width="2.4" />
<line x1="1377.8" y1="1359.8" x2="1386.3" y2="1359.8" stroke="#12a078" stroke-width="2.4" />
<line x1="1377.8" y1="1457.7" x2="1390.3" y2="1457.7" stroke="#12a078" stroke-width="2.4" />
<text x="1399.3" y="1079.0" font-size="25.2" fill="#12a078" text-anchor="start" font-weight="normal" >−2</text>
<text x="1399.3" y="1270.5" font-size="25.2" fill="#12a078" text-anchor="start" font-weight="normal" >−1.5</text>
<text x="1399.3" y="1466.5" font-size="25.2" fill="#12a078" text-anchor="start" font-weight="normal" >−1</text>
<text x="1491.5" y="1272.0" font-size="26.2" fill="#12a078" text-anchor="middle" transform="rotate(-90 1491.5 1272.0)">Cherrapunji δ<tspan font-size="14" dy="-9.5">18</tspan><tspan dy="9.5">O</tspan> (‰, VPDB)</text>
<line x1="679.7" y1="1590.6" x2="1373.6" y2="1590.6" stroke="#000" stroke-width="2.4" />
<line x1="680.4" y1="1590.6" x2="680.4" y2="1575.6" stroke="#000" stroke-width="2.4" />
<line x1="707.1" y1="1590.6" x2="707.1" y2="1581.6" stroke="#000" stroke-width="2.4" />
<line x1="733.7" y1="1590.6" x2="733.7" y2="1575.6" stroke="#000" stroke-width="2.4" />
<line x1="760.4" y1="1590.6" x2="760.4" y2="1581.6" stroke="#000" stroke-width="2.4" />
<line x1="787.1" y1="1590.6" x2="787.1" y2="1575.6" stroke="#000" stroke-width="2.4" />
<line x1="813.7" y1="1590.6" x2="813.7" y2="1581.6" stroke="#000" stroke-width="2.4" />
<line x1="840.4" y1="1590.6" x2="840.4" y2="1575.6" stroke="#000" stroke-width="2.4" />
<line x1="867.0" y1="1590.6" x2="867.0" y2="1581.6" stroke="#000" stroke-width="2.4" />
<line x1="893.7" y1="1590.6" x2="893.7" y2="1570.6" stroke="#000" stroke-width="2.4" />
<line x1="920.4" y1="1590.6" x2="920.4" y2="1581.6" stroke="#000" stroke-width="2.4" />
<line x1="947.0" y1="1590.6" x2="947.0" y2="1575.6" stroke="#000" stroke-width="2.4" />
<line x1="973.7" y1="1590.6" x2="973.7" y2="1581.6" stroke="#000" stroke-width="2.4" />
<line x1="1000.3" y1="1590.6" x2="1000.3" y2="1575.6" stroke="#000" stroke-width="2.4" />
<line x1="1027.0" y1="1590.6" x2="1027.0" y2="1581.6" stroke="#000" stroke-width="2.4" />
<line x1="1053.7" y1="1590.6" x2="1053.7" y2="1575.6" stroke="#000" stroke-width="2.4" />
<line x1="1080.3" y1="1590.6" x2="1080.3" y2="1581.6" stroke="#000" stroke-width="2.4" />
<line x1="1107.0" y1="1590.6" x2="1107.0" y2="1575.6" stroke="#000" stroke-width="2.4" />
<line x1="1133.6" y1="1590.6" x2="1133.6" y2="1581.6" stroke="#000" stroke-width="2.4" />
<line x1="1160.3" y1="1590.6" x2="1160.3" y2="1570.6" stroke="#000" stroke-width="2.4" />
<line x1="1187.0" y1="1590.6" x2="1187.0" y2="1581.6" stroke="#000" stroke-width="2.4" />
<line x1="1213.6" y1="1590.6" x2="1213.6" y2="1575.6" stroke="#000" stroke-width="2.4" />
<line x1="1240.3" y1="1590.6" x2="1240.3" y2="1581.6" stroke="#000" stroke-width="2.4" />
<line x1="1266.9" y1="1590.6" x2="1266.9" y2="1575.6" stroke="#000" stroke-width="2.4" />
<line x1="1293.6" y1="1590.6" x2="1293.6" y2="1581.6" stroke="#000" stroke-width="2.4" />
<line x1="1320.3" y1="1590.6" x2="1320.3" y2="1575.6" stroke="#000" stroke-width="2.4" />
<line x1="1346.9" y1="1590.6" x2="1346.9" y2="1581.6" stroke="#000" stroke-width="2.4" />
<line x1="1373.6" y1="1590.6" x2="1373.6" y2="1575.6" stroke="#000" stroke-width="2.4" />
<text x="893.7" y="1621.7" font-size="25.2" fill="#000" text-anchor="middle" font-weight="normal" >320</text>
<text x="1160.3" y="1621.7" font-size="25.2" fill="#000" text-anchor="middle" font-weight="normal" >325</text>
<text x="1029.5" y="1650.0" font-size="26.2" fill="#000" text-anchor="middle" font-weight="normal" >Depth (mm)</text>
</svg></body></html>
